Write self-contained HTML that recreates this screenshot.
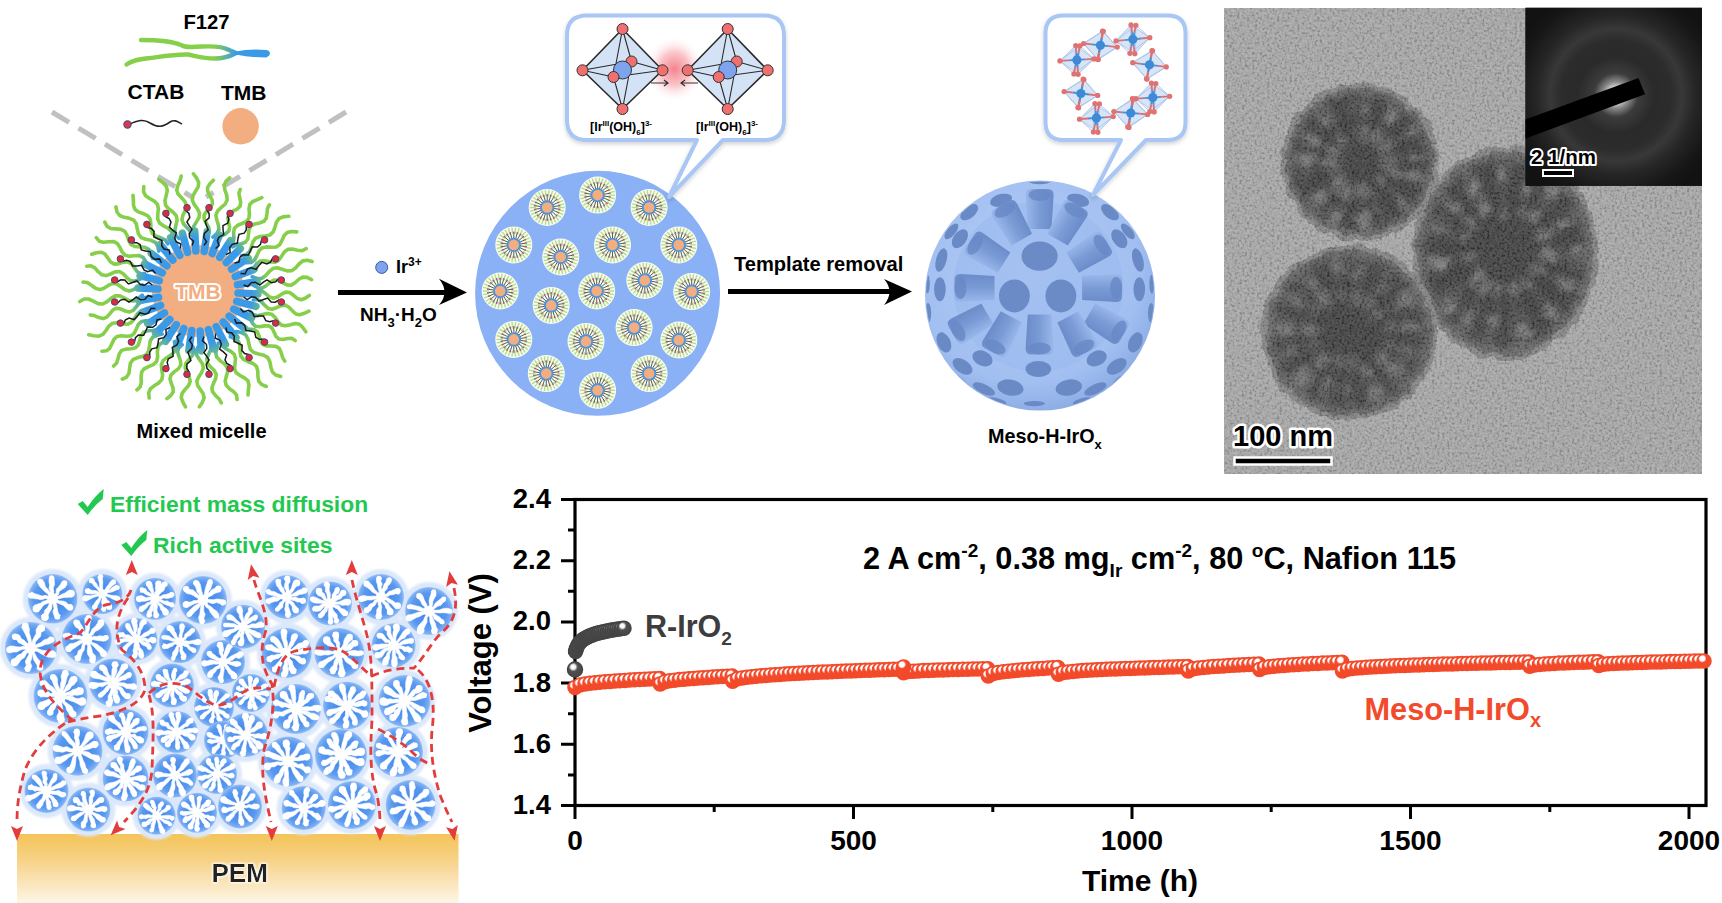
<!DOCTYPE html>
<html><head><meta charset="utf-8"><title>Meso-H-IrOx</title>
<style>html,body{margin:0;padding:0;background:#fff;width:1722px;height:903px;overflow:hidden}svg{display:block}</style></head>
<body><svg width="1722" height="903" viewBox="0 0 1722 903"><defs><radialGradient id="hlr" cx="0.38" cy="0.33" r="0.5"><stop offset="0" stop-color="#fff"/><stop offset="0.35" stop-color="#fff"/><stop offset="0.6" stop-color="#f24a2a"/><stop offset="1" stop-color="#f24a2a"/></radialGradient><radialGradient id="hlg" cx="0.38" cy="0.33" r="0.5"><stop offset="0" stop-color="#fff"/><stop offset="0.3" stop-color="#f4f4f4"/><stop offset="0.6" stop-color="#505050"/><stop offset="1" stop-color="#4a4a4a"/></radialGradient><clipPath id="temclip"><rect x="1224" y="8" width="478" height="466"/></clipPath><filter id="noise" x="0" y="0" width="100%" height="100%"><feTurbulence type="fractalNoise" baseFrequency="0.4" numOctaves="2" seed="3"/><feColorMatrix type="matrix" values="2.4 0 0 0 -0.7  2.4 0 0 0 -0.7  2.4 0 0 0 -0.7  0 0 0 0 0.16"/><feGaussianBlur stdDeviation="0.5"/></filter><filter id="rough" x="-20%" y="-20%" width="140%" height="140%"><feTurbulence type="fractalNoise" baseFrequency="0.08" numOctaves="3" seed="5" result="t"/><feDisplacementMap in="SourceGraphic" in2="t" scale="9" xChannelSelector="R" yChannelSelector="G"/></filter><filter id="blur2"><feGaussianBlur stdDeviation="2.2"/></filter><filter id="blur6" x="-50%" y="-50%" width="200%" height="200%"><feGaussianBlur stdDeviation="6"/></filter><radialGradient id="sphg"><stop offset="0" stop-color="#3c3c3c"/><stop offset="0.75" stop-color="#4e4e4e"/><stop offset="1" stop-color="#6a6a6a"/></radialGradient><radialGradient id="sphg2"><stop offset="0" stop-color="#333"/><stop offset="0.6" stop-color="#444"/><stop offset="0.88" stop-color="#525252"/><stop offset="1" stop-color="#646464"/></radialGradient><filter id="blur3" x="-10%" y="-10%" width="120%" height="120%"><feGaussianBlur stdDeviation="3"/></filter><radialGradient id="saed" cx="1616" cy="95" r="110" gradientUnits="userSpaceOnUse"><stop offset="0" stop-color="#fff"/><stop offset="0.05" stop-color="#fafafa"/><stop offset="0.12" stop-color="#8a8a8a"/><stop offset="0.2" stop-color="#3c3c3c"/><stop offset="0.35" stop-color="#2a2a2a"/><stop offset="0.5" stop-color="#2c2c2c"/><stop offset="0.6" stop-color="#383838"/><stop offset="0.72" stop-color="#262626"/><stop offset="0.9" stop-color="#161616"/><stop offset="1" stop-color="#121212"/></radialGradient><linearGradient id="f127g" x1="125" y1="0" x2="268" y2="0" gradientUnits="userSpaceOnUse"><stop offset="0" stop-color="#86cf4a"/><stop offset="0.62" stop-color="#86cf4a"/><stop offset="0.78" stop-color="#3a9ae8"/><stop offset="1" stop-color="#3a9ae8"/></linearGradient><radialGradient id="micg" cx="198" cy="291" r="118" gradientUnits="userSpaceOnUse"><stop offset="0" stop-color="#3a9ae8"/><stop offset="0.46" stop-color="#3a9ae8"/><stop offset="0.6" stop-color="#86cf4a"/><stop offset="1" stop-color="#86cf4a"/></radialGradient><g id="mic"><circle r="18.5" fill="#fafcf2"/><path d="M11.00 0.00L17.50 0.00M10.76 2.29L17.12 3.64M10.05 4.47L15.99 7.12M8.90 6.47L14.16 10.29M7.36 8.17L11.71 13.01M5.50 9.53L8.75 15.16M3.40 10.46L5.41 16.64M1.15 10.94L1.83 17.40M-1.15 10.94L-1.83 17.40M-3.40 10.46L-5.41 16.64M-5.50 9.53L-8.75 15.16M-7.36 8.17L-11.71 13.01M-8.90 6.47L-14.16 10.29M-10.05 4.47L-15.99 7.12M-10.76 2.29L-17.12 3.64M-11.00 0.00L-17.50 0.00M-10.76 -2.29L-17.12 -3.64M-10.05 -4.47L-15.99 -7.12M-8.90 -6.47L-14.16 -10.29M-7.36 -8.17L-11.71 -13.01M-5.50 -9.53L-8.75 -15.16M-3.40 -10.46L-5.41 -16.64M-1.15 -10.94L-1.83 -17.40M1.15 -10.94L1.83 -17.40M3.40 -10.46L5.41 -16.64M5.50 -9.53L8.75 -15.16M7.36 -8.17L11.71 -13.01M8.90 -6.47L14.16 -10.29M10.05 -4.47L15.99 -7.12M10.76 -2.29L17.12 -3.64" stroke="#b4dc8c" stroke-width="1.4"/><path d="M6.43 0.93L11.88 1.71M5.91 2.70L10.92 4.98M4.91 4.26L9.07 7.86M3.51 5.47L6.49 10.10M1.83 6.24L3.38 11.51M0.00 6.50L0.00 12.00M-1.83 6.24L-3.38 11.51M-3.51 5.47L-6.49 10.10M-4.91 4.26L-9.07 7.86M-5.91 2.70L-10.92 4.98M-6.43 0.93L-11.88 1.71M-6.43 -0.93L-11.88 -1.71M-5.91 -2.70L-10.92 -4.98M-4.91 -4.26L-9.07 -7.86M-3.51 -5.47L-6.49 -10.10M-1.83 -6.24L-3.38 -11.51M-0.00 -6.50L-0.00 -12.00M1.83 -6.24L3.38 -11.51M3.51 -5.47L6.49 -10.10M4.91 -4.26L9.07 -7.86M5.91 -2.70L10.92 -4.98M6.43 -0.93L11.88 -1.71" stroke="#4a4a3a" stroke-width="0.9"/><g fill="#a05a8a"><circle cx="12.37" cy="1.78" r="0.9"/><circle cx="11.37" cy="5.19" r="0.9"/><circle cx="9.45" cy="8.19" r="0.9"/><circle cx="6.76" cy="10.52" r="0.9"/><circle cx="3.52" cy="11.99" r="0.9"/><circle cx="0.00" cy="12.50" r="0.9"/><circle cx="-3.52" cy="11.99" r="0.9"/><circle cx="-6.76" cy="10.52" r="0.9"/><circle cx="-9.45" cy="8.19" r="0.9"/><circle cx="-11.37" cy="5.19" r="0.9"/><circle cx="-12.37" cy="1.78" r="0.9"/><circle cx="-12.37" cy="-1.78" r="0.9"/><circle cx="-11.37" cy="-5.19" r="0.9"/><circle cx="-9.45" cy="-8.19" r="0.9"/><circle cx="-6.76" cy="-10.52" r="0.9"/><circle cx="-3.52" cy="-11.99" r="0.9"/><circle cx="-0.00" cy="-12.50" r="0.9"/><circle cx="3.52" cy="-11.99" r="0.9"/><circle cx="6.76" cy="-10.52" r="0.9"/><circle cx="9.45" cy="-8.19" r="0.9"/><circle cx="11.37" cy="-5.19" r="0.9"/><circle cx="12.37" cy="-1.78" r="0.9"/></g><circle r="7.2" fill="#4d94dc"/><circle r="5.3" fill="#f2ae80"/></g><filter id="shadow" x="-10%" y="-10%" width="120%" height="130%"><feDropShadow dx="0" dy="2" stdDeviation="2" flood-color="#000" flood-opacity="0.18"/></filter><radialGradient id="glow"><stop offset="0" stop-color="#f46a78" stop-opacity="0.85"/><stop offset="0.5" stop-color="#f68a94" stop-opacity="0.5"/><stop offset="1" stop-color="#fff" stop-opacity="0"/></radialGradient><radialGradient id="mesog" cx="0.45" cy="0.4" r="0.6"><stop offset="0" stop-color="#b4cdf6"/><stop offset="0.8" stop-color="#a2bff1"/><stop offset="1" stop-color="#8eaee6"/></radialGradient><clipPath id="mesoclip"><circle cx="1040" cy="295.6" r="114"/></clipPath><linearGradient id="tubeg" x1="0" y1="0" x2="1" y2="0"><stop offset="0" stop-color="#9ab8ec"/><stop offset="0.5" stop-color="#7b9bd6"/><stop offset="1" stop-color="#6a8bc8"/></linearGradient><linearGradient id="pemg" x1="0" y1="0" x2="0" y2="1"><stop offset="0" stop-color="#f4c458"/><stop offset="0.4" stop-color="#f7d38a"/><stop offset="1" stop-color="#fdf6e6"/></linearGradient><filter id="glowt" x="-20%" y="-30%" width="140%" height="160%"><feMorphology operator="dilate" radius="1.2" in="SourceAlpha"/><feGaussianBlur stdDeviation="1.2"/><feColorMatrix values="0 0 0 0 1 0 0 0 0 1 0 0 0 0 1 0 0 0 1 0"/><feMerge><feMergeNode/><feMergeNode in="SourceGraphic"/></feMerge></filter><filter id="haze" x="-20%" y="-20%" width="140%" height="140%"><feGaussianBlur stdDeviation="1.2"/></filter><radialGradient id="bsph"><stop offset="0" stop-color="#3a82ea"/><stop offset="0.75" stop-color="#5898f0"/><stop offset="0.93" stop-color="#7aaef4"/><stop offset="1" stop-color="#a0c4f6"/></radialGradient></defs><rect x="575" y="499.5" width="1131" height="306" fill="none" stroke="#000" stroke-width="3.2"/>
<path d="M561 805.5H575 M568 774.9H575 M561 744.3H575 M568 713.7H575 M561 683.1H575 M568 652.5H575 M561 621.9H575 M568 591.3H575 M561 560.7H575 M568 530.1H575 M561 499.5H575 M575.0 805.5V819 M714.2 805.5V812 M853.5 805.5V819 M992.8 805.5V812 M1132.0 805.5V819 M1271.2 805.5V812 M1410.5 805.5V819 M1549.8 805.5V812 M1689.0 805.5V819" stroke="#000" stroke-width="3" fill="none"/>
<text x="551" y="814.0" text-anchor="end" font-size="27.5" font-weight="bold" font-family="'Liberation Sans', sans-serif">1.4</text>
<text x="551" y="752.8" text-anchor="end" font-size="27.5" font-weight="bold" font-family="'Liberation Sans', sans-serif">1.6</text>
<text x="551" y="691.6" text-anchor="end" font-size="27.5" font-weight="bold" font-family="'Liberation Sans', sans-serif">1.8</text>
<text x="551" y="630.4" text-anchor="end" font-size="27.5" font-weight="bold" font-family="'Liberation Sans', sans-serif">2.0</text>
<text x="551" y="569.2" text-anchor="end" font-size="27.5" font-weight="bold" font-family="'Liberation Sans', sans-serif">2.2</text>
<text x="551" y="508.0" text-anchor="end" font-size="27.5" font-weight="bold" font-family="'Liberation Sans', sans-serif">2.4</text>
<text x="575.0" y="850" text-anchor="middle" font-size="28" font-weight="bold" font-family="'Liberation Sans', sans-serif">0</text>
<text x="853.5" y="850" text-anchor="middle" font-size="28" font-weight="bold" font-family="'Liberation Sans', sans-serif">500</text>
<text x="1132.0" y="850" text-anchor="middle" font-size="28" font-weight="bold" font-family="'Liberation Sans', sans-serif">1000</text>
<text x="1410.5" y="850" text-anchor="middle" font-size="28" font-weight="bold" font-family="'Liberation Sans', sans-serif">1500</text>
<text x="1689.0" y="850" text-anchor="middle" font-size="28" font-weight="bold" font-family="'Liberation Sans', sans-serif">2000</text>
<text x="1140" y="891" text-anchor="middle" font-size="30" font-weight="bold" font-family="'Liberation Sans', sans-serif">Time (h)</text>
<text transform="translate(490.5 653) rotate(-90)" text-anchor="middle" font-size="31" font-weight="bold" font-family="'Liberation Sans', sans-serif">Voltage (V)</text>
<text x="863" y="569" font-size="30.7" font-weight="bold" font-family="'Liberation Sans', sans-serif">2 A cm<tspan dy="-12" font-size="19">-2</tspan><tspan dy="12">, 0.38 mg</tspan><tspan dy="8" font-size="19">Ir</tspan><tspan dy="-8"> cm</tspan><tspan dy="-12" font-size="19">-2</tspan><tspan dy="12">, 80 </tspan><tspan dy="-12" font-size="19">o</tspan><tspan dy="12">C, Nafion 115</tspan></text>
<text x="645" y="637" font-size="30.5" font-weight="bold" fill="#3d3d3d" font-family="'Liberation Sans', sans-serif">R-IrO<tspan dy="8" font-size="19">2</tspan></text>
<text x="1364.5" y="720" font-size="30.7" font-weight="bold" fill="#f24a2a" font-family="'Liberation Sans', sans-serif">Meso-H-IrO<tspan dy="7" font-size="20">x</tspan></text>
<g fill="url(#hlr)" stroke="#f24a2a" stroke-width="1.5"><circle cx="575.0" cy="687.4" r="7"/><circle cx="580.0" cy="684.9" r="7"/><circle cx="585.0" cy="684.0" r="7"/><circle cx="589.9" cy="683.3" r="7"/><circle cx="594.9" cy="682.8" r="7"/><circle cx="599.9" cy="682.3" r="7"/><circle cx="604.9" cy="681.8" r="7"/><circle cx="609.9" cy="681.4" r="7"/><circle cx="614.8" cy="681.1" r="7"/><circle cx="619.8" cy="680.7" r="7"/><circle cx="624.8" cy="680.4" r="7"/><circle cx="629.8" cy="680.1" r="7"/><circle cx="634.8" cy="679.8" r="7"/><circle cx="639.7" cy="679.5" r="7"/><circle cx="644.7" cy="679.3" r="7"/><circle cx="649.7" cy="679.0" r="7"/><circle cx="654.7" cy="678.7" r="7"/><circle cx="659.7" cy="678.5" r="7"/><circle cx="660.2" cy="684.0" r="7"/><circle cx="665.0" cy="681.7" r="7"/><circle cx="669.8" cy="680.8" r="7"/><circle cx="674.6" cy="680.2" r="7"/><circle cx="679.4" cy="679.6" r="7"/><circle cx="684.2" cy="679.2" r="7"/><circle cx="689.0" cy="678.8" r="7"/><circle cx="693.8" cy="678.4" r="7"/><circle cx="698.5" cy="678.0" r="7"/><circle cx="703.3" cy="677.7" r="7"/><circle cx="708.1" cy="677.4" r="7"/><circle cx="712.9" cy="677.1" r="7"/><circle cx="717.7" cy="676.8" r="7"/><circle cx="722.5" cy="676.6" r="7"/><circle cx="727.3" cy="676.3" r="7"/><circle cx="732.1" cy="676.1" r="7"/><circle cx="732.6" cy="681.3" r="7"/><circle cx="737.4" cy="678.8" r="7"/><circle cx="742.1" cy="677.9" r="7"/><circle cx="746.8" cy="677.3" r="7"/><circle cx="751.6" cy="676.7" r="7"/><circle cx="756.3" cy="676.2" r="7"/><circle cx="761.0" cy="675.8" r="7"/><circle cx="765.8" cy="675.4" r="7"/><circle cx="770.5" cy="675.0" r="7"/><circle cx="775.2" cy="674.7" r="7"/><circle cx="780.0" cy="674.4" r="7"/><circle cx="784.7" cy="674.1" r="7"/><circle cx="789.4" cy="673.8" r="7"/><circle cx="794.2" cy="673.5" r="7"/><circle cx="798.9" cy="673.3" r="7"/><circle cx="803.6" cy="673.0" r="7"/><circle cx="808.4" cy="672.8" r="7"/><circle cx="813.1" cy="672.5" r="7"/><circle cx="817.9" cy="672.3" r="7"/><circle cx="822.6" cy="672.1" r="7"/><circle cx="827.3" cy="671.9" r="7"/><circle cx="832.1" cy="671.7" r="7"/><circle cx="836.8" cy="671.5" r="7"/><circle cx="841.5" cy="671.3" r="7"/><circle cx="846.3" cy="671.1" r="7"/><circle cx="851.0" cy="670.9" r="7"/><circle cx="855.7" cy="670.7" r="7"/><circle cx="860.5" cy="670.5" r="7"/><circle cx="865.2" cy="670.3" r="7"/><circle cx="869.9" cy="670.2" r="7"/><circle cx="874.7" cy="670.0" r="7"/><circle cx="879.4" cy="669.8" r="7"/><circle cx="884.1" cy="669.7" r="7"/><circle cx="888.9" cy="669.5" r="7"/><circle cx="893.6" cy="669.3" r="7"/><circle cx="898.3" cy="669.2" r="7"/><circle cx="903.1" cy="669.0" r="7"/><circle cx="903.6" cy="672.7" r="7"/><circle cx="908.6" cy="671.6" r="7"/><circle cx="913.5" cy="671.2" r="7"/><circle cx="918.5" cy="670.9" r="7"/><circle cx="923.4" cy="670.6" r="7"/><circle cx="928.4" cy="670.4" r="7"/><circle cx="933.3" cy="670.2" r="7"/><circle cx="938.3" cy="670.0" r="7"/><circle cx="943.2" cy="669.9" r="7"/><circle cx="948.2" cy="669.7" r="7"/><circle cx="953.1" cy="669.6" r="7"/><circle cx="958.1" cy="669.4" r="7"/><circle cx="963.0" cy="669.3" r="7"/><circle cx="967.9" cy="669.2" r="7"/><circle cx="972.9" cy="669.1" r="7"/><circle cx="977.8" cy="668.9" r="7"/><circle cx="982.8" cy="668.8" r="7"/><circle cx="987.7" cy="668.7" r="7"/><circle cx="988.3" cy="676.1" r="7"/><circle cx="993.3" cy="673.4" r="7"/><circle cx="998.2" cy="672.5" r="7"/><circle cx="1003.2" cy="671.8" r="7"/><circle cx="1008.2" cy="671.2" r="7"/><circle cx="1013.2" cy="670.7" r="7"/><circle cx="1018.1" cy="670.2" r="7"/><circle cx="1023.1" cy="669.8" r="7"/><circle cx="1028.1" cy="669.4" r="7"/><circle cx="1033.1" cy="669.0" r="7"/><circle cx="1038.0" cy="668.7" r="7"/><circle cx="1043.0" cy="668.4" r="7"/><circle cx="1048.0" cy="668.1" r="7"/><circle cx="1052.9" cy="667.8" r="7"/><circle cx="1057.9" cy="667.5" r="7"/><circle cx="1058.5" cy="674.2" r="7"/><circle cx="1063.3" cy="672.5" r="7"/><circle cx="1068.0" cy="671.9" r="7"/><circle cx="1072.8" cy="671.4" r="7"/><circle cx="1077.6" cy="671.0" r="7"/><circle cx="1082.4" cy="670.6" r="7"/><circle cx="1087.2" cy="670.3" r="7"/><circle cx="1092.0" cy="670.1" r="7"/><circle cx="1096.8" cy="669.8" r="7"/><circle cx="1101.6" cy="669.6" r="7"/><circle cx="1106.3" cy="669.3" r="7"/><circle cx="1111.1" cy="669.1" r="7"/><circle cx="1115.9" cy="668.9" r="7"/><circle cx="1120.7" cy="668.7" r="7"/><circle cx="1125.5" cy="668.5" r="7"/><circle cx="1130.3" cy="668.4" r="7"/><circle cx="1135.1" cy="668.2" r="7"/><circle cx="1139.8" cy="668.0" r="7"/><circle cx="1144.6" cy="667.9" r="7"/><circle cx="1149.4" cy="667.7" r="7"/><circle cx="1154.2" cy="667.5" r="7"/><circle cx="1159.0" cy="667.4" r="7"/><circle cx="1163.8" cy="667.2" r="7"/><circle cx="1168.6" cy="667.1" r="7"/><circle cx="1173.3" cy="667.0" r="7"/><circle cx="1178.1" cy="666.8" r="7"/><circle cx="1182.9" cy="666.7" r="7"/><circle cx="1187.7" cy="666.6" r="7"/><circle cx="1188.3" cy="670.9" r="7"/><circle cx="1193.3" cy="668.8" r="7"/><circle cx="1198.4" cy="668.1" r="7"/><circle cx="1203.4" cy="667.5" r="7"/><circle cx="1208.5" cy="667.0" r="7"/><circle cx="1213.5" cy="666.6" r="7"/><circle cx="1218.6" cy="666.3" r="7"/><circle cx="1223.6" cy="665.9" r="7"/><circle cx="1228.7" cy="665.6" r="7"/><circle cx="1233.7" cy="665.3" r="7"/><circle cx="1238.8" cy="665.1" r="7"/><circle cx="1243.8" cy="664.8" r="7"/><circle cx="1248.9" cy="664.6" r="7"/><circle cx="1253.9" cy="664.3" r="7"/><circle cx="1259.0" cy="664.1" r="7"/><circle cx="1259.6" cy="669.6" r="7"/><circle cx="1264.4" cy="667.6" r="7"/><circle cx="1269.3" cy="666.8" r="7"/><circle cx="1274.1" cy="666.3" r="7"/><circle cx="1278.9" cy="665.8" r="7"/><circle cx="1283.8" cy="665.4" r="7"/><circle cx="1288.6" cy="665.0" r="7"/><circle cx="1293.5" cy="664.7" r="7"/><circle cx="1298.3" cy="664.4" r="7"/><circle cx="1303.2" cy="664.1" r="7"/><circle cx="1308.0" cy="663.9" r="7"/><circle cx="1312.9" cy="663.6" r="7"/><circle cx="1317.7" cy="663.4" r="7"/><circle cx="1322.6" cy="663.1" r="7"/><circle cx="1327.4" cy="662.9" r="7"/><circle cx="1332.3" cy="662.7" r="7"/><circle cx="1337.1" cy="662.5" r="7"/><circle cx="1342.0" cy="662.3" r="7"/><circle cx="1342.5" cy="670.9" r="7"/><circle cx="1347.3" cy="669.2" r="7"/><circle cx="1352.1" cy="668.5" r="7"/><circle cx="1356.9" cy="668.1" r="7"/><circle cx="1361.7" cy="667.7" r="7"/><circle cx="1366.5" cy="667.3" r="7"/><circle cx="1371.3" cy="667.0" r="7"/><circle cx="1376.0" cy="666.8" r="7"/><circle cx="1380.8" cy="666.5" r="7"/><circle cx="1385.6" cy="666.3" r="7"/><circle cx="1390.4" cy="666.1" r="7"/><circle cx="1395.2" cy="665.8" r="7"/><circle cx="1400.0" cy="665.6" r="7"/><circle cx="1404.7" cy="665.4" r="7"/><circle cx="1409.5" cy="665.3" r="7"/><circle cx="1414.3" cy="665.1" r="7"/><circle cx="1419.1" cy="664.9" r="7"/><circle cx="1423.9" cy="664.8" r="7"/><circle cx="1428.7" cy="664.6" r="7"/><circle cx="1433.5" cy="664.4" r="7"/><circle cx="1438.2" cy="664.3" r="7"/><circle cx="1443.0" cy="664.1" r="7"/><circle cx="1447.8" cy="664.0" r="7"/><circle cx="1452.6" cy="663.9" r="7"/><circle cx="1457.4" cy="663.7" r="7"/><circle cx="1462.2" cy="663.6" r="7"/><circle cx="1466.9" cy="663.5" r="7"/><circle cx="1471.7" cy="663.3" r="7"/><circle cx="1476.5" cy="663.2" r="7"/><circle cx="1481.3" cy="663.1" r="7"/><circle cx="1486.1" cy="663.0" r="7"/><circle cx="1490.9" cy="662.9" r="7"/><circle cx="1495.6" cy="662.7" r="7"/><circle cx="1500.4" cy="662.6" r="7"/><circle cx="1505.2" cy="662.5" r="7"/><circle cx="1510.0" cy="662.4" r="7"/><circle cx="1514.8" cy="662.3" r="7"/><circle cx="1519.6" cy="662.2" r="7"/><circle cx="1524.4" cy="662.1" r="7"/><circle cx="1529.1" cy="662.0" r="7"/><circle cx="1529.7" cy="666.3" r="7"/><circle cx="1534.6" cy="664.9" r="7"/><circle cx="1539.5" cy="664.4" r="7"/><circle cx="1544.4" cy="664.0" r="7"/><circle cx="1549.3" cy="663.7" r="7"/><circle cx="1554.2" cy="663.4" r="7"/><circle cx="1559.1" cy="663.1" r="7"/><circle cx="1564.0" cy="662.9" r="7"/><circle cx="1568.8" cy="662.7" r="7"/><circle cx="1573.7" cy="662.5" r="7"/><circle cx="1578.6" cy="662.3" r="7"/><circle cx="1583.5" cy="662.2" r="7"/><circle cx="1588.4" cy="662.0" r="7"/><circle cx="1593.3" cy="661.8" r="7"/><circle cx="1598.2" cy="661.7" r="7"/><circle cx="1598.8" cy="665.4" r="7"/><circle cx="1603.6" cy="664.2" r="7"/><circle cx="1608.3" cy="663.8" r="7"/><circle cx="1613.1" cy="663.5" r="7"/><circle cx="1617.9" cy="663.3" r="7"/><circle cx="1622.7" cy="663.1" r="7"/><circle cx="1627.5" cy="662.9" r="7"/><circle cx="1632.3" cy="662.7" r="7"/><circle cx="1637.0" cy="662.5" r="7"/><circle cx="1641.8" cy="662.4" r="7"/><circle cx="1646.6" cy="662.2" r="7"/><circle cx="1651.4" cy="662.1" r="7"/><circle cx="1656.2" cy="662.0" r="7"/><circle cx="1661.0" cy="661.9" r="7"/><circle cx="1665.8" cy="661.7" r="7"/><circle cx="1670.5" cy="661.6" r="7"/><circle cx="1675.3" cy="661.5" r="7"/><circle cx="1680.1" cy="661.4" r="7"/><circle cx="1684.9" cy="661.3" r="7"/><circle cx="1689.7" cy="661.2" r="7"/><circle cx="1694.5" cy="661.1" r="7"/><circle cx="1699.3" cy="661.0" r="7"/><circle cx="1704.0" cy="660.9" r="7"/><circle cx="903.6" cy="666.9" r="7"/></g>
<circle cx="575.0" cy="669.5" r="7.5" fill="url(#hlg)" stroke="#444" stroke-width="1.5"/>
<g fill="url(#hlg)" stroke="#444" stroke-width="1.5"><circle cx="575.6" cy="651.6" r="7"/><circle cx="576.3" cy="648.8" r="7"/><circle cx="577.4" cy="646.2" r="7"/><circle cx="578.6" cy="644.0" r="7"/><circle cx="580.0" cy="642.2" r="7"/><circle cx="581.5" cy="640.8" r="7"/><circle cx="583.1" cy="639.5" r="7"/><circle cx="584.8" cy="638.4" r="7"/><circle cx="586.6" cy="637.4" r="7"/><circle cx="588.4" cy="636.5" r="7"/><circle cx="590.3" cy="635.7" r="7"/><circle cx="592.2" cy="634.9" r="7"/><circle cx="594.2" cy="634.2" r="7"/><circle cx="596.3" cy="633.6" r="7"/><circle cx="598.4" cy="633.0" r="7"/><circle cx="600.5" cy="632.5" r="7"/><circle cx="602.7" cy="631.9" r="7"/><circle cx="604.9" cy="631.4" r="7"/><circle cx="607.2" cy="631.0" r="7"/><circle cx="609.5" cy="630.5" r="7"/><circle cx="611.8" cy="630.1" r="7"/><circle cx="614.2" cy="629.7" r="7"/><circle cx="616.6" cy="629.3" r="7"/><circle cx="619.0" cy="629.0" r="7"/><circle cx="621.5" cy="628.6" r="7"/><circle cx="624.0" cy="628.3" r="7"/></g>
<g clip-path="url(#temclip)">
<rect x="1224" y="8" width="478" height="466" fill="#a4a4a4"/>
<g filter="url(#rough)"><ellipse cx="1360" cy="162" rx="79" ry="79" fill="#7e7e7e"/><ellipse cx="1360" cy="162" rx="74" ry="74" fill="url(#sphg2)"/><g fill="#929292" opacity="0.6" filter="url(#blur3)"><circle cx="1395.7" cy="172.2" r="7.5"/><circle cx="1414.7" cy="174.4" r="7.6"/><circle cx="1381.3" cy="179.7" r="5.5"/><circle cx="1402.0" cy="202.9" r="5.2"/><circle cx="1371.2" cy="194.2" r="5.8"/><circle cx="1377.2" cy="208.5" r="5.3"/><circle cx="1362.2" cy="188.9" r="7.2"/><circle cx="1364.1" cy="220.9" r="8.2"/><circle cx="1349.0" cy="191.8" r="10.0"/><circle cx="1332.7" cy="216.3" r="8.5"/><circle cx="1340.7" cy="184.9" r="8.8"/><circle cx="1319.3" cy="197.4" r="6.9"/><circle cx="1334.7" cy="170.3" r="9.6"/><circle cx="1306.0" cy="170.8" r="7.0"/><circle cx="1324.5" cy="163.2" r="5.4"/><circle cx="1307.1" cy="156.4" r="8.8"/><circle cx="1333.9" cy="152.5" r="9.0"/><circle cx="1313.7" cy="139.6" r="7.2"/><circle cx="1342.5" cy="140.0" r="5.6"/><circle cx="1322.7" cy="122.7" r="6.3"/><circle cx="1357.8" cy="132.0" r="6.1"/><circle cx="1355.7" cy="108.3" r="8.2"/><circle cx="1362.1" cy="133.0" r="8.9"/><circle cx="1364.3" cy="109.0" r="5.4"/><circle cx="1375.6" cy="137.1" r="6.9"/><circle cx="1392.2" cy="117.9" r="7.4"/><circle cx="1383.7" cy="145.8" r="9.5"/><circle cx="1409.1" cy="129.7" r="5.9"/><circle cx="1388.8" cy="162.1" r="9.4"/><circle cx="1416.0" cy="156.3" r="5.5"/></g><path d="M1371.4 162.3L1428.3 159.0L1427.1 175.3L1371.3 163.4ZM1370.2 167.2L1423.3 187.9L1414.0 203.9L1369.5 168.2ZM1366.7 171.2L1404.9 213.6L1387.9 224.4L1365.6 172.0ZM1363.6 172.8L1385.3 225.5L1372.6 229.2L1362.7 173.1ZM1358.4 173.3L1355.8 230.3L1338.8 227.0L1357.3 173.1ZM1354.2 171.8L1328.4 222.7L1317.4 215.5L1353.4 171.3ZM1350.1 167.7L1303.8 201.0L1295.3 184.1L1349.6 166.6ZM1348.9 164.8L1295.1 183.6L1291.8 167.0L1348.7 163.7ZM1348.8 159.8L1292.2 153.0L1295.2 140.1L1349.0 159.0ZM1350.6 155.5L1301.0 127.5L1311.9 113.3L1351.4 154.5ZM1355.4 151.6L1327.4 101.9L1344.8 95.3L1356.6 151.1ZM1358.3 150.7L1343.9 95.5L1364.2 93.7L1359.7 150.6ZM1363.2 151.0L1374.2 95.1L1389.8 100.4L1364.2 151.4ZM1368.0 153.8L1403.5 109.2L1416.4 123.3L1368.8 154.8ZM1370.7 158.1L1421.9 132.8L1427.6 151.8L1371.1 159.3Z" fill="#2a2a2a" opacity="0.6" filter="url(#blur3)"/><ellipse cx="1360" cy="162" rx="22.8" ry="22.8" fill="#3a3a3a" opacity="0.5" filter="url(#blur6)"/></g>
<g filter="url(#rough)"><ellipse cx="1505" cy="253" rx="93" ry="107" fill="#7e7e7e"/><ellipse cx="1505" cy="253" rx="88" ry="102" fill="url(#sphg2)"/><g fill="#929292" opacity="0.6" filter="url(#blur3)"><circle cx="1527.7" cy="283.3" r="6.3"/><circle cx="1551.7" cy="312.6" r="6.5"/><circle cx="1516.6" cy="288.0" r="7.8"/><circle cx="1525.0" cy="330.5" r="6.4"/><circle cx="1499.2" cy="289.0" r="7.2"/><circle cx="1495.2" cy="320.6" r="6.8"/><circle cx="1482.4" cy="286.0" r="9.9"/><circle cx="1465.3" cy="315.9" r="7.9"/><circle cx="1478.0" cy="272.2" r="8.5"/><circle cx="1451.7" cy="308.0" r="8.2"/><circle cx="1469.3" cy="255.4" r="5.4"/><circle cx="1439.5" cy="261.3" r="9.5"/><circle cx="1465.9" cy="234.6" r="6.8"/><circle cx="1442.2" cy="223.6" r="9.4"/><circle cx="1471.6" cy="221.5" r="8.1"/><circle cx="1455.8" cy="206.4" r="8.0"/><circle cx="1485.0" cy="206.6" r="8.6"/><circle cx="1474.9" cy="188.1" r="7.9"/><circle cx="1504.7" cy="215.3" r="5.1"/><circle cx="1500.8" cy="176.2" r="6.2"/><circle cx="1523.6" cy="212.4" r="6.3"/><circle cx="1525.8" cy="189.6" r="8.4"/><circle cx="1535.5" cy="216.7" r="7.2"/><circle cx="1550.7" cy="190.9" r="8.3"/><circle cx="1545.1" cy="237.1" r="9.4"/><circle cx="1563.7" cy="224.5" r="6.6"/><circle cx="1547.7" cy="256.2" r="8.6"/><circle cx="1576.2" cy="248.9" r="5.8"/><circle cx="1536.0" cy="270.2" r="8.1"/><circle cx="1564.3" cy="284.3" r="9.2"/></g><path d="M1516.5 261.1L1577.6 294.5L1564.1 317.1L1515.6 262.6ZM1512.3 266.1L1554.2 327.3L1536.0 339.5L1511.1 266.9ZM1505.2 268.6L1511.0 346.3L1495.7 346.0L1504.2 268.6ZM1500.4 267.7L1481.6 342.6L1468.2 336.4L1499.5 267.3ZM1496.4 265.0L1456.3 327.8L1446.3 317.5L1495.7 264.3ZM1492.7 259.3L1433.8 297.7L1426.2 274.8L1492.2 257.8ZM1491.5 252.3L1424.0 256.2L1426.0 232.2L1491.6 250.7ZM1492.6 246.8L1428.2 223.1L1438.0 200.5L1493.2 245.3ZM1495.3 242.1L1442.9 192.8L1457.7 177.0L1496.3 241.0ZM1500.7 238.2L1472.9 167.1L1494.5 160.2L1502.1 237.8ZM1507.0 237.6L1511.4 159.7L1529.6 163.8L1508.2 237.8ZM1511.4 239.3L1539.3 168.2L1552.1 176.9L1512.2 239.8ZM1515.6 243.3L1565.2 190.3L1575.6 207.0L1516.3 244.5ZM1518.0 249.0L1581.6 222.7L1585.6 243.6L1518.3 250.4ZM1518.2 256.4L1585.0 267.7L1580.9 285.6L1517.9 257.6Z" fill="#2a2a2a" opacity="0.6" filter="url(#blur3)"/><ellipse cx="1505" cy="253" rx="27.0" ry="31.2" fill="#3a3a3a" opacity="0.5" filter="url(#blur6)"/></g>
<g filter="url(#rough)"><ellipse cx="1349" cy="332.5" rx="88" ry="88" fill="#7e7e7e"/><ellipse cx="1349" cy="332.5" rx="83" ry="83" fill="url(#sphg2)"/><g fill="#929292" opacity="0.45" filter="url(#blur3)"><circle cx="1350.2" cy="363.2" r="9.4"/><circle cx="1343.7" cy="388.0" r="7.9"/><circle cx="1340.5" cy="361.3" r="7.3"/><circle cx="1326.1" cy="383.1" r="6.2"/><circle cx="1323.6" cy="360.4" r="8.1"/><circle cx="1302.9" cy="376.3" r="9.8"/><circle cx="1315.7" cy="345.6" r="5.1"/><circle cx="1289.9" cy="348.7" r="5.9"/><circle cx="1310.4" cy="330.8" r="8.1"/><circle cx="1284.1" cy="331.4" r="9.0"/><circle cx="1314.8" cy="308.7" r="5.6"/><circle cx="1298.3" cy="298.6" r="9.5"/><circle cx="1325.3" cy="299.1" r="9.7"/><circle cx="1312.2" cy="283.7" r="6.0"/><circle cx="1343.1" cy="295.0" r="6.1"/><circle cx="1342.1" cy="266.1" r="9.9"/><circle cx="1358.0" cy="299.9" r="9.3"/><circle cx="1355.2" cy="273.1" r="7.2"/><circle cx="1366.7" cy="301.2" r="9.0"/><circle cx="1383.8" cy="288.5" r="5.9"/><circle cx="1374.1" cy="313.4" r="7.6"/><circle cx="1405.2" cy="301.0" r="8.4"/><circle cx="1390.4" cy="326.6" r="6.1"/><circle cx="1410.7" cy="326.3" r="8.6"/><circle cx="1387.4" cy="345.3" r="6.6"/><circle cx="1404.8" cy="354.7" r="9.5"/><circle cx="1382.2" cy="358.4" r="7.9"/><circle cx="1394.5" cy="368.1" r="7.5"/><circle cx="1366.4" cy="370.9" r="7.0"/><circle cx="1375.5" cy="392.4" r="7.5"/></g><path d="M1351.5 345.0L1369.3 406.3L1352.4 408.9L1350.4 345.2ZM1347.8 345.2L1347.9 409.0L1327.5 405.9L1346.4 345.0ZM1342.8 343.6L1315.2 401.1L1304.3 394.6L1342.1 343.2ZM1338.2 339.2L1286.5 376.6L1279.3 364.1L1337.7 338.4ZM1336.5 335.2L1275.4 353.2L1272.7 337.6L1336.4 334.1ZM1336.9 328.5L1275.2 312.2L1279.8 299.9L1337.2 327.7ZM1338.7 324.9L1284.4 291.5L1296.0 277.4L1339.5 324.0ZM1343.3 321.1L1309.2 267.1L1328.4 258.8L1344.6 320.5ZM1348.0 319.8L1337.1 256.9L1357.7 256.5L1349.4 319.8ZM1353.3 320.5L1369.1 258.7L1387.9 266.6L1354.6 321.0ZM1357.5 323.0L1395.1 271.5L1409.8 286.0L1358.5 324.0ZM1361.1 328.6L1420.0 304.0L1424.6 320.9L1361.4 329.7ZM1361.7 333.2L1425.5 331.3L1423.7 349.0L1361.6 334.4ZM1360.8 337.4L1421.9 355.7L1412.7 374.9L1360.2 338.6ZM1356.9 342.5L1399.5 390.0L1389.4 397.5L1356.3 343.0Z" fill="#2a2a2a" opacity="0.5" filter="url(#blur3)"/><ellipse cx="1349" cy="332.5" rx="25.5" ry="25.5" fill="#3a3a3a" opacity="0.5" filter="url(#blur6)"/></g>
<rect x="1224" y="8" width="478" height="466" filter="url(#noise)"/>
</g>
<rect x="1525.5" y="7.8" width="176.5" height="178" fill="#161616"/>
<rect x="1525.5" y="7.8" width="176.5" height="178" fill="url(#saed)"/>
<path d="M1525.5 119.6L1638.5 78L1645 94.2L1525.5 138.5Z" fill="#000"/>
<text x="1531" y="164" font-size="20.5" font-weight="bold" fill="#000" stroke="#fff" stroke-width="4" stroke-linejoin="round" paint-order="stroke" font-family="'Liberation Sans', sans-serif">2 1/nm</text>
<rect x="1543" y="170" width="30" height="6" fill="#000" stroke="#fff" stroke-width="2"/>
<text x="1233" y="446" font-size="29" font-weight="bold" fill="#000" stroke="#fff" stroke-width="5" stroke-linejoin="round" paint-order="stroke" font-family="'Liberation Sans', sans-serif">100 nm</text>
<rect x="1234.5" y="457.5" width="97" height="7" fill="#000" stroke="#fff" stroke-width="2.5"/>
<text x="206.5" y="29.3" text-anchor="middle" font-size="20.3" font-weight="bold" font-family="'Liberation Sans', sans-serif">F127</text>
<text x="156" y="99.1" text-anchor="middle" font-size="21" font-weight="bold" font-family="'Liberation Sans', sans-serif">CTAB</text>
<text x="243.8" y="99.6" text-anchor="middle" font-size="21" font-weight="bold" font-family="'Liberation Sans', sans-serif">TMB</text>
<path d="M141 40 C155 40 172 41 181 45 C186 48 190 47 202 46.5 C212 46 222 46 229 50 L236 53 M126.5 64.5 C133 60 140 59 150 58 C165 56 178 54 188 54.5 C196 56 204 58.5 214 58.5 C222 58.5 229 57 236 53" fill="none" stroke="url(#f127g)" stroke-width="4.4" stroke-linecap="round" stroke-linejoin="round"/>
<path d="M236 53 Q250 50 266 51.5 Q271 53 266 56 Q250 56 236 53Z" fill="#3a9ae8" stroke="#3a9ae8" stroke-width="3" stroke-linejoin="round"/>
<path d="M129 124.5 C138 120 144 119 150 123 C158 128 163 127 170 122 C175 119 178 122 182 124" fill="none" stroke="#222" stroke-width="1.6"/>
<circle cx="127.5" cy="124.5" r="3.6" fill="#e8343e" stroke="#4a4a8a" stroke-width="1.2"/>
<circle cx="240.6" cy="126.3" r="18.2" fill="#f2ae80"/>
<path d="M52 112 L192 197 M346 112 L206 197" stroke="#c0c0c0" stroke-width="5" stroke-dasharray="20 11" fill="none"/>
<circle cx="198" cy="291" r="46" fill="#f2ae80"/>
<path d="M254.0,292.8 L258.0,290.8 L261.9,291.1 L265.8,293.8 L269.6,296.9 L273.4,298.3 L277.5,297.0 L281.6,294.2 L285.6,292.1 L289.6,292.5 L293.5,295.3 L297.2,298.4 L301.1,299.7 L305.2,298.3 L309.3,295.5 M253.3,300.0 L257.5,299.5 L261.2,301.5 L264.6,305.2 L268.1,308.4 L272.0,309.2 L276.5,307.7 L281.1,305.6 L285.3,305.1 L289.0,307.2 L292.4,310.9 L295.9,314.0 L299.9,314.8 L304.3,313.3 L308.9,311.2 M250.1,311.5 L253.4,314.8 L257.6,315.7 L262.5,314.6 L267.4,313.4 L271.6,314.2 L275.0,317.3 L278.0,321.7 L281.2,324.9 L285.4,325.8 L290.4,324.7 L295.3,323.5 L299.5,324.3 L302.8,327.5 L305.8,331.8 M248.5,315.1 L250.7,319.2 L252.6,323.5 L255.4,326.2 L259.6,326.7 L264.4,325.9 L268.7,325.7 L271.9,327.9 L274.0,332.0 L275.9,336.3 L278.8,339.0 L282.9,339.4 L287.7,338.5 L292.0,338.4 L295.2,340.6 M240.4,327.5 L244.3,329.1 L249.2,329.3 L253.9,329.6 L257.2,331.8 L259.1,335.9 L260.4,340.7 L262.6,344.3 L266.5,345.9 L271.4,346.0 L276.1,346.4 L279.4,348.6 L281.2,352.8 L282.6,357.6 L284.8,361.1 M236.6,331.5 L241.8,332.7 L245.8,335.0 L248.0,339.3 L249.0,344.6 L250.4,349.4 L253.7,352.5 L258.6,354.0 L263.9,355.2 L267.8,357.6 L269.9,361.9 L270.9,367.2 L272.4,372.0 L275.7,375.0 L280.7,376.5 M230.3,336.8 L235.2,338.6 L238.6,341.5 L239.9,346.0 L240.0,351.3 L240.8,356.1 L243.6,359.5 L248.2,361.7 L253.1,363.5 L256.5,366.4 L257.8,370.9 L257.9,376.3 L258.7,381.1 L261.5,384.4 L266.2,386.5 M221.0,342.1 L222.4,346.1 L226.2,349.0 L230.8,351.4 L234.3,354.3 L235.5,358.5 L235.0,363.6 L234.5,368.5 L236.0,372.5 L239.8,375.4 L244.4,377.8 L247.9,380.7 L249.0,384.9 L248.4,390.0 L248.0,395.0 M218.3,343.2 L217.0,348.2 L215.8,353.0 L216.7,357.1 L220.0,360.6 L224.2,363.6 L227.2,367.0 L227.7,371.4 L226.3,376.3 L225.2,381.1 L226.2,385.3 L229.5,388.7 L233.7,391.7 L236.6,395.2 L237.1,399.5 M211.1,345.4 L210.7,349.8 L208.6,354.4 L206.8,358.9 L207.4,363.0 L210.4,366.8 L214.1,370.3 L216.2,374.1 L215.7,378.5 L213.6,383.1 L211.9,387.6 L212.5,391.7 L215.5,395.5 L219.2,399.0 L221.3,402.8 M198.0,347.0 L196.1,351.2 L196.8,355.5 L199.6,359.8 L202.5,363.9 L203.4,368.1 L201.6,372.5 L198.7,376.9 L196.8,381.1 L197.6,385.4 L200.4,389.6 L203.2,393.8 L204.1,398.0 L202.3,402.4 L199.4,406.7 M192.9,346.8 L194.0,351.2 L192.4,355.4 L189.0,359.4 L185.9,363.3 L185.1,367.6 L186.7,372.2 L189.2,376.8 L190.2,381.3 L188.6,385.5 L185.1,389.4 L182.1,393.4 L181.3,397.6 L183.0,402.3 L185.5,406.9 M182.2,344.7 L178.8,347.8 L177.6,351.7 L178.8,356.2 L180.5,360.9 L180.8,365.0 L178.5,368.6 L174.5,371.7 L171.1,374.8 L170.0,378.7 L171.2,383.2 L173.0,387.8 L173.2,392.0 L170.8,395.5 L166.9,398.6 M174.4,341.8 L175.3,347.0 L174.6,351.4 L171.4,354.9 L166.8,357.7 L163.0,360.7 L161.3,364.8 L161.8,369.9 L162.6,375.1 L161.9,379.5 L158.6,383.0 L154.1,385.8 L150.3,388.8 L148.7,392.9 L149.2,398.0 M169.7,339.3 L164.9,341.4 L160.5,343.6 L157.9,347.0 L157.4,351.9 L157.6,357.1 L156.6,361.5 L153.3,364.6 L148.5,366.6 L144.1,368.8 L141.6,372.3 L141.1,377.2 L141.3,382.4 L140.2,386.8 L136.9,389.8 M162.2,334.1 L157.1,335.3 L152.8,337.1 L150.3,340.7 L149.5,345.8 L148.7,350.8 L146.5,354.5 L142.3,356.6 L137.1,357.8 L132.9,359.7 L130.4,363.3 L129.6,368.4 L128.9,373.4 L126.6,377.1 L122.3,379.1 M157.3,329.5 L152.8,330.5 L147.7,330.8 L143.6,332.1 L141.1,335.5 L139.8,340.3 L138.3,344.9 L135.5,347.8 L130.9,348.8 L125.9,349.1 L121.7,350.4 L119.3,353.8 L118.0,358.7 L116.5,363.2 L113.6,366.1 M150.9,321.4 L145.9,320.9 L141.5,321.5 L138.4,324.3 L136.3,328.9 L134.2,333.3 L131.0,335.9 L126.4,336.3 L121.3,335.8 L117.0,336.5 L113.9,339.4 L111.8,343.9 L109.7,348.3 L106.5,350.8 L101.9,351.2 M145.6,310.9 L141.1,311.2 L137.4,314.0 L134.4,318.4 L131.4,322.4 L127.4,324.3 L122.4,323.9 L117.1,322.8 L112.6,323.2 L108.9,326.1 L106.0,330.5 L102.9,334.4 L98.9,336.2 L93.9,335.8 L88.7,334.8 M143.0,301.5 L139.4,303.1 L136.2,306.8 L133.2,310.4 L129.6,311.9 L125.3,311.0 L120.8,309.0 L116.6,308.2 L113.0,309.9 L109.9,313.6 L106.8,317.1 L103.2,318.6 L98.9,317.6 L94.4,315.6 L90.3,314.9 M142.2,295.2 L138.0,298.7 L133.8,300.9 L129.2,300.5 L124.4,298.2 L119.8,295.9 L115.3,295.9 L111.0,298.4 L106.8,301.8 L102.6,304.0 L98.0,303.6 L93.3,301.2 L88.6,299.0 L84.1,299.0 L79.8,301.5 M142.3,284.9 L137.9,286.8 L133.5,289.6 L129.3,291.0 L125.1,289.8 L120.9,286.8 L116.9,284.0 L112.7,283.4 L108.3,285.4 L103.9,288.2 L99.7,289.6 L95.5,288.3 L91.4,285.2 L87.3,282.5 L83.1,282.0 M143.6,277.6 L138.9,279.7 L134.4,281.3 L130.4,280.6 L126.7,277.5 L123.2,273.7 L119.5,271.5 L115.1,271.9 L110.5,274.0 L106.0,275.6 L101.9,274.8 L98.2,271.7 L94.8,267.9 L91.0,265.8 L86.7,266.2 M144.8,273.5 L140.5,273.7 L137.0,271.5 L134.1,267.4 L131.3,263.6 L127.6,261.8 L123.0,262.4 L118.2,263.9 L113.9,264.1 L110.4,261.8 L107.6,257.7 L104.7,253.9 L101.0,252.2 L96.5,252.8 L91.7,254.3 M147.9,266.0 L145.6,261.3 L143.1,257.4 L139.3,255.6 L134.3,255.7 L129.3,256.3 L125.1,255.2 L122.1,251.9 L119.8,247.2 L117.2,243.3 L113.4,241.5 L108.4,241.7 L103.4,242.2 L99.2,241.2 L96.3,237.7 M152.5,258.4 L150.9,253.4 L148.7,249.4 L144.8,247.3 L139.7,246.9 L134.7,246.5 L130.9,244.5 L128.6,240.3 L127.1,235.3 L124.8,231.3 L121.0,229.3 L115.8,228.9 L110.8,228.5 L107.1,226.4 L104.8,222.2 M158.8,251.1 L157.7,246.0 L155.3,242.3 L150.9,240.3 L145.7,239.3 L141.2,237.6 L138.5,234.0 L137.3,229.0 L136.3,223.9 L133.8,220.2 L129.4,218.3 L124.1,217.3 L119.7,215.5 L117.0,212.0 L115.9,206.9 M167.8,243.8 L165.5,240.2 L161.2,238.0 L156.3,236.3 L152.6,233.8 L150.9,229.6 L150.8,224.5 L150.4,219.6 L148.1,216.0 L143.8,213.8 L138.8,212.1 L135.1,209.5 L133.5,205.4 L133.4,200.2 L133.0,195.3 M171.8,241.5 L172.4,236.3 L171.6,231.8 L168.4,228.5 L163.7,225.9 L159.6,223.1 L157.7,219.1 L157.8,214.1 L158.4,208.8 L157.5,204.4 L154.3,201.1 L149.6,198.5 L145.6,195.7 L143.6,191.7 L143.8,186.6 M178.8,238.4 L175.6,234.9 L174.8,230.4 L175.9,225.3 L177.1,220.3 L176.4,215.9 L173.2,212.2 L168.9,209.0 L165.7,205.5 L164.9,201.0 L166.1,195.9 L167.3,190.9 L166.5,186.5 L163.2,182.8 L158.9,179.6 M191.6,235.4 L190.3,231.2 L186.8,227.4 L183.4,223.7 L181.9,219.6 L183.0,215.0 L185.3,210.2 L186.4,205.7 L185.0,201.6 L181.6,197.8 L178.1,194.1 L176.7,190.0 L177.9,185.4 L180.1,180.6 L181.2,176.1 M195.1,235.1 L193.1,230.8 L193.7,226.4 L196.4,221.9 L199.0,217.5 L199.5,213.1 L197.4,208.7 L194.2,204.4 L192.3,200.1 L193.0,195.7 L195.6,191.2 L198.2,186.8 L198.7,182.4 L196.6,178.1 L193.4,173.8 M206.3,235.6 L208.8,232.0 L208.8,227.9 L206.6,223.6 L204.3,219.3 L204.0,215.3 L206.3,211.5 L209.8,207.9 L212.3,204.3 L212.2,200.2 L210.0,195.9 L207.8,191.6 L207.5,187.6 L209.9,183.8 L213.4,180.2 M212.9,237.0 L216.8,233.6 L218.9,229.7 L218.4,224.9 L216.7,219.8 L215.9,215.1 L217.6,211.0 L221.3,207.4 L225.2,204.0 L227.2,200.0 L226.7,195.2 L224.9,190.2 L224.2,185.5 L225.9,181.4 L229.7,177.8 M218.0,238.7 L221.5,236.0 L225.8,233.7 L228.9,230.9 L229.6,227.0 L228.6,222.3 L227.8,217.7 L229.1,214.1 L232.6,211.4 L237.0,209.2 L240.0,206.4 L240.7,202.4 L239.7,197.7 L238.9,193.2 L240.2,189.5 M230.7,245.6 L233.4,242.4 L233.9,237.9 L233.6,232.8 L234.3,228.5 L237.3,225.5 L241.9,223.5 L246.3,221.6 L248.9,218.4 L249.4,213.8 L249.0,208.8 L249.8,204.4 L252.8,201.5 L257.4,199.6 L261.8,197.6 M232.4,246.8 L236.3,244.8 L241.2,243.8 L245.4,242.3 L247.8,239.0 L248.5,234.3 L249.0,229.4 L250.9,225.8 L254.9,223.9 L259.8,222.9 L264.0,221.3 L266.3,218.0 L267.0,213.3 L267.5,208.4 L269.4,204.8 M241.5,255.7 L246.3,254.7 L249.6,251.7 L251.4,246.9 L252.9,241.9 L255.5,238.2 L259.9,236.5 L265.2,236.0 L270.0,234.9 L273.2,231.9 L275.0,227.1 L276.5,222.0 L279.2,218.4 L283.6,216.7 L288.9,216.2 M246.3,262.6 L251.0,262.4 L254.5,260.0 L256.9,255.7 L258.9,251.0 L261.9,247.9 L266.4,246.9 L271.6,247.3 L276.3,247.0 L279.8,244.6 L282.1,240.2 L284.2,235.5 L287.2,232.4 L291.6,231.5 L296.8,231.9 M250.7,272.1 L253.8,268.1 L256.6,263.8 L260.1,261.1 L264.7,260.8 L269.8,261.8 L274.6,262.3 L278.5,260.4 L281.5,256.4 L284.3,252.0 L287.8,249.4 L292.4,249.1 L297.6,250.2 L302.3,250.6 L306.2,248.7 M252.2,276.8 L257.1,278.5 L261.6,278.4 L265.5,275.7 L269.1,271.7 L272.8,268.6 L277.2,267.8 L282.1,269.2 L287.1,270.9 L291.6,270.8 L295.5,268.1 L299.0,264.0 L302.7,260.9 L307.1,260.2 L312.1,261.6 M253.7,285.4 L258.1,287.7 L262.2,288.0 L266.2,285.7 L270.1,282.3 L273.9,280.0 L278.2,280.2 L282.6,282.6 L287.0,284.9 L291.1,285.1 L295.1,282.8 L298.9,279.3 L302.8,277.1 L307.1,277.4 L311.5,279.7" fill="none" stroke="url(#micg)" stroke-width="3.6" stroke-linecap="round" stroke-linejoin="round"/>
<path d="M238.0 293.0L257.9 294.0 M236.7 301.3L256.0 306.4 M233.7 309.1L251.5 318.1 M229.1 316.1L244.7 328.6 M223.2 322.0L235.9 337.5 M216.2 326.6L225.4 344.4 M208.4 329.6L213.7 348.9 M200.2 330.9L201.3 350.9 M191.8 330.5L188.8 350.3 M183.8 328.4L176.6 347.1 M176.3 324.6L165.4 341.4 M169.8 319.4L155.7 333.5 M164.5 312.9L147.8 323.8 M160.7 305.4L142.0 312.6 M158.5 297.4L138.8 300.5 M158.0 289.0L138.1 288.0 M159.3 280.7L140.0 275.6 M162.3 272.9L144.5 263.9 M166.9 265.9L151.3 253.4 M172.8 260.0L160.1 244.5 M179.8 255.4L170.6 237.6 M187.6 252.4L182.3 233.1 M195.8 251.1L194.7 231.1 M204.2 251.5L207.2 231.7 M212.2 253.6L219.4 234.9 M219.7 257.4L230.6 240.6 M226.2 262.6L240.3 248.5 M231.5 269.1L248.2 258.2 M235.3 276.6L254.0 269.4 M237.5 284.6L257.2 281.5" stroke="url(#micg)" stroke-width="7.5" stroke-linecap="round"/>
<path d="M243.6,297.0 L247.3,299.6 L251.7,296.7 L255.6,297.4 L259.2,301.2 L263.5,299.5 L267.6,298.1 L271.2,302.1 L275.2,302.2 L279.6,299.6 M240.5,308.6 L243.4,312.0 L248.4,310.4 L252.0,312.1 L254.4,316.7 L259.0,316.1 L263.4,315.9 L265.8,320.7 L269.6,321.8 L274.6,320.4 M234.5,319.0 L236.4,323.1 L241.6,322.8 L244.7,325.3 L245.9,330.4 L250.5,331.0 L254.7,332.0 L255.8,337.2 L259.2,339.3 L264.4,339.2 M226.0,327.5 L226.8,331.9 L231.9,333.0 L234.3,336.3 L234.0,341.5 L238.3,343.3 L242.2,345.3 L241.9,350.6 L244.6,353.5 L249.6,354.7 M215.6,333.5 L215.2,338.0 L219.9,340.4 L221.3,344.1 L219.7,349.1 L223.4,351.9 L226.6,354.9 L225.0,359.9 L226.9,363.5 L231.4,365.9 M204.0,336.6 L202.5,340.8 L206.4,344.3 L206.8,348.3 L204.0,352.7 L206.8,356.4 L209.1,360.1 L206.2,364.5 L207.1,368.5 L210.8,372.0 M192.0,336.6 L189.4,340.3 L192.3,344.7 L191.6,348.6 L187.8,352.2 L189.5,356.5 L190.9,360.6 L186.9,364.2 L186.8,368.2 L189.4,372.6 M180.4,333.5 L177.0,336.4 L178.6,341.4 L176.9,345.0 L172.3,347.4 L172.9,352.0 L173.1,356.4 L168.3,358.8 L167.2,362.6 L168.6,367.6 M170.0,327.5 L165.9,329.4 L166.2,334.6 L163.7,337.7 L158.6,338.9 L158.0,343.5 L157.0,347.7 L151.8,348.8 L149.7,352.2 L149.8,357.4 M161.5,319.0 L157.1,319.8 L156.0,324.9 L152.7,327.3 L147.5,327.0 L145.7,331.3 L143.7,335.2 L138.4,334.9 L135.5,337.6 L134.3,342.6 M155.5,308.6 L151.0,308.2 L148.6,312.9 L144.9,314.3 L139.9,312.7 L137.1,316.4 L134.1,319.6 L129.1,318.0 L125.5,319.9 L123.1,324.4 M152.4,297.0 L148.2,295.5 L144.7,299.4 L140.7,299.8 L136.3,297.0 L132.6,299.8 L128.9,302.1 L124.5,299.2 L120.5,300.1 L117.0,303.8 M152.4,285.0 L148.7,282.4 L144.3,285.3 L140.4,284.6 L136.8,280.8 L132.5,282.5 L128.4,283.9 L124.8,279.9 L120.8,279.8 L116.4,282.4 M155.5,273.4 L152.6,270.0 L147.6,271.6 L144.0,269.9 L141.6,265.3 L137.0,265.9 L132.6,266.1 L130.2,261.3 L126.4,260.2 L121.4,261.6 M161.5,263.0 L159.6,258.9 L154.4,259.2 L151.3,256.7 L150.1,251.6 L145.5,251.0 L141.3,250.0 L140.2,244.8 L136.8,242.7 L131.6,242.8 M170.0,254.5 L169.2,250.1 L164.1,249.0 L161.7,245.7 L162.0,240.5 L157.7,238.7 L153.8,236.7 L154.1,231.4 L151.4,228.5 L146.4,227.3 M180.4,248.5 L180.8,244.0 L176.1,241.6 L174.7,237.9 L176.3,232.9 L172.6,230.1 L169.4,227.1 L171.0,222.1 L169.1,218.5 L164.6,216.1 M192.0,245.4 L193.5,241.2 L189.6,237.7 L189.2,233.7 L192.0,229.3 L189.2,225.6 L186.9,221.9 L189.8,217.5 L188.9,213.5 L185.2,210.0 M204.0,245.4 L206.6,241.7 L203.7,237.3 L204.4,233.4 L208.2,229.8 L206.5,225.5 L205.1,221.4 L209.1,217.8 L209.2,213.8 L206.6,209.4 M215.6,248.5 L219.0,245.6 L217.4,240.6 L219.1,237.0 L223.7,234.6 L223.1,230.0 L222.9,225.6 L227.7,223.2 L228.8,219.4 L227.4,214.4 M226.0,254.5 L230.1,252.6 L229.8,247.4 L232.3,244.3 L237.4,243.1 L238.0,238.5 L239.0,234.3 L244.2,233.2 L246.3,229.8 L246.2,224.6 M234.5,263.0 L238.9,262.2 L240.0,257.1 L243.3,254.7 L248.5,255.0 L250.3,250.7 L252.3,246.8 L257.6,247.1 L260.5,244.4 L261.7,239.4 M240.5,273.4 L245.0,273.8 L247.4,269.1 L251.1,267.7 L256.1,269.3 L258.9,265.6 L261.9,262.4 L266.9,264.0 L270.5,262.1 L272.9,257.6 M243.6,285.0 L247.8,286.5 L251.3,282.6 L255.3,282.2 L259.7,285.0 L263.4,282.2 L267.1,279.9 L271.5,282.8 L275.5,281.9 L279.0,278.2" fill="none" stroke="#1a1a1a" stroke-width="1.5"/>
<g fill="#e02a3a" stroke="#4a4a7a" stroke-width="1"><circle cx="281.3" cy="302.0" r="3.3"/><circle cx="275.6" cy="323.1" r="3.3"/><circle cx="264.6" cy="342.1" r="3.3"/><circle cx="249.1" cy="357.6" r="3.3"/><circle cx="230.1" cy="368.6" r="3.3"/><circle cx="209.0" cy="374.3" r="3.3"/><circle cx="187.0" cy="374.3" r="3.3"/><circle cx="165.9" cy="368.6" r="3.3"/><circle cx="146.9" cy="357.6" r="3.3"/><circle cx="131.4" cy="342.1" r="3.3"/><circle cx="120.4" cy="323.1" r="3.3"/><circle cx="114.7" cy="302.0" r="3.3"/><circle cx="114.7" cy="280.0" r="3.3"/><circle cx="120.4" cy="258.9" r="3.3"/><circle cx="131.4" cy="239.9" r="3.3"/><circle cx="146.9" cy="224.4" r="3.3"/><circle cx="165.9" cy="213.4" r="3.3"/><circle cx="187.0" cy="207.7" r="3.3"/><circle cx="209.0" cy="207.7" r="3.3"/><circle cx="230.1" cy="213.4" r="3.3"/><circle cx="249.1" cy="224.4" r="3.3"/><circle cx="264.6" cy="239.9" r="3.3"/><circle cx="275.6" cy="258.9" r="3.3"/><circle cx="281.3" cy="280.0" r="3.3"/></g>
<text x="198" y="299" text-anchor="middle" font-size="21" font-weight="bold" fill="#f2ae80" stroke="#fff" stroke-width="4" stroke-linejoin="round" paint-order="stroke" font-family="'Liberation Sans', sans-serif">TMB</text>
<text x="201.5" y="437.6" text-anchor="middle" font-size="20" font-weight="bold" font-family="'Liberation Sans', sans-serif">Mixed micelle</text>
<path d="M338 292.5H450" stroke="#000" stroke-width="5"/>
<path d="M467 292.5L439 278.8Q450 292.5 439 305Z" fill="#000"/>
<circle cx="381.7" cy="267.4" r="6" fill="#7ea4ee" stroke="#3a5aa0" stroke-width="1"/>
<text x="396" y="273.2" font-size="18" font-weight="bold" font-family="'Liberation Sans', sans-serif">Ir<tspan dy="-7" font-size="12">3+</tspan></text>
<text x="360" y="321.4" font-size="19" font-weight="bold" font-family="'Liberation Sans', sans-serif">NH<tspan dy="6" font-size="13">3</tspan><tspan dy="-6">·H</tspan><tspan dy="6" font-size="13">2</tspan><tspan dy="-6">O</tspan></text>
<path d="M728 291.4H890" stroke="#000" stroke-width="5"/>
<path d="M912 291.4L884 279Q895 291.4 884 305Z" fill="#000"/>
<text x="734" y="271.1" font-size="20.1" font-weight="bold" font-family="'Liberation Sans', sans-serif">Template removal</text>
<circle cx="597.6" cy="293.3" r="122.5" fill="#8ab0f5"/>
<use href="#mic" x="547.2" y="207.5"/>
<use href="#mic" x="597.6" y="195.1"/>
<use href="#mic" x="649.1" y="207.5"/>
<use href="#mic" x="513.8" y="244.9"/>
<use href="#mic" x="560.7" y="257"/>
<use href="#mic" x="612.5" y="244.9"/>
<use href="#mic" x="678.8" y="244.9"/>
<use href="#mic" x="500.2" y="291"/>
<use href="#mic" x="551.2" y="305.4"/>
<use href="#mic" x="596.7" y="291"/>
<use href="#mic" x="644.8" y="280.4"/>
<use href="#mic" x="691.7" y="291.6"/>
<use href="#mic" x="513.8" y="339.4"/>
<use href="#mic" x="586" y="341.4"/>
<use href="#mic" x="634.1" y="327.6"/>
<use href="#mic" x="678.8" y="340"/>
<use href="#mic" x="546.3" y="373.6"/>
<use href="#mic" x="597.6" y="390.3"/>
<use href="#mic" x="649.1" y="373.6"/>
<path d="M587 15.5H764Q784 15.5 784 35.5V120Q784 140 764 140H723L669 197L697 140H587Q567 140 567 120V35.5Q567 15.5 587 15.5Z" fill="#fff" stroke="#a9c6f4" stroke-width="4" stroke-linejoin="round" filter="url(#shadow)"/>
<ellipse cx="674.5" cy="69" rx="30" ry="33" fill="url(#glow)"/>
<path d="M622.5 29L662.5 70.3L622.5 109L582.5 70.3Z" fill="#d4e2f6" stroke="#2a2a2a" stroke-width="1.6" stroke-linejoin="round"/><path d="M622.5 29L613.5 77M622.5 29L631.5 61.5M622.5 109L613.5 77M622.5 109L631.5 61.5M582.5 70.3L613.5 77M582.5 70.3L631.5 61.5M662.5 70.3L613.5 77M662.5 70.3L631.5 61.5" stroke="#2a2a2a" stroke-width="1.1"/><circle cx="631.5" cy="61.5" r="5.5" fill="#f07070" stroke="#333" stroke-width="1"/><circle cx="622.5" cy="70" r="9" fill="#7ea4ee" stroke="#333" stroke-width="1"/><circle cx="622.5" cy="29" r="5.5" fill="#f07070" stroke="#333" stroke-width="1"/><circle cx="622.5" cy="109" r="5.5" fill="#f07070" stroke="#333" stroke-width="1"/><circle cx="582.5" cy="70.3" r="5.5" fill="#f07070" stroke="#333" stroke-width="1"/><circle cx="662.5" cy="70.3" r="5.5" fill="#f07070" stroke="#333" stroke-width="1"/><circle cx="613.5" cy="77" r="5.5" fill="#f07070" stroke="#333" stroke-width="1"/>
<path d="M727.7 29L767.7 70.3L727.7 109L687.7 70.3Z" fill="#d4e2f6" stroke="#2a2a2a" stroke-width="1.6" stroke-linejoin="round"/><path d="M727.7 29L718.7 77M727.7 29L736.7 61.5M727.7 109L718.7 77M727.7 109L736.7 61.5M687.7 70.3L718.7 77M687.7 70.3L736.7 61.5M767.7 70.3L718.7 77M767.7 70.3L736.7 61.5" stroke="#2a2a2a" stroke-width="1.1"/><circle cx="736.7" cy="61.5" r="5.5" fill="#f07070" stroke="#333" stroke-width="1"/><circle cx="727.7" cy="70" r="9" fill="#7ea4ee" stroke="#333" stroke-width="1"/><circle cx="727.7" cy="29" r="5.5" fill="#f07070" stroke="#333" stroke-width="1"/><circle cx="727.7" cy="109" r="5.5" fill="#f07070" stroke="#333" stroke-width="1"/><circle cx="687.7" cy="70.3" r="5.5" fill="#f07070" stroke="#333" stroke-width="1"/><circle cx="767.7" cy="70.3" r="5.5" fill="#f07070" stroke="#333" stroke-width="1"/><circle cx="718.7" cy="77" r="5.5" fill="#f07070" stroke="#333" stroke-width="1"/>
<path d="M651 83H668M664 80L668 83L664 86M698 83H681M685 80L681 83L685 86" stroke="#333" stroke-width="1.2" fill="none"/>
<text x="621" y="130.5" text-anchor="middle" font-size="12.5" font-weight="bold" font-family="'Liberation Sans', sans-serif">[Ir<tspan dy="-5" font-size="8">III</tspan><tspan dy="5">(OH)</tspan><tspan dy="4" font-size="8">6</tspan><tspan dy="-4">]</tspan><tspan dy="-5" font-size="8">3-</tspan></text>
<text x="727" y="130.5" text-anchor="middle" font-size="12.5" font-weight="bold" font-family="'Liberation Sans', sans-serif">[Ir<tspan dy="-5" font-size="8">III</tspan><tspan dy="5">(OH)</tspan><tspan dy="4" font-size="8">6</tspan><tspan dy="-4">]</tspan><tspan dy="-5" font-size="8">3-</tspan></text>
<circle cx="1040" cy="295.6" r="115" fill="url(#mesog)"/>
<path d="M1063.5 15.5H1167.5Q1185.5 15.5 1185.5 33.5V122Q1185.5 140 1167.5 140H1146L1093 195L1121 140H1063.5Q1045.5 140 1045.5 122V33.5Q1045.5 15.5 1063.5 15.5Z" fill="#fff" stroke="#a9c6f4" stroke-width="4" stroke-linejoin="round" filter="url(#shadow)"/>
<circle cx="1038.3" cy="286.6" r="85.0" fill="#9bb9ee" opacity="0.6"/>
<g fill="#6a8ac6" clip-path="url(#mesoclip)"><ellipse cx="1039.6" cy="181.6" rx="10.6" ry="2.7" transform="rotate(0 1039.6 181.6)"/><ellipse cx="999.7" cy="200.2" rx="10.1" ry="5.8" transform="rotate(-20 999.7 200.2)"/><ellipse cx="1076.8" cy="200.2" rx="10.1" ry="5.8" transform="rotate(20 1076.8 200.2)"/><ellipse cx="969.2" cy="212.2" rx="10.6" ry="5.8" transform="rotate(-40 969.2 212.2)"/><ellipse cx="959.9" cy="238.8" rx="10.6" ry="6.6" transform="rotate(-55 959.9 238.8)"/><ellipse cx="941.3" cy="260.0" rx="5.3" ry="12.0" transform="rotate(15 941.3 260.0)"/><ellipse cx="939.9" cy="289.3" rx="5.8" ry="12.0" transform="rotate(0 939.9 289.3)"/><ellipse cx="928.0" cy="313.2" rx="3.2" ry="10.1" transform="rotate(0 928.0 313.2)"/><ellipse cx="943.9" cy="342.4" rx="6.6" ry="10.6" transform="rotate(-25 943.9 342.4)"/><ellipse cx="962.5" cy="366.4" rx="11.2" ry="6.6" transform="rotate(35 962.5 366.4)"/><ellipse cx="983.8" cy="389.0" rx="12.0" ry="4.8" transform="rotate(25 983.8 389.0)"/><ellipse cx="982.5" cy="358.4" rx="10.6" ry="7.4" transform="rotate(25 982.5 358.4)"/><ellipse cx="1038.3" cy="369.0" rx="12.8" ry="8.0" transform="rotate(0 1038.3 369.0)"/><ellipse cx="1010.4" cy="387.6" rx="13.3" ry="8.0" transform="rotate(10 1010.4 387.6)"/><ellipse cx="1034.3" cy="403.6" rx="10.6" ry="2.7" transform="rotate(0 1034.3 403.6)"/><ellipse cx="951.4" cy="231.3" rx="4.3" ry="9.6" transform="rotate(40 951.4 231.3)"/><ellipse cx="927.4" cy="284.0" rx="2.4" ry="9.6" transform="rotate(0 927.4 284.0)"/><ellipse cx="997.1" cy="400.9" rx="9.6" ry="2.7" transform="rotate(15 997.1 400.9)"/><ellipse cx="959.9" cy="381.0" rx="8.5" ry="3.5" transform="rotate(38 959.9 381.0)"/><ellipse cx="979.8" cy="189.6" rx="8.0" ry="2.7" transform="rotate(-30 979.8 189.6)"/><ellipse cx="1079.5" cy="200.2" rx="10.1" ry="5.8" transform="rotate(20 1079.5 200.2)"/><ellipse cx="1002.4" cy="200.2" rx="10.1" ry="5.8" transform="rotate(-20 1002.4 200.2)"/><ellipse cx="1110.0" cy="212.2" rx="10.6" ry="5.8" transform="rotate(40 1110.0 212.2)"/><ellipse cx="1119.3" cy="238.8" rx="10.6" ry="6.6" transform="rotate(55 1119.3 238.8)"/><ellipse cx="1137.9" cy="260.0" rx="5.3" ry="12.0" transform="rotate(-15 1137.9 260.0)"/><ellipse cx="1139.3" cy="289.3" rx="5.8" ry="12.0" transform="rotate(0 1139.3 289.3)"/><ellipse cx="1151.2" cy="313.2" rx="3.2" ry="10.1" transform="rotate(0 1151.2 313.2)"/><ellipse cx="1135.3" cy="342.4" rx="6.6" ry="10.6" transform="rotate(25 1135.3 342.4)"/><ellipse cx="1116.7" cy="366.4" rx="11.2" ry="6.6" transform="rotate(-35 1116.7 366.4)"/><ellipse cx="1095.4" cy="389.0" rx="12.0" ry="4.8" transform="rotate(-25 1095.4 389.0)"/><ellipse cx="1096.7" cy="358.4" rx="10.6" ry="7.4" transform="rotate(-25 1096.7 358.4)"/><ellipse cx="1068.8" cy="387.6" rx="13.3" ry="8.0" transform="rotate(-10 1068.8 387.6)"/><ellipse cx="1127.8" cy="231.3" rx="4.3" ry="9.6" transform="rotate(-40 1127.8 231.3)"/><ellipse cx="1151.8" cy="284.0" rx="2.4" ry="9.6" transform="rotate(0 1151.8 284.0)"/><ellipse cx="1082.1" cy="400.9" rx="9.6" ry="2.7" transform="rotate(-15 1082.1 400.9)"/><ellipse cx="1119.3" cy="381.0" rx="8.5" ry="3.5" transform="rotate(-38 1119.3 381.0)"/><ellipse cx="1099.4" cy="189.6" rx="8.0" ry="2.7" transform="rotate(30 1099.4 189.6)"/></g>
<g transform="translate(1039.6 209.0) rotate(0)"><path d="M-11.9 20L-14 -14Q-14 -20 -8 -20H8Q14 -20 14 -14L11.9 20Z" fill="url(#tubeg)"/><ellipse cx="0" cy="-14" rx="11.2" ry="6" fill="#6688c4" opacity="0.8"/></g><g transform="translate(1011.7 222.3) rotate(-30)"><path d="M-11.9 20L-14 -14Q-14 -20 -8 -20H8Q14 -20 14 -14L11.9 20Z" fill="url(#tubeg)"/><ellipse cx="0" cy="-14" rx="11.2" ry="6" fill="#6688c4" opacity="0.8"/></g><g transform="translate(1067.5 222.3) rotate(30)"><path d="M-11.9 20L-14 -14Q-14 -20 -8 -20H8Q14 -20 14 -14L11.9 20Z" fill="url(#tubeg)"/><ellipse cx="0" cy="-14" rx="11.2" ry="6" fill="#6688c4" opacity="0.8"/></g><g transform="translate(987.0 252.1) rotate(-58)"><path d="M-11.9 20L-14 -14Q-14 -20 -8 -20H8Q14 -20 14 -14L11.9 20Z" fill="url(#tubeg)"/><ellipse cx="0" cy="-14" rx="11.2" ry="6" fill="#6688c4" opacity="0.8"/></g><g transform="translate(1089.6 252.1) rotate(58)"><path d="M-11.9 20L-14 -14Q-14 -20 -8 -20H8Q14 -20 14 -14L11.9 20Z" fill="url(#tubeg)"/><ellipse cx="0" cy="-14" rx="11.2" ry="6" fill="#6688c4" opacity="0.8"/></g><g transform="translate(974.5 288.0) rotate(-90)"><path d="M-11.9 20L-14 -14Q-14 -20 -8 -20H8Q14 -20 14 -14L11.9 20Z" fill="url(#tubeg)"/><ellipse cx="0" cy="-14" rx="11.2" ry="6" fill="#6688c4" opacity="0.8"/></g><g transform="translate(1102.1 288.0) rotate(90)"><path d="M-11.9 20L-14 -14Q-14 -20 -8 -20H8Q14 -20 14 -14L11.9 20Z" fill="url(#tubeg)"/><ellipse cx="0" cy="-14" rx="11.2" ry="6" fill="#6688c4" opacity="0.8"/></g><g transform="translate(970.0 323.8) rotate(-120)"><path d="M-11.9 20L-14 -14Q-14 -20 -8 -20H8Q14 -20 14 -14L11.9 20Z" fill="url(#tubeg)"/><ellipse cx="0" cy="-14" rx="11.2" ry="6" fill="#6688c4" opacity="0.8"/></g><g transform="translate(1106.6 323.8) rotate(120)"><path d="M-11.9 20L-14 -14Q-14 -20 -8 -20H8Q14 -20 14 -14L11.9 20Z" fill="url(#tubeg)"/><ellipse cx="0" cy="-14" rx="11.2" ry="6" fill="#6688c4" opacity="0.8"/></g><g transform="translate(1001.9 334.5) rotate(-152)"><path d="M-11.9 20L-14 -14Q-14 -20 -8 -20H8Q14 -20 14 -14L11.9 20Z" fill="url(#tubeg)"/><ellipse cx="0" cy="-14" rx="11.2" ry="6" fill="#6688c4" opacity="0.8"/></g><g transform="translate(1039.6 334.5) rotate(180)"><path d="M-11.9 20L-14 -14Q-14 -20 -8 -20H8Q14 -20 14 -14L11.9 20Z" fill="url(#tubeg)"/><ellipse cx="0" cy="-14" rx="11.2" ry="6" fill="#6688c4" opacity="0.8"/></g><g transform="translate(1077.3 334.5) rotate(152)"><path d="M-11.9 20L-14 -14Q-14 -20 -8 -20H8Q14 -20 14 -14L11.9 20Z" fill="url(#tubeg)"/><ellipse cx="0" cy="-14" rx="11.2" ry="6" fill="#6688c4" opacity="0.8"/></g>
<ellipse cx="1039.6" cy="256.1" rx="18.1" ry="14.6" fill="#6a8bc6"/>
<ellipse cx="1014.4" cy="295.9" rx="15.4" ry="16.5" fill="#6a8bc6"/>
<ellipse cx="1060.9" cy="295.9" rx="15.4" ry="16.5" fill="#6a8bc6"/>
<text x="988" y="443.3" font-size="19.8" font-weight="bold" font-family="'Liberation Sans', sans-serif">Meso-H-IrO<tspan dy="6" font-size="13">x</tspan></text>
<path d="M1103.4 31.3L1102.5 31.0L1117.3 47.1ZM1097.4 59.3L1102.5 31.0L1117.3 47.1ZM1103.4 31.3L1117.3 47.1L1098.3 59.6ZM1097.4 59.3L1117.3 47.1L1098.3 59.6ZM1103.4 31.3L1098.3 59.6L1083.5 43.5ZM1097.4 59.3L1098.3 59.6L1083.5 43.5ZM1103.4 31.3L1083.5 43.5L1102.5 31.0ZM1097.4 59.3L1083.5 43.5L1102.5 31.0Z" fill="#b0cbf0" fill-opacity="0.5" stroke="#a9c4ec" stroke-width="0.6"/><path d="M1100.4 45.3L1101.5 38.1" stroke="#4a90d8" stroke-width="1.8"/><path d="M1101.5 38.1L1102.5 31.0" stroke="#d87272" stroke-width="1.8"/><path d="M1100.4 45.3L1108.8 46.2" stroke="#4a90d8" stroke-width="1.8"/><path d="M1108.8 46.2L1117.3 47.1" stroke="#d87272" stroke-width="1.8"/><path d="M1100.4 45.3L1099.3 52.5" stroke="#4a90d8" stroke-width="1.8"/><path d="M1099.3 52.5L1098.3 59.6" stroke="#d87272" stroke-width="1.8"/><path d="M1100.4 45.3L1092.0 44.4" stroke="#4a90d8" stroke-width="1.8"/><path d="M1092.0 44.4L1083.5 43.5" stroke="#d87272" stroke-width="1.8"/><path d="M1100.4 45.3L1101.9 38.3" stroke="#4a90d8" stroke-width="1.8"/><path d="M1101.9 38.3L1103.4 31.3" stroke="#d87272" stroke-width="1.8"/><path d="M1100.4 45.3L1098.9 52.3" stroke="#4a90d8" stroke-width="1.8"/><path d="M1098.9 52.3L1097.4 59.3" stroke="#d87272" stroke-width="1.8"/><circle cx="1102.5" cy="31.0" r="2.6" fill="#e07272"/><circle cx="1117.3" cy="47.1" r="2.6" fill="#e07272"/><circle cx="1098.3" cy="59.6" r="2.6" fill="#e07272"/><circle cx="1083.5" cy="43.5" r="2.6" fill="#e07272"/><circle cx="1103.4" cy="31.3" r="2.6" fill="#e07272"/><circle cx="1097.4" cy="59.3" r="2.6" fill="#e07272"/><circle cx="1100.4" cy="45.3" r="4.6" fill="#3f8ad6"/><path d="M1079.9 45.9L1075.7 45.5L1093.9 58.9ZM1073.9 73.9L1075.7 45.5L1093.9 58.9ZM1079.9 45.9L1093.9 58.9L1078.1 74.3ZM1073.9 73.9L1093.9 58.9L1078.1 74.3ZM1079.9 45.9L1078.1 74.3L1059.9 60.9ZM1073.9 73.9L1078.1 74.3L1059.9 60.9ZM1079.9 45.9L1059.9 60.9L1075.7 45.5ZM1073.9 73.9L1059.9 60.9L1075.7 45.5Z" fill="#b0cbf0" fill-opacity="0.5" stroke="#a9c4ec" stroke-width="0.6"/><path d="M1076.9 59.9L1076.3 52.7" stroke="#4a90d8" stroke-width="1.8"/><path d="M1076.3 52.7L1075.7 45.5" stroke="#d87272" stroke-width="1.8"/><path d="M1076.9 59.9L1085.4 59.4" stroke="#4a90d8" stroke-width="1.8"/><path d="M1085.4 59.4L1093.9 58.9" stroke="#d87272" stroke-width="1.8"/><path d="M1076.9 59.9L1077.5 67.1" stroke="#4a90d8" stroke-width="1.8"/><path d="M1077.5 67.1L1078.1 74.3" stroke="#d87272" stroke-width="1.8"/><path d="M1076.9 59.9L1068.4 60.4" stroke="#4a90d8" stroke-width="1.8"/><path d="M1068.4 60.4L1059.9 60.9" stroke="#d87272" stroke-width="1.8"/><path d="M1076.9 59.9L1078.4 52.9" stroke="#4a90d8" stroke-width="1.8"/><path d="M1078.4 52.9L1079.9 45.9" stroke="#d87272" stroke-width="1.8"/><path d="M1076.9 59.9L1075.4 66.9" stroke="#4a90d8" stroke-width="1.8"/><path d="M1075.4 66.9L1073.9 73.9" stroke="#d87272" stroke-width="1.8"/><circle cx="1075.7" cy="45.5" r="2.6" fill="#e07272"/><circle cx="1093.9" cy="58.9" r="2.6" fill="#e07272"/><circle cx="1078.1" cy="74.3" r="2.6" fill="#e07272"/><circle cx="1059.9" cy="60.9" r="2.6" fill="#e07272"/><circle cx="1079.9" cy="45.9" r="2.6" fill="#e07272"/><circle cx="1073.9" cy="73.9" r="2.6" fill="#e07272"/><circle cx="1076.9" cy="59.9" r="4.6" fill="#3f8ad6"/><path d="M1083.9 79.5L1064.1 91.6L1083.2 79.2ZM1077.9 107.5L1064.1 91.6L1083.2 79.2ZM1083.9 79.5L1083.2 79.2L1097.7 95.4ZM1077.9 107.5L1083.2 79.2L1097.7 95.4ZM1083.9 79.5L1097.7 95.4L1078.6 107.8ZM1077.9 107.5L1097.7 95.4L1078.6 107.8ZM1083.9 79.5L1078.6 107.8L1064.1 91.6ZM1077.9 107.5L1078.6 107.8L1064.1 91.6Z" fill="#b0cbf0" fill-opacity="0.5" stroke="#a9c4ec" stroke-width="0.6"/><path d="M1080.9 93.5L1072.5 92.5" stroke="#4a90d8" stroke-width="1.8"/><path d="M1072.5 92.5L1064.1 91.6" stroke="#d87272" stroke-width="1.8"/><path d="M1080.9 93.5L1082.0 86.3" stroke="#4a90d8" stroke-width="1.8"/><path d="M1082.0 86.3L1083.2 79.2" stroke="#d87272" stroke-width="1.8"/><path d="M1080.9 93.5L1089.3 94.5" stroke="#4a90d8" stroke-width="1.8"/><path d="M1089.3 94.5L1097.7 95.4" stroke="#d87272" stroke-width="1.8"/><path d="M1080.9 93.5L1079.8 100.7" stroke="#4a90d8" stroke-width="1.8"/><path d="M1079.8 100.7L1078.6 107.8" stroke="#d87272" stroke-width="1.8"/><path d="M1080.9 93.5L1082.4 86.5" stroke="#4a90d8" stroke-width="1.8"/><path d="M1082.4 86.5L1083.9 79.5" stroke="#d87272" stroke-width="1.8"/><path d="M1080.9 93.5L1079.4 100.5" stroke="#4a90d8" stroke-width="1.8"/><path d="M1079.4 100.5L1077.9 107.5" stroke="#d87272" stroke-width="1.8"/><circle cx="1064.1" cy="91.6" r="2.6" fill="#e07272"/><circle cx="1083.2" cy="79.2" r="2.6" fill="#e07272"/><circle cx="1097.7" cy="95.4" r="2.6" fill="#e07272"/><circle cx="1078.6" cy="107.8" r="2.6" fill="#e07272"/><circle cx="1083.9" cy="79.5" r="2.6" fill="#e07272"/><circle cx="1077.9" cy="107.5" r="2.6" fill="#e07272"/><circle cx="1080.9" cy="93.5" r="4.6" fill="#3f8ad6"/><path d="M1099.4 103.9L1079.5 119.2L1094.9 103.5ZM1093.4 131.9L1079.5 119.2L1094.9 103.5ZM1099.4 103.9L1094.9 103.5L1113.3 116.6ZM1093.4 131.9L1094.9 103.5L1113.3 116.6ZM1099.4 103.9L1113.3 116.6L1097.9 132.3ZM1093.4 131.9L1113.3 116.6L1097.9 132.3ZM1099.4 103.9L1097.9 132.3L1079.5 119.2ZM1093.4 131.9L1097.9 132.3L1079.5 119.2Z" fill="#b0cbf0" fill-opacity="0.5" stroke="#a9c4ec" stroke-width="0.6"/><path d="M1096.4 117.9L1087.9 118.5" stroke="#4a90d8" stroke-width="1.8"/><path d="M1087.9 118.5L1079.5 119.2" stroke="#d87272" stroke-width="1.8"/><path d="M1096.4 117.9L1095.6 110.7" stroke="#4a90d8" stroke-width="1.8"/><path d="M1095.6 110.7L1094.9 103.5" stroke="#d87272" stroke-width="1.8"/><path d="M1096.4 117.9L1104.9 117.3" stroke="#4a90d8" stroke-width="1.8"/><path d="M1104.9 117.3L1113.3 116.6" stroke="#d87272" stroke-width="1.8"/><path d="M1096.4 117.9L1097.2 125.1" stroke="#4a90d8" stroke-width="1.8"/><path d="M1097.2 125.1L1097.9 132.3" stroke="#d87272" stroke-width="1.8"/><path d="M1096.4 117.9L1097.9 110.9" stroke="#4a90d8" stroke-width="1.8"/><path d="M1097.9 110.9L1099.4 103.9" stroke="#d87272" stroke-width="1.8"/><path d="M1096.4 117.9L1094.9 124.9" stroke="#4a90d8" stroke-width="1.8"/><path d="M1094.9 124.9L1093.4 131.9" stroke="#d87272" stroke-width="1.8"/><circle cx="1079.5" cy="119.2" r="2.6" fill="#e07272"/><circle cx="1094.9" cy="103.5" r="2.6" fill="#e07272"/><circle cx="1113.3" cy="116.6" r="2.6" fill="#e07272"/><circle cx="1097.9" cy="132.3" r="2.6" fill="#e07272"/><circle cx="1099.4" cy="103.9" r="2.6" fill="#e07272"/><circle cx="1093.4" cy="131.9" r="2.6" fill="#e07272"/><circle cx="1096.4" cy="117.9" r="4.6" fill="#3f8ad6"/><path d="M1133.7 99.0L1129.0 127.4L1113.8 111.5ZM1127.7 127.0L1129.0 127.4L1113.8 111.5ZM1133.7 99.0L1113.8 111.5L1132.4 98.6ZM1127.7 127.0L1113.8 111.5L1132.4 98.6ZM1133.7 99.0L1132.4 98.6L1147.6 114.5ZM1127.7 127.0L1132.4 98.6L1147.6 114.5ZM1133.7 99.0L1147.6 114.5L1129.0 127.4ZM1127.7 127.0L1147.6 114.5L1129.0 127.4Z" fill="#b0cbf0" fill-opacity="0.5" stroke="#a9c4ec" stroke-width="0.6"/><path d="M1130.7 113.0L1129.8 120.2" stroke="#4a90d8" stroke-width="1.8"/><path d="M1129.8 120.2L1129.0 127.4" stroke="#d87272" stroke-width="1.8"/><path d="M1130.7 113.0L1122.2 112.3" stroke="#4a90d8" stroke-width="1.8"/><path d="M1122.2 112.3L1113.8 111.5" stroke="#d87272" stroke-width="1.8"/><path d="M1130.7 113.0L1131.6 105.8" stroke="#4a90d8" stroke-width="1.8"/><path d="M1131.6 105.8L1132.4 98.6" stroke="#d87272" stroke-width="1.8"/><path d="M1130.7 113.0L1139.2 113.7" stroke="#4a90d8" stroke-width="1.8"/><path d="M1139.2 113.7L1147.6 114.5" stroke="#d87272" stroke-width="1.8"/><path d="M1130.7 113.0L1132.2 106.0" stroke="#4a90d8" stroke-width="1.8"/><path d="M1132.2 106.0L1133.7 99.0" stroke="#d87272" stroke-width="1.8"/><path d="M1130.7 113.0L1129.2 120.0" stroke="#4a90d8" stroke-width="1.8"/><path d="M1129.2 120.0L1127.7 127.0" stroke="#d87272" stroke-width="1.8"/><circle cx="1129.0" cy="127.4" r="2.6" fill="#e07272"/><circle cx="1113.8" cy="111.5" r="2.6" fill="#e07272"/><circle cx="1132.4" cy="98.6" r="2.6" fill="#e07272"/><circle cx="1147.6" cy="114.5" r="2.6" fill="#e07272"/><circle cx="1133.7" cy="99.0" r="2.6" fill="#e07272"/><circle cx="1127.7" cy="127.0" r="2.6" fill="#e07272"/><circle cx="1130.7" cy="113.0" r="4.6" fill="#3f8ad6"/><path d="M1155.8 83.5L1154.2 111.9L1135.9 98.7ZM1149.8 111.5L1154.2 111.9L1135.9 98.7ZM1155.8 83.5L1135.9 98.7L1151.4 83.1ZM1149.8 111.5L1135.9 98.7L1151.4 83.1ZM1155.8 83.5L1151.4 83.1L1169.7 96.3ZM1149.8 111.5L1151.4 83.1L1169.7 96.3ZM1155.8 83.5L1169.7 96.3L1154.2 111.9ZM1149.8 111.5L1169.7 96.3L1154.2 111.9Z" fill="#b0cbf0" fill-opacity="0.5" stroke="#a9c4ec" stroke-width="0.6"/><path d="M1152.8 97.5L1153.5 104.7" stroke="#4a90d8" stroke-width="1.8"/><path d="M1153.5 104.7L1154.2 111.9" stroke="#d87272" stroke-width="1.8"/><path d="M1152.8 97.5L1144.3 98.1" stroke="#4a90d8" stroke-width="1.8"/><path d="M1144.3 98.1L1135.9 98.7" stroke="#d87272" stroke-width="1.8"/><path d="M1152.8 97.5L1152.1 90.3" stroke="#4a90d8" stroke-width="1.8"/><path d="M1152.1 90.3L1151.4 83.1" stroke="#d87272" stroke-width="1.8"/><path d="M1152.8 97.5L1161.3 96.9" stroke="#4a90d8" stroke-width="1.8"/><path d="M1161.3 96.9L1169.7 96.3" stroke="#d87272" stroke-width="1.8"/><path d="M1152.8 97.5L1154.3 90.5" stroke="#4a90d8" stroke-width="1.8"/><path d="M1154.3 90.5L1155.8 83.5" stroke="#d87272" stroke-width="1.8"/><path d="M1152.8 97.5L1151.3 104.5" stroke="#4a90d8" stroke-width="1.8"/><path d="M1151.3 104.5L1149.8 111.5" stroke="#d87272" stroke-width="1.8"/><circle cx="1154.2" cy="111.9" r="2.6" fill="#e07272"/><circle cx="1135.9" cy="98.7" r="2.6" fill="#e07272"/><circle cx="1151.4" cy="83.1" r="2.6" fill="#e07272"/><circle cx="1169.7" cy="96.3" r="2.6" fill="#e07272"/><circle cx="1155.8" cy="83.5" r="2.6" fill="#e07272"/><circle cx="1149.8" cy="111.5" r="2.6" fill="#e07272"/><circle cx="1152.8" cy="97.5" r="4.6" fill="#3f8ad6"/><path d="M1152.5 50.8L1166.3 66.9L1147.0 79.1ZM1146.5 78.8L1166.3 66.9L1147.0 79.1ZM1152.5 50.8L1147.0 79.1L1132.7 62.7ZM1146.5 78.8L1147.0 79.1L1132.7 62.7ZM1152.5 50.8L1132.7 62.7L1152.0 50.5ZM1146.5 78.8L1132.7 62.7L1152.0 50.5ZM1152.5 50.8L1152.0 50.5L1166.3 66.9ZM1146.5 78.8L1152.0 50.5L1166.3 66.9Z" fill="#b0cbf0" fill-opacity="0.5" stroke="#a9c4ec" stroke-width="0.6"/><path d="M1149.5 64.8L1157.9 65.8" stroke="#4a90d8" stroke-width="1.8"/><path d="M1157.9 65.8L1166.3 66.9" stroke="#d87272" stroke-width="1.8"/><path d="M1149.5 64.8L1148.3 71.9" stroke="#4a90d8" stroke-width="1.8"/><path d="M1148.3 71.9L1147.0 79.1" stroke="#d87272" stroke-width="1.8"/><path d="M1149.5 64.8L1141.1 63.8" stroke="#4a90d8" stroke-width="1.8"/><path d="M1141.1 63.8L1132.7 62.7" stroke="#d87272" stroke-width="1.8"/><path d="M1149.5 64.8L1150.7 57.7" stroke="#4a90d8" stroke-width="1.8"/><path d="M1150.7 57.7L1152.0 50.5" stroke="#d87272" stroke-width="1.8"/><path d="M1149.5 64.8L1151.0 57.8" stroke="#4a90d8" stroke-width="1.8"/><path d="M1151.0 57.8L1152.5 50.8" stroke="#d87272" stroke-width="1.8"/><path d="M1149.5 64.8L1148.0 71.8" stroke="#4a90d8" stroke-width="1.8"/><path d="M1148.0 71.8L1146.5 78.8" stroke="#d87272" stroke-width="1.8"/><circle cx="1166.3" cy="66.9" r="2.6" fill="#e07272"/><circle cx="1147.0" cy="79.1" r="2.6" fill="#e07272"/><circle cx="1132.7" cy="62.7" r="2.6" fill="#e07272"/><circle cx="1152.0" cy="50.5" r="2.6" fill="#e07272"/><circle cx="1152.5" cy="50.8" r="2.6" fill="#e07272"/><circle cx="1146.5" cy="78.8" r="2.6" fill="#e07272"/><circle cx="1149.5" cy="64.8" r="4.6" fill="#3f8ad6"/><path d="M1135.9 25.3L1149.8 37.7L1134.8 53.7ZM1129.9 53.3L1149.8 37.7L1134.8 53.7ZM1135.9 25.3L1134.8 53.7L1116.0 40.9ZM1129.9 53.3L1134.8 53.7L1116.0 40.9ZM1135.9 25.3L1116.0 40.9L1131.0 24.9ZM1129.9 53.3L1116.0 40.9L1131.0 24.9ZM1135.9 25.3L1131.0 24.9L1149.8 37.7ZM1129.9 53.3L1131.0 24.9L1149.8 37.7Z" fill="#b0cbf0" fill-opacity="0.5" stroke="#a9c4ec" stroke-width="0.6"/><path d="M1132.9 39.3L1141.3 38.5" stroke="#4a90d8" stroke-width="1.8"/><path d="M1141.3 38.5L1149.8 37.7" stroke="#d87272" stroke-width="1.8"/><path d="M1132.9 39.3L1133.8 46.5" stroke="#4a90d8" stroke-width="1.8"/><path d="M1133.8 46.5L1134.8 53.7" stroke="#d87272" stroke-width="1.8"/><path d="M1132.9 39.3L1124.5 40.1" stroke="#4a90d8" stroke-width="1.8"/><path d="M1124.5 40.1L1116.0 40.9" stroke="#d87272" stroke-width="1.8"/><path d="M1132.9 39.3L1132.0 32.1" stroke="#4a90d8" stroke-width="1.8"/><path d="M1132.0 32.1L1131.0 24.9" stroke="#d87272" stroke-width="1.8"/><path d="M1132.9 39.3L1134.4 32.3" stroke="#4a90d8" stroke-width="1.8"/><path d="M1134.4 32.3L1135.9 25.3" stroke="#d87272" stroke-width="1.8"/><path d="M1132.9 39.3L1131.4 46.3" stroke="#4a90d8" stroke-width="1.8"/><path d="M1131.4 46.3L1129.9 53.3" stroke="#d87272" stroke-width="1.8"/><circle cx="1149.8" cy="37.7" r="2.6" fill="#e07272"/><circle cx="1134.8" cy="53.7" r="2.6" fill="#e07272"/><circle cx="1116.0" cy="40.9" r="2.6" fill="#e07272"/><circle cx="1131.0" cy="24.9" r="2.6" fill="#e07272"/><circle cx="1135.9" cy="25.3" r="2.6" fill="#e07272"/><circle cx="1129.9" cy="53.3" r="2.6" fill="#e07272"/><circle cx="1132.9" cy="39.3" r="4.6" fill="#3f8ad6"/>
<text x="110" y="511.6" font-size="22.9" font-weight="bold" fill="#22c850" font-family="'Liberation Sans', sans-serif">Efficient mass diffusion</text>
<text x="153" y="552.5" font-size="22.9" font-weight="bold" fill="#22c850" font-family="'Liberation Sans', sans-serif">Rich active sites</text>
<path d="M77.7 504L82.7 501L87.7 507Q94.7 496 103.7 489L102.7 499Q94.7 505 87.7 515Z" fill="#22c850"/>
<path d="M121.3 545L126.3 542L131.3 548Q138.3 537 147.3 530L146.3 540Q138.3 546 131.3 556Z" fill="#22c850"/>
<rect x="17" y="834" width="441.5" height="69" fill="url(#pemg)"/>
<text x="239.7" y="882.2" text-anchor="middle" font-size="26" font-weight="bold" fill="#222" filter="url(#glowt)" font-family="'Liberation Sans', sans-serif">PEM</text>
<g fill="#dbe8fb" filter="url(#haze)"><circle cx="52.7" cy="598.8" r="29.8"/><circle cx="102.3" cy="594" r="25"/><circle cx="155" cy="598.8" r="26"/><circle cx="203" cy="600" r="29"/><circle cx="31" cy="648" r="31"/><circle cx="86.8" cy="639" r="30"/><circle cx="136.4" cy="639" r="26"/><circle cx="180" cy="642" r="26"/><circle cx="223" cy="662" r="27"/><circle cx="60.5" cy="696" r="32"/><circle cx="113" cy="682.5" r="29"/><circle cx="172" cy="685.6" r="27"/><circle cx="214" cy="707" r="25"/><circle cx="77.5" cy="750.7" r="30"/><circle cx="125.6" cy="732" r="28"/><circle cx="176.7" cy="732" r="26"/><circle cx="223" cy="740" r="24"/><circle cx="46.5" cy="791" r="27"/><circle cx="88.4" cy="809.6" r="27"/><circle cx="125.6" cy="778.6" r="28"/><circle cx="175" cy="775.5" r="27"/><circle cx="217" cy="774" r="25"/><circle cx="156.6" cy="815.8" r="24"/><circle cx="197" cy="812.7" r="25"/><circle cx="286.7" cy="597" r="27"/><circle cx="330" cy="603.4" r="27"/><circle cx="381" cy="597" r="28"/><circle cx="429" cy="611" r="29"/><circle cx="243" cy="626.7" r="27"/><circle cx="286.7" cy="653" r="30"/><circle cx="339.4" cy="653" r="30"/><circle cx="393.6" cy="645.3" r="27"/><circle cx="251" cy="693" r="24"/><circle cx="296" cy="709" r="30"/><circle cx="347" cy="705.7" r="29"/><circle cx="404.5" cy="701" r="31"/><circle cx="246" cy="735" r="27"/><circle cx="288" cy="761.5" r="30"/><circle cx="341" cy="755" r="31"/><circle cx="398" cy="752" r="30"/><circle cx="240" cy="806.5" r="27"/><circle cx="303.7" cy="808" r="27"/><circle cx="351.8" cy="805" r="29"/><circle cx="410.7" cy="805" r="30"/></g>
<circle cx="52.7" cy="598.8" r="24.8" fill="url(#bsph)"/><g fill="#fff"><path d="M48.8 599.4L45.8 600.5L42.8 601.4L40.3 603.3L37.3 604.2L34.4 605.3L38.1 611.6L40.5 609.6L42.3 606.7L44.6 604.6L47.5 603.4L50.3 602.1ZM49.3 596.8L45.8 595.3L41.9 596.1L38.4 594.7L34.9 593.7L31.4 592.0L30.5 597.7L34.0 598.6L37.7 599.0L41.3 599.8L45.3 598.4L48.8 599.4ZM51.9 594.7L50.0 591.7L47.6 589.1L45.3 586.4L44.4 582.7L42.4 579.7L38.0 583.0L39.6 586.3L42.0 588.9L44.6 591.4L47.4 593.7L49.6 596.5ZM53.5 595.0L53.9 591.5L53.2 588.1L54.6 584.5L54.3 581.0L54.1 577.6L49.3 577.9L48.9 581.5L49.6 584.9L49.0 588.4L50.6 591.7L51.0 595.2ZM55.7 596.4L58.6 594.5L59.4 591.2L62.4 589.3L65.2 587.4L66.9 584.6L62.3 581.3L60.7 584.1L58.8 586.8L56.4 588.9L56.1 592.7L54.2 595.3ZM56.5 598.7L59.7 598.7L62.7 597.7L65.8 597.4L68.9 597.2L72.1 597.1L70.1 589.9L67.3 591.3L64.6 593.3L61.7 594.3L59.0 596.0L55.8 595.9ZM55.2 602.1L58.2 603.3L61.1 604.4L63.9 605.8L66.2 608.5L68.9 610.1L71.6 604.5L68.2 604.4L65.8 601.9L62.8 601.0L59.4 600.8L56.4 599.7ZM53.1 602.5L53.3 605.6L54.0 608.4L52.8 611.8L53.7 614.6L54.9 617.3L60.6 615.8L58.4 613.3L57.6 610.5L57.1 607.6L56.8 604.6L55.2 602.0ZM49.5 601.5L48.8 604.8L47.3 607.7L44.7 610.2L44.1 613.5L41.3 615.9L48.2 618.7L48.1 615.1L49.6 612.2L51.4 609.3L52.0 606.1L51.7 602.4Z" stroke="#fff" stroke-width="0.6" stroke-linejoin="round"/><circle cx="36.3" cy="608.7" r="3.7"/><circle cx="30.8" cy="595.5" r="2.9"/><circle cx="40.1" cy="581.5" r="2.8"/><circle cx="51.6" cy="577.8" r="2.5"/><circle cx="64.5" cy="583.0" r="2.8"/><circle cx="71.1" cy="593.5" r="3.7"/><circle cx="70.2" cy="607.5" r="3.1"/><circle cx="57.3" cy="616.7" r="2.9"/><circle cx="44.9" cy="617.3" r="3.7"/><circle cx="52.7" cy="598.8" r="5.5"/></g><circle cx="102.3" cy="594" r="20" fill="url(#bsph)"/><g fill="#fff"><path d="M105.7 594.2L108.0 592.7L110.8 592.3L113.3 591.4L115.8 590.3L118.3 589.1L116.3 584.9L114.0 586.4L111.7 587.7L109.7 589.8L106.9 590.4L104.8 592.2ZM105.0 595.5L107.5 596.8L110.1 597.6L112.5 599.0L115.0 599.9L117.6 601.0L118.9 596.6L116.3 595.7L113.5 595.6L110.8 595.2L108.2 594.4L105.5 593.7ZM102.7 597.2L103.5 599.5L104.3 601.8L105.9 603.5L106.2 606.1L106.8 608.4L111.9 605.4L110.2 603.7L109.4 601.5L107.3 600.0L106.2 597.9L104.5 596.2ZM102.2 597.0L102.0 599.6L101.4 602.2L102.1 604.6L102.1 607.2L101.2 609.8L105.9 609.2L105.7 606.7L105.8 604.1L105.2 601.7L104.2 599.3L104.0 596.8ZM99.5 595.8L98.7 598.2L96.8 599.9L95.4 601.9L94.1 604.0L92.8 606.1L97.1 608.8L97.2 606.0L98.6 603.9L99.7 601.8L100.7 599.5L101.2 596.8ZM99.1 593.7L96.2 594.4L93.3 594.9L90.5 595.7L87.4 595.6L84.4 595.7L85.8 601.2L88.6 600.0L91.2 598.6L93.9 597.2L96.8 596.6L99.6 595.4ZM99.5 592.8L97.4 591.0L95.0 590.5L92.6 590.4L90.2 589.7L88.1 588.2L87.0 593.5L89.4 593.8L91.9 594.0L94.4 593.5L96.8 594.0L99.1 594.8ZM101.1 591.2L100.0 588.4L98.0 586.4L96.7 583.7L94.8 581.6L93.6 578.9L89.4 582.1L92.4 583.4L93.9 585.9L96.1 587.8L98.0 589.9L99.7 592.2ZM103.2 590.9L102.6 588.0L102.6 585.0L102.8 582.0L102.4 579.1L102.6 576.1L97.8 576.6L98.3 579.5L99.3 582.4L99.5 585.4L99.9 588.3L101.3 591.1ZM105.3 592.6L107.5 590.9L109.4 588.8L111.2 586.7L113.4 585.0L115.7 583.3L112.2 580.3L110.0 582.1L108.6 584.5L106.8 586.6L105.3 589.0L103.7 591.3Z" stroke="#fff" stroke-width="0.6" stroke-linejoin="round"/><circle cx="117.5" cy="587.5" r="2.3"/><circle cx="118.2" cy="598.9" r="2.3"/><circle cx="109.2" cy="607.0" r="3.0"/><circle cx="103.8" cy="609.5" r="2.4"/><circle cx="94.5" cy="607.2" r="2.5"/><circle cx="85.1" cy="598.4" r="2.8"/><circle cx="87.5" cy="591.0" r="2.7"/><circle cx="91.5" cy="580.5" r="2.6"/><circle cx="100.7" cy="576.3" r="2.4"/><circle cx="113.7" cy="581.6" r="2.3"/><circle cx="102.3" cy="594" r="4.4"/></g><circle cx="155" cy="598.8" r="21" fill="url(#bsph)"/><g fill="#fff"><path d="M151.8 597.9L149.2 596.9L146.7 597.8L144.1 596.8L141.5 595.6L139.0 595.9L139.1 602.1L141.6 601.3L144.2 601.3L146.8 600.9L149.3 600.1L151.9 599.8ZM153.4 595.6L151.2 594.3L149.4 592.5L147.0 591.5L145.8 588.8L143.0 588.2L140.1 592.2L143.1 592.4L145.1 594.0L147.4 595.2L149.9 596.1L152.2 597.2ZM154.4 595.6L153.6 593.1L153.6 590.3L152.7 587.8L152.3 585.1L151.5 582.6L146.1 584.6L147.7 586.9L148.9 589.2L150.7 591.4L151.6 593.9L152.6 596.3ZM156.8 596.0L157.1 593.5L158.5 591.3L159.3 588.9L160.7 586.7L161.4 584.3L155.7 582.9L155.7 585.4L155.3 587.9L155.9 590.6L154.4 592.8L154.9 595.5ZM158.0 597.1L159.4 594.4L161.4 592.2L164.0 590.5L164.9 587.4L166.9 585.2L162.7 582.2L161.4 584.9L160.1 587.6L158.5 590.2L157.1 592.8L156.3 595.9ZM158.2 598.8L161.2 599.0L163.9 597.9L166.9 598.5L169.7 597.9L172.5 597.2L171.4 592.3L168.7 593.5L166.0 594.6L163.2 594.8L160.6 596.2L157.7 596.5ZM157.3 601.6L160.4 602.1L163.2 603.5L165.9 604.8L168.9 605.7L171.7 607.0L173.3 602.7L170.1 602.6L167.4 600.9L164.1 601.1L161.4 599.5L158.2 599.3ZM156.2 601.9L157.7 604.4L159.8 606.4L160.5 609.4L162.3 611.7L163.3 614.6L168.1 610.7L166.3 608.5L163.7 606.9L162.1 604.5L159.3 603.1L157.4 600.9ZM154.2 602.0L154.3 604.7L153.9 607.4L153.3 610.2L153.8 612.9L153.9 615.6L159.2 615.3L157.7 612.7L156.8 610.0L157.6 607.3L157.2 604.6L156.0 601.9ZM153.4 601.6L151.7 604.0L150.3 606.5L149.4 609.2L147.5 611.5L147.0 614.4L151.9 616.1L151.3 612.9L152.9 610.4L153.3 607.6L154.3 604.9L155.5 602.3ZM151.6 599.7L150.0 602.1L146.9 602.9L144.7 604.8L141.9 605.9L139.3 607.2L142.5 611.2L144.9 609.6L147.0 607.6L148.6 605.0L151.4 603.9L153.0 601.3Z" stroke="#fff" stroke-width="0.6" stroke-linejoin="round"/><circle cx="139.0" cy="598.8" r="3.1"/><circle cx="141.9" cy="589.7" r="2.4"/><circle cx="148.7" cy="583.6" r="2.9"/><circle cx="158.5" cy="583.6" r="3.0"/><circle cx="165.1" cy="583.9" r="2.6"/><circle cx="171.9" cy="594.6" r="2.5"/><circle cx="172.4" cy="605.2" r="2.3"/><circle cx="165.8" cy="612.6" r="3.1"/><circle cx="156.1" cy="615.5" r="2.7"/><circle cx="149.0" cy="615.1" r="2.6"/><circle cx="141.2" cy="609.6" r="2.5"/><circle cx="155" cy="598.8" r="4.6"/></g><circle cx="203" cy="600" r="24" fill="url(#bsph)"/><g fill="#fff"><path d="M202.7 596.3L202.4 593.1L201.4 590.3L200.9 587.2L200.2 584.3L198.8 581.6L193.6 583.6L195.3 586.2L196.4 589.0L197.1 592.0L199.1 594.4L199.9 597.3ZM206.1 597.4L207.9 594.6L208.7 591.4L210.7 588.7L211.6 585.6L212.7 582.5L208.1 580.5L207.0 583.6L205.9 586.7L205.0 589.9L204.5 593.2L203.5 596.3ZM206.8 599.1L208.9 596.7L211.9 595.5L214.4 593.5L217.5 592.5L220.7 591.6L217.0 586.6L214.4 588.4L211.6 589.8L209.6 592.3L207.3 594.5L205.5 597.3ZM206.4 601.6L209.7 602.8L212.9 603.7L216.4 602.6L219.7 603.6L222.8 605.7L223.4 600.0L220.2 599.2L216.8 599.1L213.4 599.8L210.0 599.5L206.7 599.3ZM204.5 603.4L205.8 606.9L208.8 608.9L210.2 612.3L212.3 615.0L214.7 617.6L218.6 614.3L216.8 611.2L213.7 609.3L211.3 606.8L208.1 605.0L206.6 601.6ZM201.4 603.5L200.7 607.1L200.2 610.6L199.8 614.2L198.4 617.7L199.7 621.4L204.9 621.8L203.8 618.1L205.2 614.6L203.7 610.9L203.9 607.3L203.8 603.7ZM200.2 602.3L197.4 604.3L194.3 606.0L191.9 608.3L189.4 610.6L187.1 613.1L190.7 616.4L192.9 613.9L195.1 611.3L197.8 609.2L199.8 606.6L201.6 603.7ZM199.2 599.6L196.5 600.5L193.6 600.5L191.1 601.9L188.2 602.0L185.1 601.2L186.8 607.6L189.4 606.3L191.9 605.0L194.5 603.7L197.2 603.1L199.8 602.0ZM200.7 596.9L198.1 594.8L195.7 592.3L193.3 589.9L189.6 589.5L187.7 586.3L184.5 591.4L187.0 593.6L190.6 594.2L193.6 595.7L196.3 597.6L199.4 598.9Z" stroke="#fff" stroke-width="0.6" stroke-linejoin="round"/><circle cx="195.9" cy="582.7" r="2.8"/><circle cx="210.2" cy="581.4" r="2.5"/><circle cx="218.5" cy="588.6" r="3.1"/><circle cx="223.2" cy="602.3" r="2.9"/><circle cx="216.6" cy="615.9" r="2.6"/><circle cx="202.0" cy="621.6" r="2.6"/><circle cx="188.8" cy="614.7" r="2.4"/><circle cx="186.0" cy="604.6" r="3.3"/><circle cx="186.0" cy="589.1" r="3.0"/><circle cx="203" cy="600" r="5.3"/></g><circle cx="31" cy="648" r="26" fill="url(#bsph)"/><g fill="#fff"><path d="M26.9 646.4L23.4 646.3L19.9 647.0L16.3 646.7L12.7 646.0L9.2 646.0L9.8 652.7L13.3 652.1L16.8 651.9L20.2 650.1L23.7 649.3L27.2 649.5ZM28.7 644.6L26.4 642.4L24.1 640.2L21.3 638.7L19.8 635.4L16.9 634.1L13.1 639.2L16.7 639.7L18.4 642.6L21.4 643.9L24.1 645.5L26.8 647.1ZM31.8 643.8L31.2 640.0L30.4 636.3L29.2 632.7L29.4 628.7L27.8 625.2L21.4 626.8L23.2 630.2L25.1 633.7L26.7 637.2L27.9 640.8L29.3 644.4ZM34.8 645.6L35.6 641.8L38.0 638.9L40.7 636.2L41.1 632.2L44.8 630.0L38.1 626.4L36.1 629.6L36.1 633.7L34.2 636.9L32.6 640.3L32.4 644.3ZM35.2 648.1L38.7 646.9L42.2 646.0L45.5 644.4L49.2 643.9L52.5 642.2L50.3 636.5L47.3 638.9L43.8 640.0L40.9 642.6L37.6 644.0L34.3 645.6ZM34.3 650.7L37.9 651.7L41.2 653.9L44.7 655.6L48.2 657.2L52.2 657.2L54.1 650.9L50.2 650.8L46.2 650.8L42.4 650.3L38.8 649.0L35.1 647.8ZM31.3 652.2L33.0 655.3L33.3 659.2L35.1 662.3L37.2 665.3L37.1 669.3L42.5 666.8L42.1 663.0L39.2 660.4L36.9 657.5L35.3 654.3L33.4 651.2ZM29.2 651.7L28.6 655.1L26.8 658.3L25.3 661.6L26.4 665.3L24.4 668.5L30.3 669.5L31.9 666.2L30.3 662.4L31.5 659.1L32.3 655.7L32.0 652.1ZM27.4 649.8L23.7 651.0L21.3 653.8L17.7 655.2L15.3 657.9L11.9 659.5L16.9 665.3L19.2 662.4L21.4 659.4L24.5 657.5L26.3 654.0L28.8 651.4Z" stroke="#fff" stroke-width="0.6" stroke-linejoin="round"/><circle cx="9.5" cy="649.8" r="3.3"/><circle cx="15.0" cy="636.6" r="3.2"/><circle cx="25.3" cy="625.8" r="3.3"/><circle cx="41.3" cy="628.1" r="3.8"/><circle cx="51.5" cy="639.7" r="3.0"/><circle cx="53.0" cy="654.5" r="3.3"/><circle cx="40.4" cy="667.8" r="3.0"/><circle cx="27.7" cy="669.0" r="3.0"/><circle cx="14.5" cy="662.6" r="3.8"/><circle cx="31" cy="648" r="5.7"/></g><circle cx="86.8" cy="639" r="25" fill="url(#bsph)"/><g fill="#fff"><path d="M83.3 637.4L79.8 635.6L76.1 635.1L72.3 635.3L68.9 633.0L65.0 633.4L64.3 637.9L68.1 638.0L71.6 639.5L75.5 638.8L79.2 639.1L82.9 639.9ZM86.4 634.8L84.7 632.2L83.5 629.1L82.2 626.2L80.4 623.5L79.1 620.6L74.1 623.6L75.2 626.7L78.2 628.6L80.0 631.2L82.0 633.8L84.1 636.3ZM88.0 635.3L88.6 631.9L89.6 628.5L89.6 625.1L90.3 621.7L91.0 618.3L84.8 617.9L84.8 621.3L85.4 624.8L85.7 628.3L85.4 631.7L85.1 635.1ZM89.9 636.8L93.1 634.7L95.0 631.6L98.6 629.9L101.4 627.5L103.7 624.7L98.9 620.4L97.2 623.8L95.0 626.7L92.1 629.0L90.5 632.5L88.4 635.4ZM90.6 639.9L93.8 639.8L96.9 640.5L100.1 640.8L103.3 641.2L106.4 640.7L106.0 635.5L102.9 636.2L99.8 635.7L96.7 636.5L93.5 636.2L90.5 638.0ZM88.6 642.7L91.8 644.7L94.5 647.3L97.0 650.1L99.7 652.6L101.5 656.3L105.6 651.5L103.0 648.7L100.0 646.5L97.1 644.2L93.4 642.7L90.0 641.0ZM86.4 643.0L87.7 646.5L87.2 650.5L87.6 654.3L89.8 657.5L89.8 661.4L95.5 659.8L95.6 655.9L92.6 652.9L91.8 649.2L90.7 645.7L89.2 642.2ZM83.9 641.8L82.1 644.9L81.5 648.5L78.2 650.9L77.4 654.5L74.4 657.0L79.8 659.5L81.2 656.2L82.3 652.8L84.3 649.8L84.7 646.1L86.2 642.8ZM83.3 640.3L79.5 640.4L76.5 642.1L73.3 643.4L69.7 643.8L67.2 646.3L70.0 651.9L72.5 649.3L75.4 647.4L78.2 645.4L81.1 643.6L84.1 642.0Z" stroke="#fff" stroke-width="0.6" stroke-linejoin="round"/><circle cx="64.7" cy="635.8" r="2.3"/><circle cx="76.2" cy="622.3" r="2.9"/><circle cx="88.6" cy="618.2" r="3.1"/><circle cx="101.2" cy="622.5" r="3.2"/><circle cx="106.2" cy="637.6" r="2.6"/><circle cx="103.7" cy="653.7" r="3.2"/><circle cx="92.5" cy="660.6" r="3.0"/><circle cx="77.8" cy="658.6" r="3.0"/><circle cx="68.4" cy="648.8" r="3.1"/><circle cx="86.8" cy="639" r="5.5"/></g><circle cx="136.4" cy="639" r="21" fill="url(#bsph)"/><g fill="#fff"><path d="M139.6 638.5L142.7 637.7L145.5 636.5L148.3 635.4L150.8 633.6L154.0 633.1L151.4 627.9L149.2 630.4L146.6 632.0L143.9 633.3L141.6 635.4L138.8 636.7ZM139.4 640.8L142.2 640.7L145.0 640.8L147.6 643.1L150.5 641.9L153.2 643.4L153.8 637.5L151.0 637.0L148.0 639.4L145.3 637.8L142.4 638.3L139.6 638.7ZM138.8 641.1L140.6 642.9L142.3 644.9L144.6 645.8L146.8 647.0L148.4 649.2L151.0 645.1L149.1 643.5L146.6 642.7L144.3 641.8L141.8 641.1L139.8 639.6ZM136.5 642.3L136.8 645.3L136.6 648.5L138.9 650.9L138.3 654.2L139.3 657.0L143.8 655.7L143.4 652.7L142.3 649.9L139.8 647.5L139.4 644.5L138.1 641.8ZM135.3 642.0L133.9 644.8L133.8 647.7L133.0 650.5L133.5 653.4L132.3 656.2L137.1 656.7L137.7 653.9L137.5 650.9L136.7 648.0L136.8 645.1L137.8 642.3ZM133.3 640.3L130.4 641.5L127.7 643.1L125.3 645.1L123.1 647.2L120.3 648.7L124.4 653.5L126.4 651.1L127.6 647.8L129.9 645.7L132.1 643.6L134.8 642.0ZM133.1 638.0L130.1 638.9L126.9 638.4L123.8 638.6L120.8 639.1L117.6 638.6L118.3 644.6L121.2 642.9L124.2 641.8L127.3 641.7L130.4 641.6L133.4 640.3ZM133.5 637.8L131.0 636.0L128.4 634.8L125.5 635.0L123.3 632.3L120.1 633.0L118.9 637.6L122.0 636.8L124.7 637.8L127.4 638.4L130.2 638.9L133.0 639.3ZM135.9 635.5L134.3 633.4L132.8 631.3L131.7 628.9L130.6 626.4L129.6 623.9L125.7 626.7L126.7 629.2L128.5 631.1L130.3 633.0L131.8 635.2L134.0 636.8ZM136.9 635.8L136.0 632.8L137.0 629.5L137.4 626.3L136.9 623.3L137.2 620.1L131.5 620.9L132.1 624.0L133.1 626.9L133.9 629.9L133.8 633.1L134.7 636.1ZM138.8 636.6L140.3 633.8L140.7 630.7L142.4 628.0L143.6 625.1L146.4 622.9L141.1 620.7L139.7 623.5L139.5 626.8L137.7 629.4L137.5 632.7L137.3 636.0Z" stroke="#fff" stroke-width="0.6" stroke-linejoin="round"/><circle cx="152.7" cy="630.6" r="2.9"/><circle cx="153.5" cy="640.3" r="3.0"/><circle cx="149.4" cy="647.6" r="2.4"/><circle cx="141.6" cy="656.4" r="2.3"/><circle cx="134.4" cy="656.4" r="2.4"/><circle cx="122.3" cy="651.1" r="3.2"/><circle cx="118.0" cy="641.7" r="3.0"/><circle cx="119.7" cy="634.7" r="2.4"/><circle cx="127.5" cy="625.5" r="2.4"/><circle cx="134.2" cy="620.6" r="2.9"/><circle cx="143.9" cy="621.8" r="2.9"/><circle cx="136.4" cy="639" r="4.6"/></g><circle cx="180" cy="642" r="21" fill="url(#bsph)"/><g fill="#fff"><path d="M177.4 639.7L174.6 638.8L171.9 638.1L169.4 636.1L166.7 635.4L163.7 635.3L162.7 639.1L165.5 639.6L168.4 639.8L171.1 640.8L173.9 641.5L176.8 641.6ZM179.4 638.5L177.0 636.7L176.3 633.6L174.6 631.3L174.0 628.2L171.9 626.1L167.2 629.6L169.8 631.2L171.4 633.6L173.3 635.9L174.9 638.2L177.8 639.7ZM182.1 639.1L182.1 636.4L182.4 633.8L183.4 631.3L184.1 628.7L184.9 626.1L179.9 625.4L179.6 628.1L180.2 630.8L179.7 633.4L178.9 636.0L179.8 638.8ZM182.8 640.4L185.8 639.3L187.3 636.7L190.1 635.6L192.2 633.6L194.3 631.7L191.3 628.6L189.2 630.5L187.1 632.4L184.9 634.3L184.0 637.5L181.4 638.9ZM183.1 642.6L186.1 643.4L189.1 644.0L192.2 643.5L195.2 644.5L198.2 644.9L198.3 639.0L195.3 640.0L192.3 640.4L189.2 641.3L186.2 640.8L183.2 640.7ZM182.3 644.4L184.3 646.2L187.0 646.9L188.7 649.4L191.0 650.9L193.1 652.5L195.4 648.7L193.0 647.5L190.2 646.9L188.5 644.5L185.9 643.6L183.3 642.6ZM179.3 645.4L180.1 647.8L179.7 650.5L180.3 653.0L181.3 655.4L181.1 658.0L186.3 656.8L185.8 654.3L183.9 652.2L182.4 649.9L182.7 647.2L181.6 644.9ZM178.1 644.6L176.0 647.1L174.7 649.8L172.7 652.3L172.4 655.4L171.2 658.3L174.7 659.7L175.7 656.8L177.3 654.2L178.3 651.3L178.4 648.1L180.2 645.5ZM176.5 641.2L174.1 642.2L171.5 642.9L169.0 643.7L166.6 644.5L163.5 643.5L165.1 648.3L167.8 648.4L170.1 647.1L172.5 646.1L174.7 644.2L177.2 643.7Z" stroke="#fff" stroke-width="0.6" stroke-linejoin="round"/><circle cx="163.2" cy="637.2" r="2.0"/><circle cx="169.4" cy="627.9" r="2.9"/><circle cx="182.0" cy="625.7" r="2.5"/><circle cx="192.8" cy="630.2" r="2.2"/><circle cx="198.3" cy="642.1" r="3.0"/><circle cx="194.2" cy="650.7" r="2.2"/><circle cx="183.5" cy="657.5" r="2.6"/><circle cx="173.0" cy="659.0" r="1.9"/><circle cx="164.5" cy="646.4" r="2.5"/><circle cx="180" cy="642" r="4.6"/></g><circle cx="223" cy="662" r="22" fill="url(#bsph)"/><g fill="#fff"><path d="M220.1 663.7L217.8 665.8L215.0 667.2L212.7 669.2L209.8 670.6L207.8 672.9L211.7 676.9L213.2 674.1L215.4 672.1L216.9 669.2L220.0 668.0L221.6 665.3ZM219.7 661.5L216.5 661.2L213.3 660.3L210.2 659.9L207.1 661.0L203.9 660.6L204.2 666.4L207.3 665.5L210.4 664.7L213.5 664.1L216.7 664.2L219.8 663.6ZM221.1 658.8L218.7 657.9L216.5 656.5L214.5 654.8L212.4 653.5L210.8 651.1L208.0 655.7L209.9 657.4L212.2 658.5L214.6 659.6L216.9 660.7L219.9 660.7ZM223.8 658.5L223.5 655.7L222.5 653.0L223.7 649.9L223.2 647.1L222.7 644.4L216.7 645.4L219.0 647.9L219.2 650.7L219.3 653.6L221.2 656.1L221.2 659.0ZM225.5 659.4L226.6 656.8L228.0 654.3L229.4 651.8L230.5 649.2L232.1 646.7L227.4 644.8L226.2 647.4L225.3 650.1L224.3 652.8L223.7 655.6L223.3 658.5ZM226.5 661.8L229.8 661.1L232.8 659.9L235.3 657.5L239.3 658.4L242.2 656.8L239.9 651.7L237.0 653.2L234.0 654.7L231.1 656.1L228.4 658.0L225.8 660.1ZM226.1 663.3L228.7 663.9L231.2 664.9L233.8 665.8L236.3 666.7L239.1 666.0L239.6 662.0L237.1 661.3L234.4 661.6L231.7 662.0L229.1 661.4L226.4 661.5ZM224.5 665.0L225.4 668.1L227.3 670.4L228.5 673.2L230.8 675.2L231.9 678.2L236.6 674.6L234.7 672.3L231.8 670.7L229.9 668.4L228.1 666.0L226.1 663.8ZM221.3 665.1L220.7 668.2L220.6 671.4L219.5 674.5L217.8 677.5L219.2 680.8L223.5 681.3L223.0 678.0L223.3 674.9L223.9 671.8L224.3 668.6L223.3 665.4Z" stroke="#fff" stroke-width="0.6" stroke-linejoin="round"/><circle cx="209.9" cy="675.1" r="2.8"/><circle cx="204.1" cy="663.3" r="2.9"/><circle cx="209.3" cy="653.5" r="2.7"/><circle cx="220.0" cy="644.9" r="3.1"/><circle cx="230.1" cy="645.9" r="2.6"/><circle cx="240.9" cy="654.0" r="2.8"/><circle cx="239.3" cy="664.1" r="2.0"/><circle cx="234.4" cy="676.2" r="3.0"/><circle cx="221.4" cy="681.0" r="2.2"/><circle cx="223" cy="662" r="4.8"/></g><circle cx="60.5" cy="696" r="27" fill="url(#bsph)"/><g fill="#fff"><path d="M62.3 692.2L63.7 688.5L65.2 684.8L66.1 681.0L67.1 677.2L68.8 673.6L62.8 672.2L61.0 675.9L61.7 680.1L60.5 683.8L60.6 687.8L59.8 691.7ZM63.9 693.6L66.4 691.1L69.7 689.3L71.5 686.3L74.6 684.3L76.1 681.0L71.1 676.8L69.3 679.9L68.2 683.5L66.0 686.2L64.4 689.4L62.1 692.1ZM64.7 696.0L67.8 695.3L71.3 695.9L74.4 695.1L77.7 695.3L80.9 694.5L78.9 687.1L76.0 688.9L72.9 689.4L70.1 691.6L67.0 692.4L64.0 693.6ZM64.0 698.6L67.5 699.4L70.9 700.9L74.3 702.1L77.7 703.7L81.0 705.4L83.2 697.6L79.1 698.7L75.4 698.3L72.3 696.2L68.5 696.0L64.6 696.5ZM61.5 700.2L63.1 703.5L65.6 706.2L66.6 710.0L68.7 713.0L70.2 716.4L75.5 712.9L73.3 709.9L71.8 706.5L68.6 704.2L65.4 702.0L63.8 698.7ZM59.0 700.1L58.1 704.0L58.0 708.0L59.0 712.0L56.9 716.0L57.3 719.9L64.3 719.9L63.8 715.9L63.2 711.9L62.6 708.0L61.8 704.0L62.0 700.0ZM56.9 698.5L54.7 700.7L53.3 703.6L50.8 705.6L49.2 708.3L47.8 711.1L52.9 714.5L53.2 711.0L55.1 708.5L56.1 705.4L58.4 703.2L59.3 700.0ZM56.5 697.0L53.0 698.1L49.5 698.8L46.2 700.3L42.9 701.5L39.5 702.5L42.9 709.3L45.7 706.9L48.8 705.3L51.3 702.5L54.7 701.3L57.6 699.2ZM56.6 694.8L53.7 692.8L50.4 693.5L47.5 691.1L44.4 690.9L41.3 690.3L40.4 697.1L43.6 696.8L46.8 696.9L50.0 696.8L53.2 696.6L56.3 697.2ZM57.6 693.1L55.3 690.1L53.0 687.1L49.9 685.2L47.4 682.5L44.7 680.1L41.2 685.1L43.9 687.5L47.2 689.1L50.6 690.5L53.3 692.9L56.2 695.1ZM60.6 691.6L59.7 688.5L58.3 685.6L57.4 682.5L57.5 679.0L56.2 676.0L50.5 678.3L52.4 681.0L53.3 684.1L54.7 687.0L55.9 690.0L58.4 692.5Z" stroke="#fff" stroke-width="0.6" stroke-linejoin="round"/><circle cx="65.3" cy="672.8" r="3.1"/><circle cx="74.1" cy="679.4" r="3.3"/><circle cx="79.9" cy="691.1" r="3.9"/><circle cx="82.1" cy="701.6" r="4.1"/><circle cx="73.3" cy="714.3" r="3.2"/><circle cx="61.2" cy="719.9" r="3.5"/><circle cx="50.1" cy="712.6" r="3.1"/><circle cx="41.3" cy="706.2" r="3.8"/><circle cx="40.9" cy="693.0" r="3.5"/><circle cx="42.5" cy="683.2" r="3.0"/><circle cx="53.1" cy="677.2" r="3.1"/><circle cx="60.5" cy="696" r="5.9"/></g><circle cx="113" cy="682.5" r="24" fill="url(#bsph)"/><g fill="#fff"><path d="M110.3 679.7L107.4 677.6L104.2 676.4L101.0 675.1L98.0 673.2L95.1 671.2L92.3 677.5L95.7 678.5L99.3 678.9L102.6 679.9L105.9 681.0L109.3 681.9ZM111.7 679.0L110.7 676.1L108.7 673.9L107.6 671.1L106.8 668.0L105.0 665.7L99.9 669.3L102.7 670.9L103.8 673.8L106.2 675.7L108.0 678.0L109.8 680.3ZM114.1 679.0L114.8 676.2L116.3 673.4L117.0 670.6L116.8 667.6L118.6 664.9L111.9 664.3L112.9 667.3L111.9 670.1L111.8 673.0L111.6 675.8L111.7 678.8ZM116.8 680.9L118.3 677.8L120.5 675.3L122.9 673.0L124.7 670.2L127.1 667.9L122.1 664.1L120.8 667.3L119.5 670.4L117.8 673.3L116.0 676.1L114.7 679.2ZM116.6 681.7L119.7 681.5L122.2 680.1L125.2 679.9L127.6 678.2L130.4 677.4L128.3 672.7L125.7 674.0L123.2 675.4L120.6 676.7L118.3 678.6L115.6 679.5ZM116.2 684.9L119.6 685.8L123.2 686.2L126.3 688.4L129.9 688.8L133.4 689.5L134.6 683.5L130.9 684.0L127.2 684.1L123.9 682.7L120.3 682.7L116.7 682.3ZM115.3 685.3L116.5 688.8L119.6 690.4L121.0 693.8L123.0 696.5L125.6 698.6L129.8 694.3L126.1 693.3L123.9 690.8L122.1 687.8L119.1 686.2L116.9 683.7ZM113.2 686.2L113.4 689.2L113.3 692.3L113.0 695.4L113.3 698.4L114.7 701.2L120.1 700.0L119.2 697.2L117.7 694.4L117.7 691.3L116.1 688.6L115.7 685.6ZM110.6 685.7L110.9 689.4L109.9 692.8L108.1 696.1L108.2 699.8L105.7 702.9L112.0 704.1L113.2 700.7L111.7 696.8L112.8 693.4L114.1 690.0L113.3 686.2ZM110.2 684.8L106.9 685.8L105.2 688.1L103.3 690.5L100.9 692.2L98.5 694.1L101.7 697.1L104.1 695.3L105.9 693.0L108.1 690.9L109.6 688.3L112.0 686.5ZM109.2 681.7L105.6 681.9L102.2 682.8L98.6 683.1L94.9 682.4L91.3 682.6L92.3 688.9L95.9 688.5L99.1 686.3L102.8 686.8L106.1 684.8L109.5 683.5Z" stroke="#fff" stroke-width="0.6" stroke-linejoin="round"/><circle cx="93.8" cy="674.3" r="3.5"/><circle cx="102.2" cy="667.6" r="3.1"/><circle cx="115.0" cy="664.6" r="3.3"/><circle cx="125.1" cy="666.3" r="3.1"/><circle cx="129.2" cy="674.7" r="2.6"/><circle cx="133.9" cy="686.8" r="3.0"/><circle cx="127.8" cy="696.3" r="3.0"/><circle cx="117.0" cy="700.7" r="2.8"/><circle cx="109.1" cy="703.6" r="3.2"/><circle cx="100.1" cy="695.6" r="2.2"/><circle cx="91.7" cy="685.3" r="3.2"/><circle cx="113" cy="682.5" r="5.3"/></g><circle cx="172" cy="685.6" r="22" fill="url(#bsph)"/><g fill="#fff"><path d="M168.8 683.8L165.9 683.1L162.8 683.9L159.9 682.0L156.9 681.8L154.0 680.8L153.5 686.3L156.5 686.5L159.5 686.4L162.5 687.5L165.6 686.2L168.7 686.0ZM169.6 683.3L167.7 681.4L165.6 679.9L164.1 677.5L161.6 676.6L159.7 674.9L156.7 679.7L159.0 680.8L161.5 681.7L164.0 682.4L166.3 683.7L168.7 684.7ZM171.3 682.2L170.6 679.7L169.2 677.6L168.7 674.9L168.0 672.4L167.5 669.7L163.3 672.0L163.7 674.7L164.7 677.0L166.3 679.1L168.4 680.9L169.2 683.3ZM173.7 682.6L174.8 680.2L175.4 677.7L175.9 675.2L175.9 672.6L177.3 670.3L173.2 669.5L172.1 671.9L171.5 674.4L171.5 677.0L172.4 679.7L171.2 682.1ZM175.2 684.2L177.9 682.3L179.8 679.6L183.3 678.8L186.3 677.3L187.9 674.2L184.7 670.5L183.0 673.5L180.1 675.1L178.0 677.6L175.8 680.0L173.8 682.6ZM175.4 685.8L178.1 685.4L180.8 685.2L183.5 684.7L186.4 685.3L188.6 683.3L187.4 678.4L184.9 679.5L182.5 681.0L179.8 681.3L177.4 682.8L174.9 683.6ZM174.8 687.6L177.3 688.2L179.4 689.9L181.5 691.4L183.7 692.6L186.0 693.7L187.9 688.4L185.3 688.3L183.0 687.1L180.8 685.9L178.3 685.3L175.4 685.8ZM173.2 689.0L174.9 691.4L176.7 693.8L179.2 695.5L179.9 698.9L182.0 700.9L186.2 697.0L183.3 695.6L182.0 692.8L179.4 691.3L177.3 689.2L175.0 687.3ZM171.7 688.9L171.4 691.7L170.2 694.5L171.1 697.2L171.5 699.9L171.0 702.6L176.4 702.2L176.4 699.5L174.2 696.9L174.0 694.2L174.0 691.5L173.6 688.8ZM170.1 688.3L168.2 690.3L166.7 692.5L164.6 694.4L163.3 696.7L161.7 698.9L165.5 701.0L168.0 699.4L168.8 696.8L169.3 694.0L170.8 691.8L171.6 689.2ZM168.9 686.9L166.4 688.4L163.7 689.5L160.9 690.5L158.7 692.4L156.1 693.8L159.0 697.7L161.5 696.4L163.3 693.9L165.9 692.7L167.8 690.4L170.1 688.6Z" stroke="#fff" stroke-width="0.6" stroke-linejoin="round"/><circle cx="153.7" cy="683.9" r="2.7"/><circle cx="158.4" cy="676.9" r="2.8"/><circle cx="164.9" cy="671.1" r="2.4"/><circle cx="175.1" cy="669.9" r="2.1"/><circle cx="186.5" cy="672.6" r="2.4"/><circle cx="188.2" cy="681.4" r="2.5"/><circle cx="187.1" cy="690.8" r="2.8"/><circle cx="184.2" cy="698.9" r="2.8"/><circle cx="173.7" cy="702.4" r="2.7"/><circle cx="163.9" cy="700.1" r="2.2"/><circle cx="157.6" cy="695.8" r="2.4"/><circle cx="172" cy="685.6" r="4.8"/></g><circle cx="214" cy="707" r="20" fill="url(#bsph)"/><g fill="#fff"><path d="M217.1 707.5L219.7 707.0L222.4 707.4L225.2 708.5L227.7 707.2L230.5 708.0L229.9 703.2L227.2 703.2L224.7 704.5L222.0 704.6L219.4 704.5L216.9 705.9ZM216.1 709.3L218.0 711.3L219.8 713.5L222.4 714.5L224.1 716.9L226.6 718.0L229.0 714.6L226.3 713.6L224.5 711.4L221.9 710.4L219.3 709.3L217.1 707.8ZM214.5 710.1L215.2 712.3L216.3 714.4L216.8 716.6L216.8 719.2L218.0 721.2L222.3 719.1L220.6 717.4L219.5 715.4L219.0 713.0L217.7 711.1L216.1 709.3ZM212.3 709.8L212.2 712.1L211.5 714.3L211.6 716.6L210.1 718.7L209.0 720.9L213.6 721.5L213.3 719.2L215.3 717.1L214.0 714.7L214.4 712.4L214.0 710.0ZM211.1 708.2L209.0 709.7L206.9 711.2L204.3 712.2L202.4 714.0L200.6 715.9L203.2 719.0L205.1 717.2L206.6 715.0L208.8 713.6L210.6 711.7L212.0 709.3ZM211.0 706.7L208.0 705.6L205.1 706.2L202.2 706.2L199.2 705.3L196.5 706.7L196.9 711.4L199.7 709.9L202.5 709.5L205.4 709.1L208.3 708.8L211.2 709.0ZM212.2 704.4L210.4 702.0L207.8 700.6L205.6 698.6L204.0 695.8L201.7 694.0L198.6 698.2L201.2 699.5L203.1 701.9L206.0 703.0L208.7 704.1L211.2 705.8ZM213.6 704.0L214.0 701.2L213.0 698.8L212.9 696.1L212.3 693.6L212.5 690.9L207.8 692.2L208.1 694.8L209.2 697.2L209.5 699.8L211.8 701.8L212.2 704.4ZM215.3 704.2L216.3 701.9L217.0 699.6L217.2 697.2L218.4 695.0L219.0 692.7L214.4 692.0L213.5 694.2L213.8 696.7L213.6 699.1L213.7 701.5L213.3 703.9ZM216.8 705.6L219.6 704.4L221.3 701.8L224.2 700.6L226.2 698.5L228.8 696.9L225.8 693.4L223.9 695.7L221.7 697.7L219.7 700.0L217.7 702.2L215.8 704.4Z" stroke="#fff" stroke-width="0.6" stroke-linejoin="round"/><circle cx="230.1" cy="705.5" r="2.4"/><circle cx="227.6" cy="716.6" r="2.1"/><circle cx="220.2" cy="720.1" r="2.4"/><circle cx="211.7" cy="721.3" r="2.3"/><circle cx="201.9" cy="717.4" r="2.1"/><circle cx="196.7" cy="708.7" r="2.3"/><circle cx="200.0" cy="696.2" r="2.6"/><circle cx="210.1" cy="691.5" r="2.4"/><circle cx="216.5" cy="692.3" r="2.3"/><circle cx="227.6" cy="695.5" r="2.3"/><circle cx="214" cy="707" r="4.4"/></g><circle cx="77.5" cy="750.7" r="25" fill="url(#bsph)"/><g fill="#fff"><path d="M80.7 752.7L83.6 755.0L86.7 756.5L89.8 758.2L93.0 759.5L95.9 761.5L98.4 755.6L94.9 754.9L91.5 754.2L88.5 752.1L85.0 751.6L81.5 750.8ZM77.8 754.6L78.6 758.2L79.8 761.6L80.2 765.4L81.5 768.8L82.6 772.3L87.6 770.5L85.7 767.3L84.9 763.7L83.2 760.4L82.0 757.0L80.6 753.6ZM75.3 753.9L73.0 756.7L72.1 760.0L71.2 763.3L69.8 766.5L66.8 769.0L73.2 771.4L74.7 768.3L75.4 764.9L75.8 761.4L75.9 757.7L77.8 754.8ZM73.8 751.7L70.7 753.5L67.1 754.5L63.7 755.6L60.3 756.9L56.5 757.4L59.9 763.8L62.9 762.0L66.0 760.1L68.7 757.5L71.8 755.7L74.8 753.7ZM73.9 749.2L70.3 748.5L66.9 746.6L63.2 747.5L59.7 746.2L56.1 745.3L55.5 751.4L59.1 751.8L62.7 752.3L66.5 751.0L70.0 752.1L73.6 751.8ZM76.0 747.1L74.9 743.3L72.5 740.6L70.1 737.8L68.1 734.7L65.6 731.9L62.0 734.7L64.5 737.4L66.8 740.3L69.0 743.3L72.2 745.4L74.0 748.7ZM78.5 746.9L79.5 743.8L79.3 740.7L78.4 737.6L79.6 734.4L79.5 731.3L73.5 731.6L74.7 734.6L74.4 737.8L75.4 740.8L75.6 743.9L76.2 747.0ZM80.9 748.7L83.4 746.5L85.6 744.1L87.9 741.8L90.0 739.4L92.8 737.5L87.2 732.9L85.5 735.6L84.6 739.1L83.0 742.0L81.3 744.7L79.3 747.3ZM81.4 750.7L84.4 750.2L87.4 749.6L90.2 748.7L93.0 747.5L96.2 747.8L94.1 741.3L91.3 742.5L88.8 744.2L86.0 745.4L83.5 747.3L80.6 748.0Z" stroke="#fff" stroke-width="0.6" stroke-linejoin="round"/><circle cx="97.0" cy="759.0" r="3.2"/><circle cx="85.4" cy="771.3" r="2.7"/><circle cx="69.7" cy="770.1" r="3.4"/><circle cx="58.1" cy="760.4" r="3.6"/><circle cx="55.9" cy="748.2" r="3.1"/><circle cx="63.7" cy="733.4" r="2.3"/><circle cx="76.8" cy="731.4" r="3.0"/><circle cx="90.0" cy="735.2" r="3.6"/><circle cx="95.1" cy="744.3" r="3.4"/><circle cx="77.5" cy="750.7" r="5.5"/></g><circle cx="125.6" cy="732" r="23" fill="url(#bsph)"/><g fill="#fff"><path d="M129.1 731.7L132.4 732.3L135.8 732.8L138.7 731.1L141.9 730.6L145.2 730.7L144.3 726.2L141.1 726.8L138.0 727.3L135.1 729.2L131.8 729.1L128.6 729.5ZM128.3 734.2L130.3 736.5L133.1 737.3L135.3 739.2L137.3 741.6L139.6 743.3L142.4 738.2L140.2 736.4L136.9 736.4L134.9 734.0L131.4 734.5L129.2 732.7ZM126.8 735.3L128.2 737.9L129.2 740.7L131.1 742.9L132.4 745.5L133.6 748.2L137.6 745.5L136.2 742.9L134.6 740.5L132.6 738.4L130.2 736.5L128.7 734.0ZM125.1 735.5L124.9 738.6L123.9 741.7L124.4 744.7L124.9 747.7L125.2 750.7L130.2 750.2L130.1 747.2L128.5 744.3L127.9 741.3L127.9 738.3L127.7 735.3ZM122.8 734.4L121.0 736.7L120.1 739.6L117.8 741.7L116.5 744.3L113.9 746.2L119.0 749.0L119.9 746.1L121.3 743.6L122.7 741.0L123.8 738.3L124.9 735.6ZM121.8 731.8L119.1 732.8L116.6 734.2L113.7 734.4L110.9 735.2L108.2 736.2L110.6 741.8L112.6 739.2L115.3 738.3L117.8 737.1L120.3 735.7L122.5 733.6ZM122.2 731.1L119.3 730.4L116.4 729.7L113.5 729.9L110.6 728.2L107.7 729.1L107.4 734.7L110.4 733.8L113.3 733.4L116.3 733.0L119.2 733.5L122.1 733.1ZM124.1 728.6L121.6 726.4L120.0 723.2L117.3 721.3L114.9 719.0L113.6 715.6L109.4 720.0L111.8 722.2L114.8 724.0L117.4 726.0L119.4 728.6L122.5 730.3ZM125.3 728.5L126.0 725.6L126.3 722.6L125.2 720.0L125.1 717.2L123.7 714.6L118.9 715.5L121.3 717.9L121.8 720.7L122.4 723.4L123.7 726.0L123.3 728.9ZM127.3 728.9L129.0 726.3L130.0 723.5L130.6 720.7L132.2 718.1L133.2 715.3L127.8 713.9L127.4 716.8L126.5 719.6L126.2 722.6L126.3 725.6L124.8 728.2ZM129.1 730.6L131.0 728.8L133.2 727.2L135.2 725.4L137.7 724.2L139.3 721.9L136.0 718.5L133.5 719.7L132.4 722.5L130.6 724.5L128.9 726.6L127.5 729.0Z" stroke="#fff" stroke-width="0.6" stroke-linejoin="round"/><circle cx="144.7" cy="728.6" r="2.3"/><circle cx="141.2" cy="740.5" r="2.9"/><circle cx="135.5" cy="746.9" r="2.4"/><circle cx="127.6" cy="750.5" r="2.5"/><circle cx="116.9" cy="747.8" r="2.9"/><circle cx="109.3" cy="738.6" r="3.1"/><circle cx="107.6" cy="731.8" r="2.8"/><circle cx="111.3" cy="718.0" r="3.1"/><circle cx="121.8" cy="715.0" r="2.5"/><circle cx="130.7" cy="714.7" r="2.8"/><circle cx="137.5" cy="720.0" r="2.3"/><circle cx="125.6" cy="732" r="5.1"/></g><circle cx="176.7" cy="732" r="21" fill="url(#bsph)"/><g fill="#fff"><path d="M179.3 734.3L182.0 734.6L184.4 735.9L187.1 736.5L189.3 738.5L191.5 740.3L193.4 734.5L190.8 733.7L188.2 733.0L185.4 732.8L182.8 732.1L179.9 732.2ZM177.4 735.4L178.9 738.0L180.8 740.3L182.1 743.0L183.4 745.7L184.3 748.7L188.4 745.8L187.6 742.7L184.9 741.0L183.1 738.6L180.9 736.5L179.3 734.0ZM175.7 735.2L175.5 737.8L175.5 740.3L175.7 742.9L175.3 745.4L175.7 748.0L180.0 747.7L179.5 745.2L179.8 742.6L178.7 740.1L178.4 737.6L177.9 735.1ZM173.6 733.7L172.9 736.2L171.0 737.8L169.3 739.6L167.3 741.3L165.4 742.9L170.0 746.1L170.5 743.4L172.4 741.8L174.0 739.9L174.6 737.4L175.7 735.1ZM173.7 733.1L171.2 733.8L169.0 734.9L166.3 735.4L164.2 736.8L161.8 737.6L164.4 742.2L166.5 740.7L168.3 738.9L170.9 738.2L172.8 736.6L174.9 735.1ZM173.5 731.5L170.4 730.8L167.2 730.4L164.2 731.3L161.0 729.9L157.9 730.2L158.1 735.9L161.2 734.7L164.3 734.6L167.4 734.4L170.5 734.1L173.6 733.4ZM174.6 729.5L172.5 727.2L169.7 726.0L168.3 722.8L165.1 722.2L162.9 720.1L160.1 724.1L162.5 725.8L166.0 726.1L167.9 728.7L171.0 729.4L173.3 731.4ZM177.0 728.6L176.6 725.5L175.7 722.6L175.1 719.6L173.8 716.8L173.4 713.7L168.7 715.2L170.0 718.0L170.8 720.9L172.0 723.8L173.8 726.4L174.9 729.3ZM178.2 729.0L178.2 726.0L179.1 723.1L180.3 720.3L181.0 717.4L180.8 714.4L175.8 713.9L176.1 716.9L176.9 719.9L175.1 722.7L176.0 725.8L176.6 728.8ZM179.4 730.3L182.5 729.3L184.7 727.0L188.0 726.1L189.9 723.6L193.1 722.5L189.8 718.4L186.9 719.9L185.6 723.2L183.0 724.8L180.5 726.8L178.1 728.7ZM179.9 732.5L183.1 733.1L186.2 732.4L189.4 733.0L192.5 732.2L195.7 733.1L195.1 727.6L192.1 728.5L188.9 728.5L185.9 729.2L182.8 729.8L179.7 730.7Z" stroke="#fff" stroke-width="0.6" stroke-linejoin="round"/><circle cx="192.5" cy="737.4" r="3.0"/><circle cx="186.9" cy="746.8" r="2.5"/><circle cx="177.8" cy="747.9" r="2.1"/><circle cx="167.6" cy="744.4" r="2.8"/><circle cx="163.3" cy="740.2" r="2.6"/><circle cx="158.0" cy="732.7" r="2.9"/><circle cx="161.7" cy="721.8" r="2.4"/><circle cx="171.2" cy="714.4" r="2.5"/><circle cx="178.1" cy="714.1" r="2.5"/><circle cx="191.1" cy="720.1" r="2.6"/><circle cx="195.4" cy="730.5" r="2.8"/><circle cx="176.7" cy="732" r="4.6"/></g><circle cx="223" cy="740" r="19" fill="url(#bsph)"/><g fill="#fff"><path d="M225.6 741.5L228.2 742.1L230.7 743.3L233.4 743.5L235.9 745.1L238.5 745.4L239.4 741.2L236.6 741.3L234.0 740.5L231.3 740.4L228.6 740.1L226.0 739.4ZM223.4 743.2L224.6 745.6L226.6 747.4L227.6 749.8L229.2 751.8L230.0 754.5L233.3 752.0L232.5 749.4L230.2 747.9L228.8 745.7L227.0 743.8L225.1 742.0ZM221.6 742.8L222.5 745.4L222.4 747.9L221.5 750.4L221.7 752.9L220.1 755.4L224.9 755.5L225.7 753.0L224.8 750.4L225.3 747.9L224.9 745.4L223.4 742.9ZM220.5 741.7L218.2 742.9L216.9 745.1L214.6 746.5L212.3 747.8L212.0 750.8L214.9 753.3L216.2 751.2L217.9 749.3L219.6 747.4L219.9 744.4L221.7 742.6ZM220.0 739.1L217.8 739.4L215.5 739.6L213.3 739.9L210.9 739.3L208.7 739.3L209.1 742.8L211.5 743.8L213.7 743.1L215.9 742.5L218.1 742.4L220.2 740.7ZM220.8 737.8L218.5 736.4L216.0 735.9L213.5 735.1L211.6 732.9L209.0 732.4L207.6 736.2L209.8 737.6L212.4 738.0L215.0 738.3L217.4 739.4L220.0 739.9ZM222.6 737.1L222.3 734.8L222.1 732.4L221.6 730.1L221.6 727.7L220.6 725.5L216.6 726.8L217.9 728.8L218.4 731.1L219.4 733.2L220.4 735.4L220.9 737.7ZM224.7 737.5L226.0 735.6L226.4 733.4L227.6 731.4L229.3 729.6L228.6 727.1L224.0 725.7L224.6 728.2L223.6 730.2L223.6 732.5L223.2 734.8L222.8 737.0ZM225.9 739.2L228.3 737.7L230.9 736.5L233.1 734.8L236.1 734.1L238.6 732.8L235.9 728.8L233.9 730.9L231.4 732.2L228.9 733.5L226.9 735.6L224.8 737.6Z" stroke="#fff" stroke-width="0.6" stroke-linejoin="round"/><circle cx="239.0" cy="743.3" r="2.1"/><circle cx="232.0" cy="752.9" r="2.1"/><circle cx="222.4" cy="755.4" r="2.4"/><circle cx="213.4" cy="752.1" r="1.9"/><circle cx="208.9" cy="741.2" r="1.8"/><circle cx="208.4" cy="734.0" r="2.1"/><circle cx="218.7" cy="726.1" r="2.1"/><circle cx="226.6" cy="726.4" r="2.4"/><circle cx="237.1" cy="730.5" r="2.4"/><circle cx="223" cy="740" r="4.2"/></g><circle cx="46.5" cy="791" r="22" fill="url(#bsph)"/><g fill="#fff"><path d="M47.1 794.7L48.8 796.7L50.7 798.5L52.0 800.8L52.9 803.4L53.3 806.3L57.5 803.3L56.7 800.6L54.8 798.7L53.3 796.6L50.7 795.2L49.1 793.2ZM45.8 794.4L45.9 797.2L46.1 799.9L46.2 802.7L46.6 805.4L46.9 808.1L51.4 807.4L50.7 804.8L50.7 802.0L48.9 799.5L48.4 796.8L48.2 794.1ZM43.6 793.3L42.9 796.1L41.9 798.7L39.6 800.7L38.1 803.1L36.2 805.3L40.5 807.3L42.7 805.2L43.3 802.4L45.0 800.1L46.0 797.5L45.5 794.2ZM43.2 791.6L39.6 791.5L36.5 792.8L33.6 794.3L30.5 795.3L26.9 795.3L29.3 801.1L32.1 799.3L35.1 798.0L37.9 796.1L40.6 793.9L43.9 793.4ZM43.5 789.5L41.2 787.7L38.6 787.3L36.1 786.4L33.5 785.9L31.3 784.1L30.0 789.3L32.6 789.8L34.9 791.3L37.8 790.4L40.4 790.8L42.9 791.7ZM45.4 787.6L42.8 785.7L41.7 782.5L40.3 779.6L38.3 777.2L35.9 775.1L32.4 778.1L34.7 780.3L36.7 782.7L38.9 784.9L40.8 787.4L43.8 788.9ZM46.6 787.6L47.4 784.5L46.5 781.6L47.4 778.4L46.4 775.6L46.7 772.5L42.0 773.3L42.6 776.2L43.1 779.2L42.8 782.2L44.6 785.0L44.8 787.9ZM49.2 788.8L51.3 786.5L52.3 783.7L55.1 781.8L56.8 779.4L57.0 776.0L53.6 774.0L53.0 777.1L51.2 779.5L50.0 782.3L48.5 784.9L47.4 787.7ZM49.9 790.5L53.1 789.9L56.1 788.6L59.3 787.9L62.4 786.9L64.9 784.8L63.0 780.5L60.4 782.5L57.5 783.9L54.8 785.6L51.9 787.2L48.9 788.3ZM49.4 793.2L52.2 794.3L55.1 794.4L57.9 795.0L60.5 796.7L63.3 797.3L64.2 792.6L61.4 791.9L58.8 790.4L55.7 791.1L52.8 791.1L49.8 791.3Z" stroke="#fff" stroke-width="0.6" stroke-linejoin="round"/><circle cx="55.9" cy="804.4" r="2.6"/><circle cx="49.1" cy="807.8" r="2.3"/><circle cx="38.8" cy="806.5" r="2.4"/><circle cx="28.1" cy="798.3" r="3.1"/><circle cx="30.4" cy="787.5" r="2.7"/><circle cx="34.1" cy="776.7" r="2.3"/><circle cx="43.9" cy="773.0" r="2.3"/><circle cx="55.3" cy="775.0" r="2.0"/><circle cx="64.1" cy="782.9" r="2.4"/><circle cx="63.9" cy="794.6" r="2.4"/><circle cx="46.5" cy="791" r="4.8"/></g><circle cx="88.4" cy="809.6" r="22" fill="url(#bsph)"/><g fill="#fff"><path d="M88.9 812.9L88.6 815.8L89.4 818.5L90.4 821.0L91.2 823.6L90.7 826.6L95.6 825.1L94.9 822.4L94.5 819.7L92.9 817.4L91.5 814.9L91.0 812.3ZM86.8 812.5L84.6 814.8L84.3 817.6L83.5 820.3L81.1 822.5L81.2 825.5L85.6 826.9L85.7 823.9L87.4 821.5L87.3 818.6L87.6 815.7L89.0 813.2ZM84.8 809.9L82.7 811.9L79.9 812.6L77.4 813.9L75.0 815.4L72.3 816.3L74.9 820.9L77.1 819.1L79.1 816.9L81.5 815.5L83.8 813.8L85.9 811.9ZM85.2 808.6L82.2 807.7L79.2 807.0L76.2 807.0L73.3 805.5L70.3 805.2L69.8 810.9L72.8 810.9L75.9 810.0L79.0 810.0L81.9 811.0L85.0 810.5ZM86.2 807.1L84.5 805.0L83.1 802.7L80.3 802.0L79.2 799.3L77.1 797.7L73.7 802.5L76.6 802.8L77.9 805.3L81.2 805.2L82.6 807.6L85.1 808.5ZM88.2 806.2L87.6 803.5L86.6 801.0L85.9 798.3L85.8 795.5L85.2 792.8L80.8 794.4L82.3 796.7L82.5 799.5L83.1 802.2L85.0 804.4L86.1 806.9ZM90.9 806.8L91.9 804.1L92.8 801.2L92.6 798.1L94.2 795.5L94.4 792.5L89.5 791.3L90.7 794.6L89.3 797.3L89.0 800.3L89.2 803.4L88.8 806.3ZM91.5 808.2L94.0 807.2L95.8 805.3L98.3 804.3L100.2 802.5L102.9 801.8L99.4 797.4L97.5 799.1L95.9 801.2L93.8 802.8L92.1 804.9L90.3 806.7ZM91.7 810.2L94.3 810.6L97.0 811.6L99.6 811.4L102.1 810.9L104.7 811.9L104.4 806.3L101.9 806.4L99.3 807.1L96.8 808.2L94.2 807.5L91.6 808.0ZM90.4 812.5L92.5 814.5L94.8 816.2L96.6 818.7L99.0 820.4L101.2 822.3L104.4 817.8L101.7 816.6L99.5 814.7L96.6 813.7L93.9 812.6L91.6 810.8Z" stroke="#fff" stroke-width="0.6" stroke-linejoin="round"/><circle cx="93.6" cy="825.7" r="2.5"/><circle cx="83.1" cy="826.1" r="2.3"/><circle cx="73.5" cy="818.5" r="2.6"/><circle cx="70.0" cy="808.4" r="2.9"/><circle cx="75.7" cy="799.8" r="2.9"/><circle cx="83.2" cy="793.5" r="2.4"/><circle cx="92.3" cy="792.0" r="2.5"/><circle cx="101.4" cy="799.9" r="2.8"/><circle cx="104.6" cy="809.1" r="2.8"/><circle cx="103.0" cy="819.7" r="2.8"/><circle cx="88.4" cy="809.6" r="4.8"/></g><circle cx="125.6" cy="778.6" r="23" fill="url(#bsph)"/><g fill="#fff"><path d="M122.2 780.4L120.6 782.6L119.8 785.3L118.0 787.3L116.1 789.2L113.2 790.4L118.2 793.9L120.2 792.0L120.6 789.1L122.9 787.4L123.3 784.5L123.9 781.6ZM121.9 778.8L118.6 779.9L115.7 781.6L112.4 782.5L108.9 783.1L105.9 784.7L108.4 789.8L111.5 788.5L114.6 787.0L117.2 784.8L119.9 782.6L122.7 780.6ZM122.7 776.5L119.6 775.5L116.8 773.6L113.9 771.9L110.7 771.5L107.8 769.8L106.1 775.2L109.2 776.0L112.6 776.1L115.7 777.0L118.8 778.0L122.1 778.3ZM124.1 775.3L122.1 773.1L120.9 770.2L118.9 768.0L117.5 765.3L115.8 762.8L111.3 766.8L113.9 768.4L115.4 771.0L118.9 772.0L120.2 774.8L122.5 776.8ZM125.8 774.9L125.1 771.7L123.9 768.5L123.8 765.1L121.9 762.1L122.8 758.4L117.5 760.0L118.5 763.2L120.5 766.1L120.6 769.5L122.3 772.5L123.5 775.6ZM127.5 775.7L129.2 772.9L131.4 770.4L133.4 767.7L134.5 764.7L135.6 761.7L131.1 759.9L129.8 762.8L129.1 766.0L128.3 769.0L126.4 771.7L125.4 774.8ZM128.7 776.9L130.9 775.4L134.0 774.9L135.7 772.6L138.5 771.8L140.6 770.1L137.0 765.7L135.4 768.0L133.4 769.8L131.4 771.6L129.1 773.1L127.6 775.6ZM129.0 780.3L131.9 780.8L134.7 780.0L137.6 780.3L140.4 781.5L143.3 781.9L143.4 775.7L140.6 775.6L137.7 775.9L134.8 776.8L131.9 777.2L129.1 777.7ZM128.3 780.8L130.5 783.2L132.9 785.4L135.6 786.8L138.0 788.9L140.7 790.4L143.7 785.1L140.3 784.8L137.9 782.8L134.8 781.9L132.0 780.5L129.4 778.9ZM126.8 781.9L126.8 785.2L128.5 787.6L130.1 790.0L130.9 792.9L132.5 795.3L137.0 792.8L135.4 790.3L133.7 788.0L132.0 785.6L129.9 783.5L128.3 781.0ZM124.3 781.9L123.9 785.2L123.3 788.5L123.0 791.8L122.2 795.1L121.3 798.3L126.4 798.7L127.8 795.5L126.6 792.1L126.3 788.8L127.2 785.5L126.9 782.2Z" stroke="#fff" stroke-width="0.6" stroke-linejoin="round"/><circle cx="115.7" cy="792.2" r="3.0"/><circle cx="107.3" cy="787.4" r="2.9"/><circle cx="107.0" cy="772.3" r="2.9"/><circle cx="113.4" cy="764.9" r="3.0"/><circle cx="119.6" cy="759.3" r="2.8"/><circle cx="133.1" cy="760.7" r="2.4"/><circle cx="139.1" cy="768.3" r="2.8"/><circle cx="143.4" cy="778.7" r="3.1"/><circle cx="142.4" cy="787.5" r="3.1"/><circle cx="134.4" cy="794.3" r="2.6"/><circle cx="124.0" cy="798.5" r="2.6"/><circle cx="125.6" cy="778.6" r="5.1"/></g><circle cx="175" cy="775.5" r="22" fill="url(#bsph)"/><g fill="#fff"><path d="M178.1 773.8L180.3 771.5L183.1 769.7L185.1 767.3L187.4 765.1L189.3 762.6L185.2 759.1L183.5 761.8L181.5 764.3L180.3 767.3L178.2 769.7L176.1 772.1ZM178.4 775.5L181.1 776.2L183.6 775.8L186.1 775.3L188.7 775.2L191.0 773.9L189.8 769.0L187.5 770.1L185.2 771.4L182.9 772.6L180.5 773.5L177.9 773.2ZM177.8 777.4L180.0 779.7L182.4 781.7L185.3 782.4L188.1 783.5L190.5 785.4L192.2 781.7L190.0 779.4L187.5 777.8L183.9 778.3L181.3 776.9L178.7 775.4ZM175.2 779.1L176.5 782.0L177.0 785.3L178.9 787.9L179.0 791.4L180.3 794.3L185.9 791.7L183.9 789.1L182.6 786.2L180.6 783.6L179.0 780.8L177.3 778.1ZM173.5 778.5L171.9 781.5L171.6 784.8L170.5 787.9L169.6 791.0L167.8 793.9L173.6 795.3L173.4 791.9L174.8 788.9L175.0 785.6L174.5 782.1L175.2 778.9ZM171.4 776.1L168.4 777.5L165.7 779.4L163.5 781.8L160.1 782.6L157.4 784.5L161.2 789.6L163.1 786.8L165.6 784.7L167.9 782.3L170.1 779.8L172.6 777.8ZM171.8 773.6L169.0 773.9L166.2 773.4L163.4 773.2L160.7 772.0L157.9 771.9L157.4 777.8L160.3 777.0L163.1 776.6L166.0 776.7L168.8 776.6L171.7 775.5ZM174.0 772.1L172.2 770.3L171.7 767.6L169.8 765.8L167.7 764.3L166.4 762.1L162.9 764.9L164.4 766.9L166.9 768.1L169.0 769.6L170.3 771.8L172.1 773.6ZM175.3 772.1L175.5 769.5L175.7 767.0L174.6 764.6L175.1 762.0L175.7 759.3L170.4 760.1L171.6 762.5L170.8 765.2L172.5 767.5L172.2 770.0L173.7 772.4Z" stroke="#fff" stroke-width="0.6" stroke-linejoin="round"/><circle cx="187.2" cy="760.8" r="2.6"/><circle cx="190.4" cy="771.5" r="2.5"/><circle cx="191.3" cy="783.7" r="2.0"/><circle cx="182.8" cy="793.1" r="3.1"/><circle cx="170.5" cy="794.6" r="3.0"/><circle cx="159.3" cy="787.0" r="3.2"/><circle cx="157.7" cy="774.6" r="3.0"/><circle cx="164.9" cy="763.3" r="2.2"/><circle cx="172.9" cy="759.7" r="2.7"/><circle cx="175" cy="775.5" r="4.8"/></g><circle cx="217" cy="774" r="20" fill="url(#bsph)"/><g fill="#fff"><path d="M217.0 777.1L217.3 779.8L217.8 782.5L217.7 785.3L218.0 788.0L217.8 790.8L223.1 789.7L221.7 787.2L221.3 784.5L220.5 781.9L219.9 779.2L218.8 776.7ZM214.7 776.4L214.3 779.1L212.9 781.5L211.7 784.0L211.1 786.7L208.8 788.7L212.6 790.1L214.8 788.0L215.5 785.3L215.2 782.3L216.7 780.0L216.5 777.0ZM214.2 775.4L212.3 777.5L209.7 778.9L207.5 780.7L205.2 782.3L203.0 784.1L206.9 788.0L208.6 785.7L209.7 782.8L211.8 781.0L214.4 779.6L215.8 777.0ZM213.7 773.1L210.9 774.1L208.0 775.2L204.9 774.9L202.0 775.9L199.0 776.2L199.9 779.9L203.2 780.5L205.8 778.5L208.8 778.2L211.5 776.6L214.1 774.9ZM214.4 772.4L211.5 771.5L208.9 769.8L206.3 768.0L203.6 766.7L201.0 765.3L199.4 770.0L202.0 771.5L205.3 771.3L208.0 772.7L210.9 773.4L213.6 774.8ZM216.4 770.8L215.6 768.3L213.8 766.4L213.2 763.7L210.9 762.1L210.6 759.2L206.2 762.0L207.3 764.4L209.6 766.0L210.9 768.2L213.6 769.6L214.7 771.9ZM217.4 771.0L218.7 768.6L219.0 766.1L218.6 763.7L219.2 761.3L218.4 758.8L214.3 758.8L214.9 761.2L215.0 763.7L215.3 766.1L216.3 768.6L215.6 771.0ZM219.2 771.8L220.1 769.5L221.2 767.4L223.4 765.8L224.5 763.6L226.5 761.9L222.1 759.7L220.6 761.6L220.2 764.1L218.7 766.1L217.5 768.2L217.5 770.9ZM220.4 774.2L222.9 772.5L225.7 771.3L228.7 770.7L231.5 769.7L234.2 768.4L231.8 763.5L229.6 765.7L226.9 767.1L224.3 768.5L221.7 770.0L219.4 772.1ZM219.8 775.9L222.2 775.8L224.6 775.8L226.9 776.6L229.2 777.6L231.5 778.1L232.2 772.7L229.7 773.7L227.2 773.8L225.0 772.9L222.5 773.3L220.1 773.7ZM219.1 776.3L221.0 778.0L223.0 779.6L224.8 781.6L226.8 783.3L228.4 785.5L230.7 782.4L229.2 780.1L227.3 778.2L224.8 777.3L222.5 776.0L220.4 774.4Z" stroke="#fff" stroke-width="0.6" stroke-linejoin="round"/><circle cx="220.6" cy="790.2" r="2.7"/><circle cx="210.9" cy="789.5" r="2.1"/><circle cx="204.8" cy="785.9" r="2.7"/><circle cx="199.5" cy="778.2" r="1.9"/><circle cx="200.0" cy="768.1" r="2.5"/><circle cx="208.4" cy="760.6" r="2.6"/><circle cx="216.6" cy="758.8" r="2.1"/><circle cx="224.1" cy="760.7" r="2.5"/><circle cx="233.0" cy="766.0" r="2.7"/><circle cx="231.8" cy="775.6" r="2.7"/><circle cx="229.6" cy="783.9" r="1.9"/><circle cx="217" cy="774" r="4.4"/></g><circle cx="156.6" cy="815.8" r="19" fill="url(#bsph)"/><g fill="#fff"><path d="M159.6 815.2L161.6 814.0L163.3 812.3L165.8 812.0L167.7 810.6L169.5 809.2L166.9 805.1L165.8 807.6L164.1 809.4L162.0 810.3L160.3 811.9L158.6 813.6ZM159.2 817.9L161.8 817.9L164.4 818.3L167.0 819.2L169.7 819.0L172.1 820.9L172.7 816.5L170.2 815.4L167.5 815.2L164.8 815.6L162.1 815.8L159.5 815.7ZM158.7 817.8L160.4 820.1L162.6 821.6L164.7 823.2L167.4 823.9L169.2 826.0L171.2 822.9L169.1 821.3L166.4 820.5L163.9 819.5L161.8 817.9L159.6 816.4ZM157.0 818.7L157.5 821.5L158.4 824.1L158.7 827.0L159.5 829.7L160.1 832.4L164.9 830.8L163.5 828.3L162.0 825.8L160.9 823.2L159.5 820.8L159.0 818.0ZM154.4 818.0L153.3 820.3L151.9 822.5L151.1 824.9L151.0 827.6L149.7 829.8L153.6 831.3L154.0 828.7L154.4 826.2L155.1 823.7L155.8 821.3L155.9 818.6ZM153.6 816.5L151.9 818.4L149.3 818.9L147.5 820.6L145.5 821.9L142.7 822.1L145.8 826.5L147.7 824.9L150.0 823.9L151.2 821.5L153.3 820.2L154.6 817.9ZM153.7 814.7L151.2 815.2L148.6 814.4L146.1 815.1L143.6 815.2L141.0 814.6L141.2 818.9L143.7 818.3L146.3 818.8L148.7 817.6L151.3 817.4L153.8 816.7ZM155.2 813.2L153.9 810.8L152.2 808.8L150.3 807.0L148.7 804.9L146.5 803.5L143.5 806.5L145.3 808.4L147.4 809.9L150.0 811.0L152.1 812.6L153.8 814.6ZM156.8 812.8L155.7 810.6L156.4 807.8L155.5 805.6L154.8 803.3L154.1 801.0L150.3 802.2L151.4 804.4L151.7 806.8L153.6 808.7L153.1 811.4L154.9 813.3ZM157.9 813.3L159.1 811.4L160.9 809.7L161.2 807.4L162.9 805.8L163.8 803.7L160.5 802.4L158.7 804.1L158.0 806.2L158.3 808.7L157.3 810.6L156.3 812.6Z" stroke="#fff" stroke-width="0.6" stroke-linejoin="round"/><circle cx="168.5" cy="807.5" r="2.4"/><circle cx="172.5" cy="818.1" r="2.2"/><circle cx="170.3" cy="824.4" r="1.8"/><circle cx="162.7" cy="831.5" r="2.5"/><circle cx="151.4" cy="830.5" r="2.1"/><circle cx="144.3" cy="824.4" r="2.7"/><circle cx="141.1" cy="816.7" r="2.2"/><circle cx="145.1" cy="804.9" r="2.1"/><circle cx="152.0" cy="801.7" r="2.0"/><circle cx="162.0" cy="803.0" r="1.8"/><circle cx="156.6" cy="815.8" r="4.2"/></g><circle cx="197" cy="812.7" r="20" fill="url(#bsph)"/><g fill="#fff"><path d="M200.3 813.1L202.5 811.5L205.5 811.9L208.0 811.2L210.5 810.4L213.2 809.9L211.4 804.9L209.3 806.9L206.9 807.9L204.5 808.9L201.7 808.9L199.6 811.1ZM199.5 814.4L201.9 815.7L203.9 817.8L206.8 817.9L208.9 819.9L211.3 821.3L213.3 816.2L210.4 816.2L208.0 815.0L205.1 815.1L202.9 813.3L200.3 812.5ZM198.2 815.6L199.6 817.9L201.2 820.0L202.4 822.4L204.2 824.3L205.0 827.1L209.4 823.5L207.7 821.5L205.5 819.8L203.7 817.9L201.7 816.1L199.5 814.5ZM196.5 815.7L196.4 818.4L195.5 821.1L195.2 823.8L194.8 826.5L194.8 829.2L199.9 829.1L198.6 826.4L199.4 823.7L198.9 821.0L199.0 818.3L198.7 815.7ZM194.8 815.0L192.9 816.9L192.3 819.3L191.3 821.6L189.5 823.5L187.9 825.5L192.9 827.9L193.0 825.2L193.9 822.9L195.1 820.7L195.2 817.9L196.5 815.8ZM194.2 813.8L192.0 814.8L189.8 815.6L187.7 816.6L184.9 816.5L183.5 818.7L186.1 822.6L187.8 821.0L189.9 820.0L191.6 818.4L193.1 816.5L195.3 815.7ZM194.0 811.6L191.5 810.9L189.0 811.4L186.6 811.6L184.1 811.5L181.6 811.1L181.7 814.9L184.2 815.5L186.6 815.2L189.1 814.3L191.5 814.0L194.0 813.2ZM194.9 810.4L193.2 808.2L190.5 807.9L189.2 805.2L187.2 803.6L185.0 802.3L182.3 806.9L184.8 807.6L187.2 808.4L189.2 810.0L191.8 810.6L194.0 811.9ZM196.6 809.6L195.8 807.0L195.1 804.4L194.4 801.8L194.0 799.0L193.9 796.1L189.2 798.0L190.0 800.6L191.7 802.9L191.7 805.8L193.1 808.1L194.9 810.3ZM198.7 809.9L199.7 807.6L200.2 805.3L200.3 802.8L201.0 800.5L201.4 798.1L197.0 797.5L197.2 799.9L197.2 802.4L197.2 804.8L196.7 807.2L196.8 809.6ZM200.3 811.9L202.2 810.2L203.7 808.1L205.9 806.8L208.8 806.2L210.3 804.1L206.7 800.1L205.3 802.3L203.4 804.0L201.6 805.8L200.7 808.6L198.8 810.2Z" stroke="#fff" stroke-width="0.6" stroke-linejoin="round"/><circle cx="212.3" cy="807.5" r="2.7"/><circle cx="212.4" cy="818.5" r="2.8"/><circle cx="207.3" cy="825.2" r="2.8"/><circle cx="197.1" cy="829.2" r="2.5"/><circle cx="190.6" cy="826.8" r="2.8"/><circle cx="184.8" cy="820.7" r="2.4"/><circle cx="181.6" cy="812.9" r="1.9"/><circle cx="183.8" cy="804.3" r="2.7"/><circle cx="191.3" cy="797.2" r="2.6"/><circle cx="199.7" cy="797.9" r="2.2"/><circle cx="208.5" cy="802.1" r="2.7"/><circle cx="197" cy="812.7" r="4.4"/></g><circle cx="286.7" cy="597" r="22" fill="url(#bsph)"/><g fill="#fff"><path d="M289.3 594.8L291.7 593.0L293.5 590.8L294.8 588.3L296.6 586.1L299.6 584.7L294.0 580.9L292.7 583.5L291.9 586.3L290.9 589.1L289.0 591.2L287.4 593.5ZM290.1 596.6L293.3 596.2L296.7 596.1L299.5 594.5L302.7 594.1L305.7 593.0L303.8 587.8L301.0 589.5L298.0 590.4L295.3 592.2L292.5 594.0L289.3 594.5ZM289.7 598.4L292.1 600.2L294.7 600.7L297.1 602.1L299.9 601.9L302.2 603.9L303.7 598.0L300.8 598.6L298.1 598.2L295.6 597.1L292.8 597.4L290.1 596.8ZM287.5 600.4L288.7 602.8L290.6 604.6L292.2 606.7L292.3 609.8L293.6 612.1L298.4 608.7L296.5 606.9L294.8 604.9L293.5 602.6L291.4 600.9L289.5 599.1ZM286.2 600.3L285.5 603.3L285.4 606.3L284.7 609.3L285.6 612.2L285.6 615.2L291.2 614.9L290.2 612.0L289.2 609.1L288.3 606.1L288.7 603.2L288.6 600.2ZM283.3 598.6L282.4 601.1L279.9 602.4L278.9 604.8L277.2 606.6L275.5 608.5L278.8 610.9L280.6 609.1L282.7 607.5L283.0 604.6L284.1 602.3L285.3 600.1ZM283.2 596.4L280.0 596.2L277.0 597.4L273.6 596.6L270.6 597.7L267.6 599.1L268.6 604.2L271.5 602.6L274.5 601.4L277.7 601.1L280.5 598.9L283.7 598.8ZM283.9 594.8L280.6 594.6L277.6 593.4L274.7 591.7L271.5 591.2L268.7 589.5L267.4 594.1L270.5 595.1L273.7 595.5L276.7 596.8L279.9 597.4L283.2 597.1ZM285.6 593.8L284.4 591.1L283.5 588.2L281.5 586.0L280.7 583.1L280.7 579.6L276.2 582.3L276.5 585.6L278.4 587.8L279.9 590.4L281.8 592.7L283.7 594.9ZM288.3 593.7L289.1 590.7L288.7 587.6L288.3 584.5L290.2 581.5L289.7 578.5L284.0 578.3L285.6 581.4L284.6 584.5L284.3 587.5L286.1 590.6L285.9 593.7Z" stroke="#fff" stroke-width="0.6" stroke-linejoin="round"/><circle cx="296.8" cy="582.9" r="3.4"/><circle cx="304.8" cy="590.4" r="2.8"/><circle cx="303.0" cy="600.8" r="3.0"/><circle cx="296.0" cy="610.4" r="2.9"/><circle cx="287.9" cy="615.1" r="2.8"/><circle cx="277.1" cy="609.7" r="2.1"/><circle cx="268.0" cy="601.0" r="2.6"/><circle cx="268.1" cy="591.5" r="2.4"/><circle cx="278.0" cy="581.3" r="2.6"/><circle cx="287.3" cy="578.4" r="2.9"/><circle cx="286.7" cy="597" r="4.8"/></g><circle cx="330" cy="603.4" r="22" fill="url(#bsph)"/><g fill="#fff"><path d="M330.3 606.8L330.9 610.0L332.1 612.9L332.7 616.1L334.2 618.9L334.6 622.2L339.1 620.4L337.3 617.7L337.0 614.4L334.6 611.9L332.8 609.3L332.4 606.0ZM328.6 606.7L328.6 609.8L328.5 612.9L328.3 615.9L328.8 619.0L328.0 622.1L333.2 622.0L332.5 618.9L332.7 615.9L332.4 612.8L331.4 609.8L331.0 606.7ZM327.0 605.3L325.0 607.0L323.9 609.3L321.9 610.9L320.4 612.9L318.3 614.5L322.1 617.3L324.1 615.6L325.0 613.1L327.0 611.5L327.5 608.7L328.9 606.7ZM326.4 603.3L323.7 603.6L321.3 604.6L319.1 606.0L316.3 606.0L313.6 606.4L315.6 611.3L318.4 611.3L320.9 610.4L322.7 608.1L324.8 606.3L327.4 605.9ZM326.9 602.0L324.2 600.7L321.3 600.1L318.6 598.7L315.9 597.4L313.0 596.8L311.8 601.8L314.6 603.0L317.6 603.2L320.6 603.3L323.6 603.4L326.4 604.4ZM328.4 600.4L326.4 598.7L325.2 596.1L324.2 593.4L321.7 592.1L321.4 588.8L316.6 593.2L318.0 595.6L321.1 596.4L322.8 598.4L324.5 600.4L327.1 601.6ZM330.0 600.1L330.2 596.7L330.4 593.4L329.1 590.3L329.4 587.0L329.4 583.7L324.0 584.7L325.6 587.7L325.3 591.0L326.9 594.0L327.3 597.2L328.0 600.4ZM332.7 601.1L334.6 599.2L335.5 596.8L336.5 594.5L338.8 592.9L339.3 590.3L335.2 588.2L334.7 590.8L333.4 592.9L332.0 595.1L332.0 597.9L330.4 599.9ZM333.5 602.5L335.9 601.1L338.2 599.6L341.0 598.7L342.5 596.2L345.2 595.1L341.5 590.4L340.1 593.0L338.3 595.2L335.6 596.3L333.7 598.2L332.3 601.0ZM333.4 604.0L336.4 604.2L339.4 604.3L342.4 605.5L345.4 604.9L348.4 605.4L347.9 599.3L344.9 599.2L342.0 600.6L339.1 601.7L336.2 602.0L333.2 601.9ZM332.1 606.3L334.8 607.7L337.5 609.0L339.5 611.5L341.5 614.1L343.8 616.0L346.6 611.3L344.4 609.2L341.3 608.5L339.4 605.8L336.4 604.9L333.3 604.3Z" stroke="#fff" stroke-width="0.6" stroke-linejoin="round"/><circle cx="336.5" cy="621.4" r="2.4"/><circle cx="330.5" cy="622.0" r="2.6"/><circle cx="320.3" cy="615.9" r="2.3"/><circle cx="314.7" cy="609.0" r="2.6"/><circle cx="312.5" cy="599.1" r="2.6"/><circle cx="319.0" cy="591.0" r="3.3"/><circle cx="326.7" cy="584.2" r="2.8"/><circle cx="337.5" cy="589.3" r="2.3"/><circle cx="343.3" cy="592.7" r="3.0"/><circle cx="348.1" cy="602.0" r="3.0"/><circle cx="345.4" cy="613.2" r="2.8"/><circle cx="330" cy="603.4" r="4.8"/></g><circle cx="381" cy="597" r="23" fill="url(#bsph)"/><g fill="#fff"><path d="M378.0 598.8L374.7 600.1L372.8 602.9L369.6 604.3L367.6 607.0L364.3 608.3L367.9 612.2L370.8 610.5L372.3 607.3L375.0 605.4L376.7 602.3L379.6 600.6ZM377.5 596.5L374.1 596.0L370.8 596.3L367.4 596.3L364.0 595.6L360.7 596.1L361.2 601.6L364.5 600.9L367.7 599.8L371.1 600.0L374.4 599.3L377.7 598.5ZM379.2 593.9L376.9 591.5L374.5 589.3L372.9 586.2L370.7 583.8L368.4 581.4L364.3 585.8L367.2 587.6L369.9 589.5L372.1 591.9L375.0 593.6L377.8 595.4ZM382.3 593.3L382.0 590.3L381.1 587.3L382.3 584.0L380.7 581.1L381.6 577.9L376.5 578.6L376.4 581.7L377.5 584.7L377.9 587.7L378.8 590.7L379.7 593.7ZM384.2 594.7L384.6 591.4L387.1 589.1L387.7 586.0L390.2 583.7L391.4 580.8L386.9 578.7L386.0 581.8L384.1 584.3L383.1 587.3L381.8 590.1L381.7 593.5ZM384.5 596.5L387.6 596.6L390.0 594.9L393.0 594.7L395.7 593.7L399.0 594.3L397.0 588.8L394.2 589.5L391.6 590.8L388.8 591.5L386.6 593.9L383.7 594.4ZM383.8 599.1L386.5 600.6L389.0 602.6L391.7 604.1L393.8 606.8L396.1 609.0L399.1 603.1L395.7 602.9L393.2 601.1L390.5 599.6L387.9 597.8L384.6 597.4ZM381.5 600.8L382.8 603.3L385.0 605.2L385.8 608.1L387.5 610.3L387.3 613.8L392.9 610.2L391.0 608.0L389.3 605.8L388.1 603.2L385.3 601.7L383.5 599.5ZM378.7 600.2L378.0 603.3L378.7 606.7L376.7 609.7L376.7 613.0L376.1 616.1L382.0 616.9L381.2 613.6L381.3 610.3L381.8 607.1L381.0 603.7L380.9 600.5Z" stroke="#fff" stroke-width="0.6" stroke-linejoin="round"/><circle cx="366.5" cy="610.7" r="2.7"/><circle cx="361.0" cy="599.1" r="2.8"/><circle cx="366.4" cy="583.5" r="3.0"/><circle cx="378.9" cy="578.3" r="2.6"/><circle cx="389.3" cy="579.8" r="2.5"/><circle cx="397.8" cy="591.0" r="2.9"/><circle cx="397.7" cy="605.8" r="3.3"/><circle cx="390.2" cy="611.9" r="3.3"/><circle cx="378.5" cy="616.5" r="3.0"/><circle cx="381" cy="597" r="5.1"/></g><circle cx="429" cy="611" r="24" fill="url(#bsph)"/><g fill="#fff"><path d="M427.4 607.7L426.9 604.6L425.4 602.1L424.1 599.5L423.1 596.6L421.6 594.2L416.9 597.4L419.2 599.3L420.9 601.7L422.0 604.5L424.2 606.4L425.5 609.1ZM431.2 607.8L432.6 604.8L432.9 601.5L434.2 598.4L436.0 595.5L436.0 592.1L431.5 591.0L431.0 594.2L429.8 597.3L429.0 600.5L429.3 604.0L429.1 607.3ZM432.5 609.6L435.3 608.1L437.8 606.2L440.9 605.2L442.9 602.7L445.5 600.9L442.5 597.2L440.1 599.2L437.7 601.1L435.3 603.1L433.7 606.1L431.1 607.9ZM432.6 612.6L436.1 612.8L439.7 612.9L443.2 612.7L446.8 613.0L450.3 613.6L450.4 609.1L446.9 608.2L443.3 608.4L439.7 609.9L436.2 610.1L432.6 610.1ZM430.9 614.2L433.0 616.1L434.2 618.9L436.4 620.6L438.7 622.1L440.9 623.8L443.9 620.3L441.4 619.0L439.6 616.9L437.1 615.5L434.9 613.9L432.6 612.3ZM429.2 614.7L429.7 618.1L429.9 621.7L431.1 624.9L432.0 628.3L431.9 631.9L437.9 630.2L436.2 627.1L435.5 623.7L433.9 620.6L432.5 617.4L431.7 614.0ZM426.8 613.9L424.8 616.9L423.5 620.3L421.0 623.0L418.4 625.7L417.2 629.1L423.8 632.1L424.0 628.3L425.5 625.0L427.1 621.9L427.0 617.9L429.1 615.0ZM425.3 611.5L421.7 611.8L418.0 612.2L414.7 613.4L411.3 614.6L407.7 615.0L409.8 621.0L413.1 619.4L416.2 617.6L419.6 616.5L422.7 614.7L426.1 613.7ZM425.9 608.6L422.5 608.2L419.5 606.6L416.2 605.9L413.0 605.0L409.7 604.3L408.6 608.8L412.1 608.9L415.3 609.6L418.5 610.5L421.8 611.4L425.2 611.2Z" stroke="#fff" stroke-width="0.6" stroke-linejoin="round"/><circle cx="419.1" cy="595.9" r="2.9"/><circle cx="433.8" cy="591.5" r="2.3"/><circle cx="443.8" cy="598.9" r="2.4"/><circle cx="450.4" cy="611.2" r="2.2"/><circle cx="442.3" cy="622.2" r="2.3"/><circle cx="434.3" cy="631.2" r="3.1"/><circle cx="420.5" cy="630.6" r="3.7"/><circle cx="408.8" cy="618.1" r="3.2"/><circle cx="409.1" cy="606.8" r="2.3"/><circle cx="429" cy="611" r="5.3"/></g><circle cx="243" cy="626.7" r="22" fill="url(#bsph)"/><g fill="#fff"><path d="M245.4 629.2L247.6 631.2L249.9 633.1L252.3 634.9L254.6 636.8L257.7 637.4L260.3 633.2L257.4 632.3L254.8 630.8L251.8 630.1L249.1 628.7L246.5 627.4ZM244.2 629.9L245.2 632.6L246.5 635.2L247.6 637.8L248.8 640.5L250.9 642.5L254.1 640.5L252.9 637.9L251.2 635.6L249.4 633.4L248.2 630.7L246.0 628.7ZM241.3 629.9L241.0 632.5L240.1 635.1L240.3 637.7L239.8 640.3L237.6 642.8L243.8 643.3L244.1 640.7L243.7 638.0L243.3 635.3L244.4 632.8L243.2 630.0ZM240.0 628.8L238.3 631.4L236.7 634.0L234.1 636.1L232.9 639.1L231.1 641.7L234.9 644.0L236.4 641.3L237.7 638.3L240.2 636.2L240.2 632.6L241.9 629.9ZM239.4 626.5L236.3 627.4L233.5 628.9L230.3 629.5L227.2 630.3L224.1 631.1L226.5 636.9L229.2 635.3L231.7 632.9L234.7 631.8L237.4 630.0L240.2 628.6ZM239.8 625.6L236.9 625.1L234.1 623.7L231.2 623.5L228.3 623.0L225.3 623.0L224.8 627.1L227.8 626.9L230.8 627.1L233.7 627.1L236.6 628.1L239.5 628.2ZM240.7 624.3L239.2 621.8L237.0 620.3L235.1 618.2L233.3 616.2L230.9 614.9L227.4 619.7L230.6 619.9L233.2 620.8L235.3 622.6L237.6 624.0L239.7 625.7ZM244.1 623.2L243.8 620.0L243.0 616.9L242.4 613.8L242.8 610.5L241.5 607.5L236.8 608.3L237.0 611.5L239.1 614.4L239.5 617.5L241.2 620.4L241.9 623.5ZM244.8 623.9L246.8 621.3L248.4 618.6L249.6 615.6L252.0 613.2L252.7 610.1L248.6 608.3L248.3 611.6L246.1 614.1L244.8 616.9L244.4 620.3L242.7 623.0ZM246.0 625.1L248.1 623.7L250.5 622.5L252.5 620.8L255.6 620.6L257.3 618.5L254.7 615.2L252.3 616.4L250.2 617.9L248.2 619.5L246.7 621.8L245.0 623.8ZM246.5 627.8L249.6 627.9L252.7 627.7L255.9 628.0L259.0 627.7L262.1 626.9L261.4 621.5L258.4 622.4L255.4 624.0L252.3 623.8L249.3 625.1L246.2 625.7Z" stroke="#fff" stroke-width="0.6" stroke-linejoin="round"/><circle cx="258.8" cy="635.8" r="2.5"/><circle cx="252.5" cy="641.6" r="1.9"/><circle cx="241.0" cy="643.1" r="3.1"/><circle cx="233.2" cy="643.0" r="2.2"/><circle cx="225.3" cy="634.0" r="3.1"/><circle cx="225.1" cy="624.9" r="2.1"/><circle cx="229.3" cy="617.1" r="2.9"/><circle cx="239.5" cy="607.8" r="2.4"/><circle cx="250.5" cy="609.1" r="2.2"/><circle cx="255.9" cy="616.7" r="2.1"/><circle cx="261.8" cy="624.9" r="2.7"/><circle cx="243" cy="626.7" r="4.8"/></g><circle cx="286.7" cy="653" r="25" fill="url(#bsph)"/><g fill="#fff"><path d="M289.5 655.7L291.9 657.5L294.7 658.4L296.9 660.5L299.0 662.7L301.7 663.8L304.6 658.3L301.3 658.3L299.1 656.2L296.0 655.9L293.3 654.8L290.6 653.6ZM286.3 657.1L287.2 660.0L288.2 662.9L289.0 665.9L288.4 669.3L290.5 671.8L296.5 669.7L294.3 667.3L292.9 664.5L292.4 661.5L289.9 659.1L288.9 656.2ZM284.5 656.6L284.2 660.1L284.4 663.7L282.9 667.2L282.9 670.8L281.5 674.2L287.6 674.8L288.3 671.3L287.8 667.6L287.8 664.1L287.5 660.4L287.0 656.8ZM283.2 655.2L281.4 658.0L279.5 660.7L277.2 663.2L275.1 665.7L272.1 667.7L277.0 671.0L280.1 669.2L281.0 665.8L282.4 662.6L284.0 659.7L285.8 656.9ZM282.6 652.6L280.0 653.9L277.1 654.3L274.4 655.2L271.3 655.0L268.8 656.7L270.6 662.5L272.9 660.1L275.6 659.0L278.4 658.4L280.8 656.4L283.4 654.9ZM283.4 651.0L280.5 649.4L277.5 648.5L274.6 647.0L271.9 644.8L268.6 644.8L266.9 650.0L270.2 650.2L273.2 651.5L276.3 652.3L279.6 652.5L282.6 653.5ZM284.9 649.4L282.5 647.5L281.3 644.2L279.6 641.5L277.8 638.8L275.2 637.0L271.0 641.3L274.0 642.7L275.9 645.2L278.1 647.5L280.1 649.9L283.2 651.2ZM287.5 649.1L287.6 645.5L287.3 642.0L286.2 638.5L286.6 634.9L287.2 631.2L281.0 632.1L281.3 635.6L282.0 639.1L283.3 642.5L284.2 646.0L285.0 649.4ZM289.5 650.2L291.1 647.6L293.1 645.2L294.3 642.5L296.0 639.9L297.2 637.1L292.2 634.6L291.1 637.5L290.9 640.7L289.5 643.4L288.5 646.3L287.7 649.3ZM290.9 652.9L294.2 651.5L297.7 650.4L300.6 648.3L304.1 647.2L307.6 646.1L304.9 640.8L301.9 642.8L298.3 643.6L295.5 646.1L292.7 648.6L289.7 650.6ZM290.5 653.6L293.7 653.8L296.9 654.6L299.9 654.3L303.0 653.8L306.1 653.9L305.3 647.3L302.4 648.8L299.4 649.9L296.4 650.5L293.3 651.0L290.3 651.2Z" stroke="#fff" stroke-width="0.6" stroke-linejoin="round"/><circle cx="303.0" cy="661.3" r="3.1"/><circle cx="293.3" cy="670.9" r="3.2"/><circle cx="284.1" cy="674.5" r="3.1"/><circle cx="274.9" cy="669.6" r="2.9"/><circle cx="269.5" cy="659.0" r="3.1"/><circle cx="267.8" cy="647.1" r="2.7"/><circle cx="273.1" cy="639.1" r="3.0"/><circle cx="283.8" cy="631.7" r="3.1"/><circle cx="295.1" cy="636.1" r="2.8"/><circle cx="306.0" cy="642.9" r="3.0"/><circle cx="305.6" cy="650.3" r="3.3"/><circle cx="286.7" cy="653" r="5.5"/></g><circle cx="339.4" cy="653" r="25" fill="url(#bsph)"/><g fill="#fff"><path d="M343.0 651.7L345.7 650.4L349.2 650.4L351.7 648.9L353.7 646.6L356.5 645.4L353.1 640.1L351.1 642.5L348.8 644.3L346.8 646.7L344.3 648.2L341.8 649.8ZM343.1 654.4L346.8 655.2L350.5 655.0L354.2 655.8L357.9 656.0L361.6 655.3L361.7 650.7L358.0 651.1L354.3 650.3L350.6 650.8L346.9 652.2L343.2 652.0ZM341.6 656.2L343.9 658.6L345.6 661.6L348.2 663.6L351.1 665.2L353.0 668.1L357.2 663.2L353.8 662.0L351.5 659.7L348.4 658.3L346.4 655.6L343.5 654.0ZM338.5 656.9L339.0 660.3L338.9 663.7L339.6 667.0L339.0 670.5L338.3 674.0L345.4 673.1L344.2 669.8L343.2 666.5L342.5 663.2L342.2 659.8L341.1 656.6ZM337.0 656.1L335.5 658.9L334.0 661.7L333.7 664.9L331.2 667.3L329.4 670.0L334.9 672.0L337.2 669.6L336.9 666.1L338.0 663.2L339.3 660.3L339.4 657.0ZM335.2 653.5L332.7 656.2L329.2 657.3L326.1 659.0L323.0 660.8L319.7 662.2L323.2 667.6L325.7 664.9L328.2 662.2L331.3 660.4L334.1 658.3L336.9 656.0ZM335.7 651.1L332.0 651.4L328.3 650.6L324.5 650.9L320.8 650.2L317.1 649.5L317.0 654.9L320.7 655.6L324.4 654.8L328.2 655.0L331.9 654.0L335.6 653.4ZM337.7 649.4L335.4 647.6L333.7 645.3L331.9 643.1L330.0 640.9L329.4 637.5L324.0 642.8L326.3 644.5L328.8 646.0L331.2 647.7L333.4 649.6L336.3 650.8ZM339.7 649.1L339.4 646.2L339.9 643.0L338.2 640.3L338.7 637.2L338.5 634.2L332.1 635.4L333.7 638.1L333.8 641.1L336.3 643.7L336.6 646.7L337.6 649.5ZM342.3 650.4L344.7 648.3L347.0 646.2L348.2 643.3L350.2 641.0L352.8 639.1L347.2 635.5L345.1 637.8L343.9 640.7L343.4 643.9L342.0 646.6L340.3 649.1Z" stroke="#fff" stroke-width="0.6" stroke-linejoin="round"/><circle cx="355.1" cy="643.3" r="3.2"/><circle cx="361.7" cy="653.0" r="2.3"/><circle cx="354.9" cy="665.8" r="3.3"/><circle cx="341.7" cy="673.6" r="3.6"/><circle cx="332.9" cy="671.3" r="2.9"/><circle cx="321.3" cy="664.7" r="3.2"/><circle cx="317.0" cy="652.1" r="2.7"/><circle cx="326.7" cy="640.1" r="3.8"/><circle cx="335.8" cy="634.7" r="3.3"/><circle cx="349.6" cy="637.1" r="3.3"/><circle cx="339.4" cy="653" r="5.5"/></g><circle cx="393.6" cy="645.3" r="22" fill="url(#bsph)"/><g fill="#fff"><path d="M396.4 647.5L399.1 648.5L401.9 648.9L404.1 651.6L407.1 651.4L409.6 653.0L411.0 648.4L408.6 646.5L405.4 647.1L402.7 646.1L399.8 645.9L397.0 645.3ZM395.2 648.2L396.0 650.8L396.9 653.3L398.7 655.1L399.0 658.0L401.1 659.7L404.6 657.2L403.1 655.1L401.4 653.2L399.7 651.3L398.7 648.8L397.0 646.9ZM393.1 648.6L392.5 651.8L392.2 655.0L392.2 658.2L391.4 661.4L391.9 664.6L397.4 664.4L397.2 661.2L397.1 658.0L395.4 654.9L395.5 651.7L395.0 648.6ZM391.2 647.7L389.2 650.4L387.1 652.9L386.2 656.1L383.7 658.5L382.7 661.6L387.7 664.3L388.6 661.1L389.6 657.9L389.7 654.3L391.0 651.3L393.3 648.9ZM390.1 646.0L387.3 647.4L384.3 648.5L381.8 650.4L379.4 652.6L375.8 652.7L379.1 658.0L382.1 656.7L383.9 653.8L385.9 651.1L389.1 650.2L391.2 647.7ZM390.2 644.3L387.1 644.0L384.1 643.9L381.0 644.0L378.0 644.5L375.0 644.8L375.6 650.7L378.5 649.6L381.5 648.7L384.4 647.9L387.4 646.8L390.4 646.8ZM391.2 643.0L389.7 640.3L387.1 639.2L385.2 637.1L383.6 634.5L381.1 633.1L377.9 637.8L381.0 638.3L383.2 639.9L384.9 642.3L388.1 642.6L389.9 644.8ZM393.7 641.8L393.4 638.7L392.0 635.9L390.8 633.1L390.8 629.9L390.4 626.8L384.7 628.8L387.1 631.2L387.0 634.5L388.5 637.2L390.4 639.7L392.0 642.4ZM395.6 642.3L395.9 639.2L396.2 636.2L397.5 633.2L399.3 630.4L399.6 627.4L393.1 626.3L393.9 629.5L393.0 632.5L392.9 635.6L393.6 638.8L393.6 642.0ZM396.8 643.8L399.1 641.5L401.5 639.2L404.9 637.9L406.7 635.1L409.7 633.4L405.8 629.5L403.2 631.6L401.4 634.5L399.6 637.3L397.6 640.0L395.3 642.3ZM397.2 646.3L400.2 645.8L402.9 644.2L405.9 643.9L408.9 643.2L412.1 643.5L410.9 638.4L407.9 638.9L405.0 639.7L402.2 641.2L399.5 642.9L396.7 643.9Z" stroke="#fff" stroke-width="0.6" stroke-linejoin="round"/><circle cx="410.4" cy="650.1" r="2.4"/><circle cx="403.0" cy="658.3" r="2.1"/><circle cx="394.3" cy="664.5" r="2.8"/><circle cx="385.0" cy="662.8" r="2.8"/><circle cx="377.4" cy="655.3" r="3.1"/><circle cx="375.2" cy="647.3" r="3.0"/><circle cx="379.4" cy="635.6" r="2.8"/><circle cx="387.4" cy="627.9" r="3.0"/><circle cx="396.4" cy="626.8" r="3.3"/><circle cx="407.6" cy="631.3" r="2.7"/><circle cx="411.4" cy="640.7" r="2.6"/><circle cx="393.6" cy="645.3" r="4.8"/></g><circle cx="251" cy="693" r="19" fill="url(#bsph)"/><g fill="#fff"><path d="M251.1 696.0L251.9 698.4L251.9 701.2L252.5 703.7L252.7 706.4L253.4 708.9L257.5 707.6L256.2 705.3L255.5 702.8L254.2 700.4L254.4 697.7L253.1 695.3ZM250.3 695.8L249.5 698.0L249.2 700.3L248.0 702.5L247.9 704.8L248.0 707.1L252.8 707.5L252.5 705.2L251.4 702.8L251.7 700.5L252.4 698.3L251.8 695.9ZM248.0 693.9L246.6 695.9L243.9 696.5L242.4 698.4L240.9 700.3L239.0 701.7L241.5 704.4L243.3 702.9L244.3 700.5L246.3 699.2L248.4 697.9L249.2 695.3ZM248.0 692.6L245.9 693.3L243.4 692.2L241.4 693.7L239.0 693.3L236.5 692.0L237.4 697.5L239.6 696.9L241.8 696.7L243.9 695.0L246.3 695.9L248.4 694.7ZM248.8 690.8L246.7 690.3L244.7 689.3L243.3 687.1L240.6 687.9L239.2 685.6L237.5 689.8L239.3 691.2L241.9 690.5L243.5 692.5L246.0 692.1L248.1 692.6ZM249.6 690.5L248.9 688.0L247.4 686.0L246.0 684.0L244.8 681.8L243.6 679.7L239.2 683.0L241.2 684.6L242.8 686.4L245.2 687.7L247.2 689.3L248.4 691.4ZM251.4 690.1L251.2 687.7L251.9 685.1L251.6 682.7L252.5 680.1L252.5 677.6L248.2 677.8L248.2 680.3L248.5 682.8L248.8 685.2L248.7 687.7L249.7 690.2ZM253.1 690.7L254.1 688.5L255.4 686.4L256.4 684.2L258.3 682.4L258.6 679.9L255.1 678.6L253.6 680.6L253.1 683.0L252.3 685.3L251.8 687.7L251.8 690.3ZM253.9 692.5L256.4 691.2L259.2 690.3L262.1 689.8L264.5 688.3L267.2 687.4L265.4 683.7L262.6 684.5L260.5 686.6L257.8 687.6L255.5 689.2L253.2 691.0ZM253.8 693.8L256.4 694.3L259.0 695.3L261.7 695.0L264.3 695.3L266.9 696.3L267.1 690.8L264.5 690.9L261.8 691.2L259.2 692.1L256.5 691.8L253.9 692.0ZM252.8 695.6L255.0 696.6L256.7 698.3L258.8 699.2L260.6 700.8L262.1 702.9L264.4 698.7L262.5 697.4L260.5 696.1L258.3 695.4L256.2 694.3L253.6 694.1Z" stroke="#fff" stroke-width="0.6" stroke-linejoin="round"/><circle cx="255.3" cy="708.3" r="2.2"/><circle cx="249.9" cy="707.2" r="2.4"/><circle cx="240.4" cy="703.2" r="1.8"/><circle cx="236.9" cy="694.7" r="2.8"/><circle cx="238.2" cy="688.2" r="2.2"/><circle cx="241.4" cy="681.3" r="2.7"/><circle cx="249.9" cy="677.7" r="2.2"/><circle cx="256.7" cy="679.2" r="1.9"/><circle cx="266.3" cy="685.5" r="2.1"/><circle cx="267.0" cy="693.8" r="2.7"/><circle cx="263.5" cy="700.4" r="2.4"/><circle cx="251" cy="693" r="4.2"/></g><circle cx="296" cy="709" r="25" fill="url(#bsph)"/><g fill="#fff"><path d="M294.5 705.3L292.3 703.2L291.2 700.1L288.5 698.4L287.6 695.2L286.1 692.3L280.6 697.4L283.5 698.8L285.6 701.1L288.1 702.8L290.1 705.2L292.4 707.2ZM297.3 704.9L295.5 701.6L295.9 697.9L295.5 694.3L295.4 690.7L294.7 687.2L288.3 688.5L290.4 691.7L291.2 695.2L291.9 698.7L292.7 702.2L294.3 705.5ZM298.8 706.1L300.3 703.6L302.6 701.5L304.0 698.9L304.2 695.9L304.9 693.1L301.0 691.4L299.4 693.8L299.0 696.8L298.7 699.8L297.4 702.4L296.2 705.0ZM300.0 707.9L302.8 706.1L305.0 703.7L308.1 702.2L310.2 699.6L312.7 697.4L309.1 693.1L306.9 695.6L305.7 699.3L302.7 700.9L300.6 703.5L298.2 705.7ZM299.8 709.8L303.5 710.2L307.2 710.7L310.9 710.6L314.6 710.5L318.3 712.1L318.1 705.4L314.4 705.3L310.7 707.0L307.0 706.6L303.4 707.0L299.7 707.6ZM298.9 711.8L302.2 713.5L305.7 714.9L308.9 716.9L311.9 719.4L315.6 720.1L317.6 715.4L314.4 713.4L310.6 712.9L307.2 711.2L303.4 710.6L299.7 709.9ZM297.1 712.8L298.4 715.5L299.8 718.2L301.1 720.9L303.0 723.3L304.3 726.0L309.0 722.8L306.2 721.1L306.0 717.6L303.3 715.8L301.5 713.4L298.8 711.6ZM295.0 712.7L294.1 715.8L293.2 718.8L293.5 721.8L293.4 724.9L291.7 727.9L298.3 728.0L299.2 725.0L298.1 721.9L297.9 718.9L297.2 715.8L297.2 712.8ZM293.5 711.9L291.6 714.3L288.9 716.1L288.4 719.3L284.7 720.7L283.4 723.4L289.4 726.9L289.9 723.6L291.7 721.2L292.7 718.3L294.0 715.6L295.1 712.8ZM292.0 708.6L288.5 709.2L285.2 710.4L282.0 712.1L278.2 711.8L274.5 711.7L276.5 717.9L279.4 715.7L283.3 716.2L286.3 714.1L289.5 712.6L292.8 711.3ZM292.7 707.1L289.8 704.8L286.7 703.2L283.3 702.5L280.0 701.5L276.9 699.9L274.9 705.7L278.6 705.6L281.6 707.5L285.5 706.7L288.8 707.9L292.0 709.0Z" stroke="#fff" stroke-width="0.6" stroke-linejoin="round"/><circle cx="283.5" cy="694.7" r="3.7"/><circle cx="291.9" cy="687.8" r="3.3"/><circle cx="302.9" cy="692.2" r="2.1"/><circle cx="311.3" cy="695.7" r="2.8"/><circle cx="318.2" cy="708.3" r="3.3"/><circle cx="316.8" cy="717.4" r="2.5"/><circle cx="306.7" cy="724.4" r="2.8"/><circle cx="295.6" cy="728.0" r="3.3"/><circle cx="286.5" cy="725.2" r="3.5"/><circle cx="275.6" cy="715.2" r="3.3"/><circle cx="276.0" cy="702.4" r="3.0"/><circle cx="296" cy="709" r="5.5"/></g><circle cx="347" cy="705.7" r="24" fill="url(#bsph)"/><g fill="#fff"><path d="M349.1 702.6L351.2 700.3L351.8 697.6L353.3 695.1L354.8 692.6L356.2 690.1L350.8 688.3L349.5 690.8L348.4 693.4L347.8 696.2L348.3 699.3L347.4 702.0ZM350.3 704.1L354.0 703.2L356.6 700.7L360.0 699.3L363.5 698.0L365.3 694.6L362.6 690.7L359.8 693.0L356.9 695.0L354.6 697.9L351.9 700.2L348.7 701.9ZM350.8 706.8L353.5 705.8L356.5 706.7L359.3 706.3L361.9 705.4L364.9 706.0L363.9 700.0L361.2 701.1L358.4 701.4L355.8 702.8L353.0 702.9L350.4 704.3ZM350.0 707.8L352.6 709.8L355.3 711.7L358.5 712.4L361.2 714.2L363.3 717.3L366.4 710.7L362.8 710.9L359.9 709.4L356.8 708.6L353.9 707.0L350.9 705.8ZM347.2 709.6L348.8 712.2L349.3 715.4L351.0 717.9L352.6 720.5L352.6 723.9L357.6 721.4L356.8 718.4L355.4 715.7L353.3 713.3L351.9 710.7L349.7 708.3ZM345.4 709.2L345.5 712.5L345.3 715.8L343.0 719.0L344.2 722.3L343.0 725.5L348.9 725.8L349.1 722.5L347.7 719.2L348.7 716.0L348.7 712.7L347.5 709.3ZM343.5 707.4L341.1 710.0L338.2 712.1L335.7 714.6L333.3 717.2L330.1 719.1L334.5 723.1L336.6 720.3L339.2 717.9L340.8 714.5L343.1 711.8L345.3 709.1ZM343.2 706.1L340.2 707.0L337.3 708.2L334.2 708.9L330.9 709.3L327.9 710.1L330.2 715.5L333.0 713.9L336.0 713.1L338.6 711.2L341.5 709.8L344.4 708.7ZM344.1 703.0L340.8 702.0L337.5 701.0L334.8 698.4L331.4 697.8L328.5 695.6L326.6 701.4L330.1 701.8L333.3 702.8L336.4 704.4L339.6 705.6L343.3 705.5ZM345.2 702.1L342.2 700.5L340.0 697.9L337.9 695.2L335.1 693.3L332.9 690.7L329.2 695.4L332.0 697.2L334.8 699.1L337.9 700.6L340.5 702.8L343.8 703.9ZM347.1 701.9L346.6 698.5L346.2 695.1L345.5 691.8L345.6 688.2L344.6 684.9L339.5 686.4L339.8 689.8L341.4 692.9L343.0 696.0L343.0 699.5L345.2 702.5Z" stroke="#fff" stroke-width="0.6" stroke-linejoin="round"/><circle cx="352.9" cy="689.0" r="2.8"/><circle cx="364.1" cy="692.9" r="2.4"/><circle cx="364.4" cy="703.4" r="3.0"/><circle cx="364.8" cy="714.1" r="3.6"/><circle cx="355.0" cy="722.7" r="2.8"/><circle cx="345.7" cy="725.7" r="2.9"/><circle cx="332.1" cy="721.0" r="3.0"/><circle cx="329.2" cy="713.1" r="2.9"/><circle cx="327.4" cy="698.9" r="3.0"/><circle cx="330.6" cy="693.6" r="3.0"/><circle cx="341.7" cy="685.8" r="2.6"/><circle cx="347" cy="705.7" r="5.3"/></g><circle cx="404.5" cy="701" r="26" fill="url(#bsph)"/><g fill="#fff"><path d="M408.3 699.5L410.6 697.5L413.6 696.1L415.5 693.6L418.8 692.8L421.4 691.0L417.0 685.7L415.5 688.7L412.6 690.1L410.7 692.6L408.7 695.0L406.8 697.6ZM408.6 701.1L411.8 700.5L415.3 700.6L418.4 699.6L421.6 698.6L424.7 697.5L423.3 692.1L420.2 693.3L417.3 695.1L414.4 697.2L410.9 697.1L407.9 698.7ZM407.8 703.2L410.4 705.1L412.9 707.3L415.6 709.1L418.3 711.0L421.2 712.5L423.9 707.2L420.6 706.4L417.7 705.0L414.9 703.5L412.0 702.1L408.7 701.3ZM405.7 705.0L407.8 708.1L409.8 711.3L411.7 714.6L413.4 718.1L415.1 721.5L420.4 717.7L418.5 714.4L415.3 712.1L413.5 708.7L410.1 706.5L407.6 703.5ZM403.4 704.9L402.2 708.3L402.6 711.7L402.6 715.1L402.3 718.5L401.0 721.9L407.7 721.8L407.1 718.5L407.6 715.1L406.7 711.7L406.4 708.3L405.8 704.9ZM401.5 703.7L399.0 705.9L397.7 709.0L394.4 710.8L393.8 714.3L389.7 715.5L395.6 719.4L397.6 716.8L399.3 714.0L400.4 710.8L402.0 707.9L403.5 705.0ZM400.8 702.4L397.5 703.4L394.6 704.9L391.5 706.2L388.6 707.6L385.3 708.6L388.8 714.1L391.9 713.0L394.4 710.8L396.3 707.6L399.4 706.5L401.9 704.2ZM400.6 699.8L397.1 698.9L393.7 699.6L390.2 698.7L386.7 699.2L383.2 697.5L383.4 705.4L386.9 705.3L390.3 703.3L393.7 702.9L397.2 702.5L400.6 702.7ZM402.0 697.6L399.6 694.9L396.2 693.5L393.6 691.1L391.0 688.6L387.7 687.1L384.3 692.3L387.2 694.2L390.7 695.4L393.8 697.2L397.8 697.6L400.9 699.4ZM404.3 696.8L403.4 693.8L402.5 690.8L401.8 687.7L399.4 685.4L399.0 682.2L393.1 684.8L394.8 687.5L397.0 689.9L398.9 692.4L400.1 695.3L401.6 698.0ZM406.6 697.5L407.9 693.8L409.5 690.2L410.4 686.5L411.7 682.8L412.6 679.1L407.2 677.9L405.8 681.5L405.6 685.4L405.8 689.4L404.5 693.1L404.1 696.9Z" stroke="#fff" stroke-width="0.6" stroke-linejoin="round"/><circle cx="419.2" cy="688.4" r="3.5"/><circle cx="424.2" cy="695.3" r="2.8"/><circle cx="422.3" cy="710.3" r="3.0"/><circle cx="418.1" cy="719.3" r="3.2"/><circle cx="404.8" cy="721.9" r="3.4"/><circle cx="392.8" cy="717.6" r="3.5"/><circle cx="387.4" cy="711.9" r="3.3"/><circle cx="383.3" cy="701.5" r="4.0"/><circle cx="386.4" cy="689.0" r="3.1"/><circle cx="396.4" cy="683.3" r="3.2"/><circle cx="409.4" cy="678.4" r="2.8"/><circle cx="404.5" cy="701" r="5.7"/></g><circle cx="246" cy="735" r="22" fill="url(#bsph)"/><g fill="#fff"><path d="M243.2 732.9L240.6 731.1L237.6 730.5L235.0 728.6L232.0 727.9L229.2 726.6L227.3 732.2L230.8 731.5L233.5 733.1L236.6 733.2L239.6 734.2L242.4 735.3ZM244.0 732.3L242.2 729.6L240.2 727.0L237.7 724.9L236.8 721.3L233.7 719.8L230.2 723.4L233.0 725.2L235.3 727.4L237.9 729.4L240.2 731.6L242.8 733.6ZM247.1 731.7L247.5 728.6L248.3 725.4L248.5 722.3L247.7 719.2L248.9 716.1L242.1 716.2L243.3 719.3L244.3 722.4L244.7 725.5L245.2 728.6L245.0 731.7ZM247.8 732.2L250.0 729.8L251.2 727.0L252.0 724.1L253.9 721.6L254.9 718.7L249.8 716.9L248.9 719.7L247.8 722.6L247.4 725.6L247.1 728.7L246.1 731.5ZM249.3 733.9L251.4 732.2L254.4 731.8L256.6 730.1L258.9 728.6L261.5 727.6L257.7 722.3L256.0 724.6L254.3 727.0L252.0 728.3L250.0 730.3L248.0 732.1ZM249.2 735.8L252.3 736.2L255.2 737.9L258.3 738.0L261.3 738.8L264.4 739.2L264.9 733.2L261.7 734.2L258.7 733.6L255.6 734.2L252.5 733.9L249.4 734.0ZM247.9 737.9L250.3 739.6L252.6 741.2L254.4 743.6L256.3 745.9L257.7 748.8L261.8 743.5L259.8 741.3L256.7 740.7L254.5 738.8L251.9 737.4L249.4 736.0ZM246.4 738.6L247.9 741.2L249.1 744.0L250.0 747.0L252.4 749.2L252.2 752.7L256.9 750.0L255.9 747.1L253.7 744.9L252.3 742.2L249.9 740.1L248.2 737.5ZM244.5 738.1L243.9 741.2L243.1 744.3L242.0 747.4L241.4 750.5L239.8 753.5L245.2 754.3L246.1 751.2L245.9 748.0L246.2 744.8L246.8 741.7L246.6 738.4ZM242.4 736.1L240.4 738.4L238.4 740.7L236.0 742.5L233.2 744.0L231.8 746.8L234.5 749.6L236.4 747.1L239.3 745.8L240.5 742.7L242.6 740.6L244.4 738.0ZM242.6 735.2L240.0 735.8L237.3 736.0L234.5 736.0L232.2 737.5L229.2 736.7L230.7 741.7L233.4 741.4L235.5 739.3L238.3 739.1L240.8 738.4L243.2 737.2Z" stroke="#fff" stroke-width="0.6" stroke-linejoin="round"/><circle cx="228.2" cy="729.4" r="2.9"/><circle cx="232.4" cy="721.1" r="2.5"/><circle cx="245.5" cy="716.1" r="3.4"/><circle cx="251.9" cy="717.6" r="2.7"/><circle cx="259.5" cy="724.9" r="3.3"/><circle cx="264.6" cy="736.3" r="3.0"/><circle cx="259.7" cy="746.2" r="3.4"/><circle cx="255.2" cy="751.1" r="2.7"/><circle cx="243.0" cy="754.0" r="2.7"/><circle cx="233.1" cy="748.2" r="2.0"/><circle cx="230.0" cy="739.4" r="2.6"/><circle cx="246" cy="735" r="4.8"/></g><circle cx="288" cy="761.5" r="25" fill="url(#bsph)"/><g fill="#fff"><path d="M285.2 758.3L281.7 757.1L278.5 755.3L275.1 753.8L271.7 752.6L268.3 750.9L266.3 756.2L269.9 757.2L273.1 759.1L276.8 759.7L280.3 760.7L284.2 760.8ZM286.7 757.7L284.6 754.9L283.1 751.5L280.7 748.9L279.3 745.5L276.6 743.1L272.2 746.5L275.2 748.7L277.4 751.5L280.1 753.9L282.3 756.7L284.7 759.3ZM289.4 757.6L289.3 754.7L289.3 751.7L290.0 748.7L289.2 745.8L289.8 742.8L282.9 743.3L283.6 746.2L285.5 749.1L286.0 752.0L286.1 754.9L286.6 757.8ZM292.0 760.0L294.1 757.2L296.8 754.9L298.5 751.8L300.7 749.0L303.6 746.9L298.9 742.8L297.0 745.8L295.6 749.3L293.6 752.1L291.2 754.7L290.0 758.2ZM291.8 761.1L295.0 760.7L298.3 760.9L301.4 760.4L304.6 760.0L307.9 760.2L306.5 754.1L303.4 755.1L300.3 755.6L297.5 757.8L294.2 757.6L291.3 759.0ZM291.2 763.6L293.9 766.4L297.3 767.4L300.6 768.5L303.6 770.5L306.2 773.5L308.7 767.2L305.0 767.0L302.6 763.6L298.4 764.5L295.4 762.7L292.1 761.4ZM289.0 765.4L291.4 768.1L292.5 771.6L294.3 774.7L296.1 777.8L298.5 780.4L303.2 777.0L300.2 774.8L298.4 771.8L295.7 769.3L293.6 766.5L290.6 764.2ZM286.2 765.1L284.7 768.7L284.3 772.4L284.7 776.2L282.9 779.8L282.9 783.6L288.5 784.2L288.9 780.4L288.5 776.6L288.5 772.9L287.9 769.0L288.6 765.3ZM285.4 764.3L282.4 766.8L280.2 769.8L279.0 773.3L275.7 775.6L274.5 779.1L279.7 782.3L280.8 778.6L282.7 775.5L283.7 771.8L285.3 768.5L287.5 765.6ZM284.1 761.4L280.8 762.3L277.1 761.7L273.7 762.6L270.2 763.0L266.6 762.9L268.2 770.1L271.1 767.0L274.6 766.7L277.7 764.8L281.5 765.6L284.7 764.1Z" stroke="#fff" stroke-width="0.6" stroke-linejoin="round"/><circle cx="267.2" cy="753.9" r="2.8"/><circle cx="274.6" cy="744.6" r="2.8"/><circle cx="286.2" cy="743.1" r="3.5"/><circle cx="301.8" cy="745.4" r="3.2"/><circle cx="307.1" cy="756.7" r="3.2"/><circle cx="307.6" cy="769.9" r="3.3"/><circle cx="300.5" cy="779.0" r="2.9"/><circle cx="286.1" cy="783.9" r="2.9"/><circle cx="276.7" cy="780.5" r="3.1"/><circle cx="267.4" cy="766.5" r="3.7"/><circle cx="288" cy="761.5" r="5.5"/></g><circle cx="341" cy="755" r="26" fill="url(#bsph)"/><g fill="#fff"><path d="M337.2 756.0L334.3 756.9L330.9 756.8L328.4 758.5L325.9 760.1L322.7 760.2L325.1 765.4L327.9 764.5L330.3 762.4L332.7 760.6L335.4 759.3L338.0 757.8ZM337.5 753.0L334.6 751.5L331.5 750.5L328.5 749.4L325.2 749.2L322.7 746.4L321.0 753.2L324.0 754.3L327.3 754.4L330.3 755.3L333.7 754.8L336.8 755.8ZM339.0 751.5L337.5 748.9L336.0 746.2L333.8 744.1L332.3 741.5L330.6 739.0L327.1 742.1L328.7 744.7L329.9 747.6L333.0 748.9L334.9 751.2L337.2 753.1ZM341.5 750.6L339.9 747.5L338.2 744.5L339.0 740.5L338.2 737.0L337.0 733.8L331.7 735.8L333.1 738.9L333.6 742.5L334.6 745.8L337.0 748.6L339.1 751.5ZM343.6 751.8L345.0 748.4L346.3 745.0L347.2 741.5L349.9 738.6L351.5 735.3L345.0 733.0L344.2 736.6L343.3 740.1L342.1 743.6L341.5 747.2L341.2 750.9ZM345.0 753.9L347.9 752.4L350.8 751.1L352.8 748.5L356.4 748.1L357.7 744.7L354.8 740.9L352.2 742.6L350.4 745.4L347.8 747.2L345.7 749.6L343.4 751.7ZM345.0 755.4L348.3 755.3L351.6 754.9L355.1 755.9L358.4 755.4L361.7 755.5L360.4 747.8L357.3 749.1L354.3 750.8L350.9 750.6L347.8 752.1L344.6 752.9ZM344.3 757.3L346.9 760.0L350.4 760.3L353.3 762.4L356.1 764.6L359.4 765.5L362.2 758.3L358.1 759.4L355.1 757.8L351.8 756.7L348.4 756.2L345.3 754.7ZM342.2 758.8L342.3 762.1L342.9 765.2L345.1 767.5L344.8 771.1L346.9 773.5L352.7 770.7L349.9 768.7L348.8 765.8L347.1 763.2L345.7 760.5L344.2 757.8ZM339.9 758.9L339.2 762.2L339.6 765.5L338.9 768.7L337.6 772.0L338.6 775.3L345.8 775.1L343.3 771.9L342.7 768.7L343.2 765.4L342.2 762.1L342.1 758.9ZM337.1 756.8L334.9 760.1L331.2 762.0L330.0 766.1L326.0 767.8L323.9 771.0L327.7 774.1L331.2 772.0L333.5 768.9L334.8 765.0L337.3 762.0L339.2 758.6Z" stroke="#fff" stroke-width="0.6" stroke-linejoin="round"/><circle cx="324.0" cy="763.1" r="2.9"/><circle cx="321.8" cy="749.9" r="3.5"/><circle cx="328.8" cy="740.5" r="2.3"/><circle cx="334.0" cy="734.9" r="2.8"/><circle cx="348.8" cy="734.4" r="3.4"/><circle cx="356.2" cy="742.8" r="2.4"/><circle cx="361.1" cy="751.7" r="3.9"/><circle cx="360.7" cy="762.0" r="3.9"/><circle cx="349.1" cy="772.4" r="3.2"/><circle cx="341.9" cy="775.2" r="3.6"/><circle cx="325.8" cy="772.6" r="2.5"/><circle cx="341" cy="755" r="5.7"/></g><circle cx="398" cy="752" r="25" fill="url(#bsph)"/><g fill="#fff"><path d="M399.3 748.3L400.4 745.0L400.5 741.7L400.4 738.3L401.7 735.1L402.7 731.8L395.9 731.4L396.4 734.7L395.7 738.0L396.7 741.5L396.7 744.8L396.9 748.2ZM400.6 749.2L402.5 746.8L404.9 744.7L406.6 742.1L408.8 739.9L411.9 738.2L407.1 735.0L404.8 737.2L403.1 739.8L401.6 742.5L400.4 745.4L398.4 747.7ZM402.0 752.0L404.7 750.8L407.6 750.2L410.6 749.9L413.3 748.6L415.9 747.4L414.0 742.3L411.4 743.7L408.9 745.4L406.1 746.4L403.5 747.8L401.1 749.5ZM401.6 753.8L404.5 754.5L407.5 754.2L410.3 756.1L413.3 756.5L416.2 757.3L416.9 751.5L413.9 751.5L410.8 752.0L408.0 750.7L404.9 751.0L401.8 751.5ZM399.9 755.6L401.9 758.5L404.9 760.3L407.4 762.7L409.5 765.7L411.7 768.4L415.5 764.1L412.8 761.9L409.6 760.2L407.3 757.6L404.4 755.6L401.3 753.9ZM397.6 755.9L396.7 759.2L397.5 762.2L397.3 765.4L398.5 768.3L397.7 771.6L403.5 770.7L404.1 767.4L402.2 764.6L401.0 761.6L400.5 758.6L400.3 755.4ZM396.7 755.6L395.0 758.9L394.2 762.4L393.6 766.0L391.3 769.2L389.8 772.6L396.4 773.9L397.2 770.4L397.2 766.7L398.1 763.2L398.2 759.5L398.9 756.0ZM393.9 753.1L391.2 755.0L389.1 757.5L386.5 759.5L384.0 761.6L381.2 763.4L386.1 768.7L387.4 765.3L389.5 762.7L391.5 760.1L393.5 757.5L395.6 754.9ZM394.1 750.5L391.0 750.7L387.9 751.5L384.6 750.8L381.4 750.3L378.3 750.5L378.6 756.2L381.7 755.1L384.8 754.0L388.0 754.4L391.2 754.3L394.3 753.5ZM394.7 750.0L392.1 747.5L388.7 746.9L385.7 745.3L382.3 744.8L379.4 743.0L377.6 748.1L380.9 748.8L383.9 750.4L387.5 750.3L390.8 751.1L394.0 752.0ZM396.9 748.3L395.7 745.0L393.8 742.2L392.1 739.2L392.0 735.3L390.0 732.5L384.4 735.9L387.7 737.9L389.1 741.0L390.9 743.9L392.5 746.9L394.7 749.6Z" stroke="#fff" stroke-width="0.6" stroke-linejoin="round"/><circle cx="399.5" cy="731.6" r="3.4"/><circle cx="408.9" cy="736.2" r="2.9"/><circle cx="415.1" cy="745.2" r="2.7"/><circle cx="416.6" cy="754.2" r="2.9"/><circle cx="413.8" cy="766.1" r="2.8"/><circle cx="400.9" cy="771.1" r="2.9"/><circle cx="393.1" cy="773.3" r="3.3"/><circle cx="383.6" cy="766.0" r="3.6"/><circle cx="378.4" cy="753.4" r="2.9"/><circle cx="378.6" cy="745.4" r="2.7"/><circle cx="387.2" cy="734.2" r="3.3"/><circle cx="398" cy="752" r="5.5"/></g><circle cx="240" cy="806.5" r="22" fill="url(#bsph)"/><g fill="#fff"><path d="M237.5 808.7L234.8 810.1L232.8 812.0L230.5 813.8L228.5 815.8L225.9 817.3L229.7 820.6L231.9 818.8L233.8 816.6L234.9 813.9L236.8 811.8L238.8 809.9ZM236.5 806.3L234.0 806.6L231.5 807.0L229.0 807.4L226.7 808.6L223.6 806.6L225.1 812.7L227.5 811.9L229.9 810.8L232.5 810.8L234.7 809.1L237.2 808.7ZM237.5 803.7L234.8 802.6L232.1 801.6L229.5 800.1L226.9 798.6L224.6 796.4L222.3 802.5L225.1 803.4L228.0 804.0L231.0 804.4L233.9 804.9L236.8 805.7ZM239.8 803.1L239.0 800.6L238.7 798.0L237.3 795.9L238.0 792.9L236.7 790.7L232.6 792.1L233.4 794.5L234.1 797.0L235.5 799.2L236.7 801.5L237.7 803.8ZM242.0 803.7L243.2 800.7L244.8 797.9L246.6 795.2L247.9 792.2L250.2 789.7L245.2 787.8L243.0 790.4L242.9 793.8L241.6 796.7L241.1 800.0L240.1 803.0ZM243.1 805.0L245.2 803.4L248.2 802.8L250.1 800.8L252.9 800.0L254.3 797.3L251.1 793.4L249.5 795.7L247.9 798.1L246.0 800.0L243.8 801.6L241.4 802.9ZM243.3 806.8L246.1 808.0L248.8 807.2L251.5 808.3L254.3 808.9L257.0 809.3L256.9 804.2L254.2 803.8L251.5 805.0L248.7 804.4L246.0 805.9L243.3 804.6ZM241.6 809.4L243.2 811.7L244.2 814.5L245.4 817.0L247.1 819.2L249.0 821.2L252.5 818.4L250.5 816.5L248.3 814.7L246.9 812.3L245.0 810.3L243.1 808.3ZM239.1 809.9L238.8 812.7L239.0 815.4L238.8 818.2L238.4 821.0L239.0 823.7L243.9 823.4L243.8 820.6L242.6 817.9L241.7 815.2L241.7 812.4L241.8 809.7Z" stroke="#fff" stroke-width="0.6" stroke-linejoin="round"/><circle cx="228.1" cy="819.2" r="2.5"/><circle cx="224.4" cy="809.9" r="3.1"/><circle cx="223.4" cy="799.5" r="3.3"/><circle cx="234.9" cy="791.3" r="2.2"/><circle cx="247.3" cy="788.6" r="2.7"/><circle cx="253.0" cy="795.7" r="2.5"/><circle cx="257.0" cy="806.3" r="2.6"/><circle cx="250.6" cy="819.9" r="2.2"/><circle cx="241.9" cy="823.5" r="2.4"/><circle cx="240" cy="806.5" r="4.8"/></g><circle cx="303.7" cy="808" r="22" fill="url(#bsph)"/><g fill="#fff"><path d="M303.0 811.5L303.5 814.0L303.5 816.5L303.4 819.1L303.6 821.6L302.8 824.3L307.9 823.4L309.2 820.6L306.6 818.5L307.1 815.9L307.0 813.3L305.5 811.0ZM301.3 810.6L300.4 813.0L299.2 815.3L298.0 817.6L296.6 819.7L295.1 821.9L299.6 823.9L299.7 821.1L300.9 818.8L302.4 816.7L302.8 814.0L303.1 811.4ZM300.4 808.8L297.0 809.3L294.3 811.2L291.2 812.1L287.5 812.1L284.6 813.5L287.4 819.3L290.0 817.3L293.1 816.1L295.8 814.3L298.2 811.8L301.2 810.4ZM300.9 805.9L298.1 805.1L295.5 803.7L292.6 803.3L289.9 802.1L287.4 800.2L285.6 806.2L288.7 806.0L291.6 806.6L294.2 807.8L297.3 807.9L300.3 807.7ZM302.7 804.7L300.8 802.0L299.0 799.3L297.4 796.4L295.0 794.1L293.4 791.2L289.3 794.2L292.0 796.3L294.4 798.6L295.8 801.6L298.2 803.9L300.7 806.1ZM305.2 804.9L306.1 801.9L306.1 798.8L308.6 796.1L308.6 793.0L309.5 790.0L304.3 789.1L303.7 792.2L304.2 795.4L303.4 798.4L303.2 801.4L302.6 804.5ZM306.6 806.2L308.4 804.3L311.5 803.7L313.2 801.7L315.6 800.3L317.3 798.3L313.5 794.5L311.9 796.6L310.3 798.7L309.2 801.3L306.6 802.5L304.7 804.3ZM307.3 809.0L310.3 807.7L313.3 806.6L316.8 807.8L319.8 806.4L323.1 806.4L321.6 800.1L318.8 802.0L316.0 804.0L312.7 803.9L309.7 805.2L306.8 806.8ZM305.5 811.3L308.1 812.8L310.7 814.2L312.8 816.4L315.3 817.9L317.3 820.3L320.0 816.1L318.2 813.3L314.8 813.2L312.6 811.2L309.4 810.7L306.6 809.5Z" stroke="#fff" stroke-width="0.6" stroke-linejoin="round"/><circle cx="306.0" cy="823.7" r="2.6"/><circle cx="297.2" cy="822.8" r="2.4"/><circle cx="285.9" cy="816.3" r="3.3"/><circle cx="286.5" cy="803.1" r="3.1"/><circle cx="291.6" cy="792.6" r="2.5"/><circle cx="307.3" cy="789.6" r="2.6"/><circle cx="315.5" cy="796.5" r="2.7"/><circle cx="322.3" cy="803.3" r="3.2"/><circle cx="318.8" cy="817.9" r="2.5"/><circle cx="303.7" cy="808" r="4.8"/></g><circle cx="351.8" cy="805" r="24" fill="url(#bsph)"/><g fill="#fff"><path d="M355.3 806.7L358.6 807.8L362.1 808.3L365.5 808.9L369.0 808.3L372.3 810.1L372.8 804.7L369.4 803.0L365.9 803.3L362.4 803.9L358.9 804.4L355.5 804.3ZM353.7 808.2L355.0 811.1L357.4 813.0L359.5 815.1L361.4 817.4L363.8 819.2L366.8 816.0L364.3 814.3L361.9 812.6L359.6 810.7L357.5 808.6L355.5 806.3ZM351.5 808.8L352.3 811.7L352.8 814.6L352.6 817.7L354.3 820.2L354.2 823.3L359.2 821.8L359.7 818.6L357.6 816.2L356.1 813.6L355.8 810.6L354.4 808.0ZM349.5 808.1L348.8 811.4L347.6 814.6L346.6 817.8L345.5 820.9L344.5 824.1L349.0 825.3L350.3 822.1L350.9 818.8L351.5 815.5L351.8 812.2L351.6 808.7ZM348.6 806.8L345.6 807.8L342.6 808.8L340.9 811.5L338.1 812.7L335.2 814.0L338.7 818.2L341.5 817.0L343.2 814.4L345.4 812.3L347.9 810.7L350.1 808.6ZM348.0 804.5L344.6 805.2L341.0 805.0L337.6 806.2L334.2 806.8L330.5 806.6L331.7 812.5L335.0 811.2L338.2 809.4L341.7 808.8L345.1 807.8L348.4 806.4ZM348.8 802.9L346.4 801.5L344.2 799.5L341.8 798.0L339.1 797.3L336.6 796.1L334.5 800.9L337.2 801.6L340.0 802.2L342.7 802.9L345.1 804.5L348.0 804.8ZM351.1 801.2L349.6 798.7L348.5 796.0L347.3 793.3L346.2 790.5L345.3 787.6L339.2 791.2L341.3 793.4L343.5 795.5L345.7 797.6L346.8 800.4L348.7 802.7ZM352.9 801.5L354.3 798.5L354.8 795.3L354.7 792.1L356.5 789.1L356.5 785.9L350.5 785.3L350.5 788.5L351.2 791.7L351.0 794.9L351.2 798.1L350.8 801.3ZM355.5 803.4L357.5 800.5L359.9 798.0L361.7 795.0L364.6 792.9L367.9 791.1L363.6 787.6L360.6 789.7L358.4 792.4L357.4 796.0L355.1 798.6L353.2 801.5ZM355.8 804.6L358.2 803.1L360.7 801.6L363.3 800.4L366.7 800.6L368.9 798.6L365.3 792.6L363.7 795.5L360.9 796.5L358.4 797.7L356.8 800.7L354.6 802.7Z" stroke="#fff" stroke-width="0.6" stroke-linejoin="round"/><circle cx="372.6" cy="807.1" r="2.7"/><circle cx="365.4" cy="817.6" r="2.2"/><circle cx="357.0" cy="822.5" r="2.6"/><circle cx="346.8" cy="824.7" r="2.3"/><circle cx="337.1" cy="816.2" r="2.7"/><circle cx="331.0" cy="809.1" r="3.0"/><circle cx="335.6" cy="798.4" r="2.6"/><circle cx="342.3" cy="789.4" r="3.5"/><circle cx="353.6" cy="785.6" r="3.0"/><circle cx="365.3" cy="789.0" r="2.8"/><circle cx="367.1" cy="795.7" r="3.5"/><circle cx="351.8" cy="805" r="5.3"/></g><circle cx="410.7" cy="805" r="25" fill="url(#bsph)"/><g fill="#fff"><path d="M411.6 801.3L412.7 797.9L413.7 794.4L413.7 790.8L415.4 787.5L414.2 783.8L409.3 783.4L409.4 786.9L409.9 790.5L410.1 794.1L409.9 797.6L409.2 801.1ZM414.4 803.6L417.0 801.6L420.2 800.2L422.5 797.9L426.0 796.9L428.1 794.2L424.1 789.4L422.4 792.4L419.6 794.2L417.5 797.0L414.8 798.8L413.1 802.0ZM414.5 806.3L418.2 806.6L421.9 807.3L425.5 806.2L429.1 806.6L432.8 806.2L432.5 800.3L428.9 802.0L425.3 801.9L421.6 802.6L418.0 803.7L414.4 803.5ZM412.9 808.4L415.4 811.0L418.6 812.8L421.1 815.6L423.2 818.9L426.2 821.0L429.8 816.1L426.6 814.3L424.4 811.1L420.4 810.4L417.5 808.3L414.4 806.3ZM411.0 808.8L411.0 811.8L410.5 814.8L412.1 817.4L411.8 820.5L412.3 823.3L417.7 822.0L417.0 819.2L415.6 816.6L414.0 814.0L414.4 810.9L412.9 808.3ZM407.5 807.6L405.9 810.8L404.1 814.0L402.5 817.2L400.1 820.1L398.6 823.4L403.3 825.9L405.0 822.7L406.5 819.4L407.6 815.8L409.2 812.5L409.6 808.7ZM406.9 805.5L403.9 806.2L400.7 806.6L397.5 806.8L394.7 808.0L391.4 808.1L393.5 813.7L396.8 813.7L399.3 811.7L401.9 809.8L404.9 809.1L407.6 807.4ZM407.8 802.3L405.2 800.4L402.6 798.9L400.0 797.2L397.1 796.1L394.3 794.8L392.3 799.5L394.5 802.2L398.0 801.8L400.7 803.3L403.8 803.7L407.0 804.1ZM410.0 801.1L408.9 798.4L407.4 795.9L406.2 793.3L405.7 790.2L404.8 787.4L399.4 790.2L401.7 792.3L402.3 795.3L404.4 797.5L406.3 799.8L408.0 802.2Z" stroke="#fff" stroke-width="0.6" stroke-linejoin="round"/><circle cx="412.0" cy="783.6" r="2.5"/><circle cx="426.2" cy="791.9" r="3.1"/><circle cx="432.6" cy="803.6" r="2.9"/><circle cx="428.2" cy="818.2" r="3.0"/><circle cx="415.4" cy="822.6" r="2.8"/><circle cx="401.0" cy="824.7" r="2.6"/><circle cx="392.7" cy="811.6" r="3.0"/><circle cx="393.4" cy="797.0" r="2.5"/><circle cx="402.5" cy="788.6" r="3.0"/><circle cx="410.7" cy="805" r="5.5"/></g>
<path d="M131 590 C128 600 118 603 105 605 C92 610 88 625 80 633 C60 640 42 650 40 670 C40 690 55 705 71 719 C55 730 35 745 25 770 C19 790 17 805 17 822 M128 598 C118 612 112 630 122 650 C135 660 145 672 145 690 C140 705 120 712 100 716 C85 718 75 720 68 722 M149 693 C158 685 170 680 186 686 C200 695 208 706 220 705 C232 703 240 692 250 689 C258 687 265 688 271 689 M149 695 C155 715 153 740 152 770 C150 795 135 810 124 822 M254 580 C258 595 268 612 266 630 C260 648 260 665 272 684 C275 705 272 725 264 750 C260 775 266 800 271 822 M274 687 C278 668 282 655 295 651 C312 648 330 646 340 650 C352 655 360 668 372 676 C385 670 400 668 414 668 C422 660 430 645 440 634 C455 622 458 608 454 588 M352 580 C356 600 365 625 368 640 C372 660 372 680 372 720 C370 750 370 775 377 795 C379 805 380 815 380 822 M418 670 C430 680 436 700 432 730 C430 755 434 775 440 795 C446 810 450 818 452 822 M378 729 C390 735 400 742 408 748 C415 755 422 762 431 764" fill="none" stroke="#e23c3c" stroke-width="2.8" stroke-dasharray="8 5"/>
<path d="M9 0L-6 -6L-3 0L-6 6Z" transform="translate(17 832) rotate(90)" fill="#e23c3c"/>
<path d="M9 0L-6 -6L-3 0L-6 6Z" transform="translate(117 829) rotate(135)" fill="#e23c3c"/>
<path d="M9 0L-6 -6L-3 0L-6 6Z" transform="translate(131.8 569) rotate(-90)" fill="#e23c3c"/>
<path d="M9 0L-6 -6L-3 0L-6 6Z" transform="translate(252.6 573) rotate(-100)" fill="#e23c3c"/>
<path d="M9 0L-6 -6L-3 0L-6 6Z" transform="translate(351.8 569) rotate(-90)" fill="#e23c3c"/>
<path d="M9 0L-6 -6L-3 0L-6 6Z" transform="translate(451 580) rotate(-100)" fill="#e23c3c"/>
<path d="M9 0L-6 -6L-3 0L-6 6Z" transform="translate(271.8 832) rotate(90)" fill="#e23c3c"/>
<path d="M9 0L-6 -6L-3 0L-6 6Z" transform="translate(380 832) rotate(90)" fill="#e23c3c"/>
<path d="M9 0L-6 -6L-3 0L-6 6Z" transform="translate(453 832) rotate(80)" fill="#e23c3c"/></svg></body></html>
